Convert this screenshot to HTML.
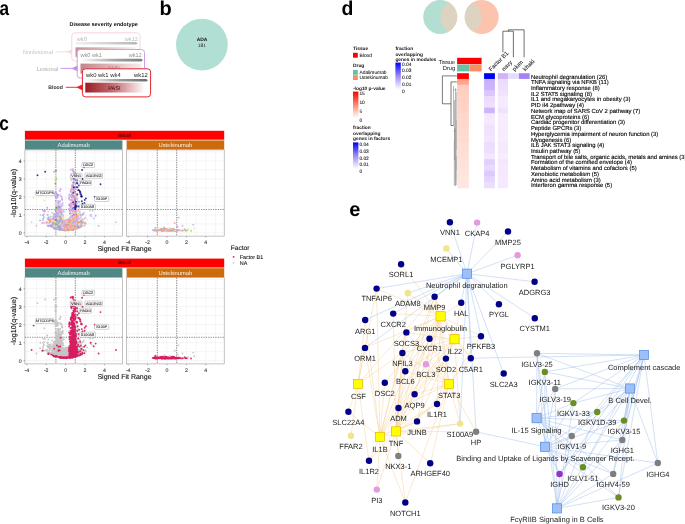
<!DOCTYPE html><html><head><meta charset="utf-8"><style>html,body{margin:0;padding:0;background:#fff;}svg{display:block;text-rendering:geometricPrecision;will-change:transform;}</style></head><body><svg width="685" height="524" viewBox="0 0 685 524" font-family='"Liberation Sans", sans-serif'>
<rect width="685" height="524" fill="#fff"/>
<defs><linearGradient id="barg" x1="0" x2="1" y1="0" y2="0"><stop offset="0" stop-color="#ffffff"/><stop offset="0.55" stop-color="#9a9c9c"/><stop offset="1" stop-color="#6b6e6e"/></linearGradient><linearGradient id="pasig" x1="0" x2="1" y1="0" y2="0"><stop offset="0" stop-color="#9b1c24"/><stop offset="0.5" stop-color="#c9737a"/><stop offset="1" stop-color="#ffffff"/></linearGradient><linearGradient id="pasig2" x1="0" x2="1" y1="0" y2="0"><stop offset="0" stop-color="#c4848a"/><stop offset="1" stop-color="#f8ecee"/></linearGradient><linearGradient id="pasig1" x1="0" x2="1" y1="0" y2="0"><stop offset="0" stop-color="#c98f94"/><stop offset="1" stop-color="#f9eeef"/></linearGradient><linearGradient id="barg1" x1="0" x2="1" y1="0" y2="0"><stop offset="0" stop-color="#f2f2f2"/><stop offset="1" stop-color="#b4b6b6"/></linearGradient></defs>
<text x="69.5" y="26.3" font-size="5.45" fill="#111" font-weight="bold">Disease severity endotype</text>
<rect x="71.8" y="32.8" width="68.2" height="28.2" rx="3" fill="#fff" stroke="#f7d3db" stroke-width="0.9"/>
<text x="76.8" y="40.8" font-size="5.6" fill="#b9b9b9">wk0</text>
<text x="137.9" y="40.8" font-size="5.6" fill="#b9b9b9" text-anchor="end">wk12</text>
<path d="M75.5 42.0 H136 L137.8 43.2 L136 44.4 H75.5 Z" fill="url(#barg1)"/>
<rect x="75.5" y="47.3" width="60" height="9.5" fill="url(#pasig1)"/>
<rect x="77.2" y="49.5" width="67.3" height="28.6" rx="3" fill="#fff" stroke="#c996ea" stroke-width="0.9"/>
<text x="80.4" y="56.8" font-size="5.6" fill="#8f8f8f">wk0 wk1</text>
<text x="141.7" y="56.8" font-size="5.6" fill="#8f8f8f" text-anchor="end">wk12</text>
<path d="M80.5 58.8 H141.3 L143 60.1 L141.3 61.4 H80.5 Z" fill="url(#barg)" opacity="0.9"/>
<rect x="80.5" y="63.6" width="61" height="10" fill="url(#pasig2)"/>
<text x="107.5" y="70.2" font-size="5.6" fill="#b08080">PASI</text>
<rect x="82.4" y="68.8" width="68.2" height="28.1" rx="3.2" fill="#fff" stroke="#e2262e" stroke-width="1"/>
<text x="86.0" y="76.6" font-size="5.9" fill="#222">wk0 wk1 wk4</text>
<text x="147.8" y="76.6" font-size="5.9" fill="#222" text-anchor="end">wk12</text>
<path d="M85.3 78.9 H146.3 L148 80.2 L146.3 81.6 H85.3 Z" fill="url(#barg)"/>
<rect x="85.3" y="82.7" width="59.5" height="9.8" fill="url(#pasig)"/>
<text x="114.3" y="89.5" font-size="5.6" fill="#3a0d10" text-anchor="middle">PASI</text>
<text x="53.0" y="53.8" font-size="5.8" fill="#c4c4c4" text-anchor="end">Nonlesional</text>
<line x1="55.3" y1="51.8" x2="70" y2="51.8" stroke="#f9d5dc" stroke-width="0.9"/>
<path d="M67 51.8 L72 49.3 L72 54.3 Z" fill="#f9d5dc"/>
<text x="58.2" y="71.0" font-size="5.8" fill="#adadad" text-anchor="end">Lesional</text>
<line x1="60.5" y1="68.4" x2="75" y2="68.4" stroke="#c58ee8" stroke-width="0.9"/>
<path d="M71.5 68.4 L77.3 65.6 L77.3 71.2 Z" fill="#c58ee8"/>
<text x="62.9" y="88.8" font-size="5.2" fill="#333" text-anchor="end" font-weight="bold">Blood</text>
<line x1="65.8" y1="87.3" x2="80" y2="87.3" stroke="#ee1c24" stroke-width="0.9"/>
<path d="M76.5 87.3 L82.6 84.2 L82.6 90.4 Z" fill="#ee1c24"/>
<circle cx="201.9" cy="44.6" r="25.9" fill="#b2dfd3"/>
<text x="202.1" y="40.7" font-size="4.9" fill="#111" text-anchor="middle" font-weight="bold">ADA</text>
<text x="201.9" y="46.7" font-size="4.9" fill="#222" text-anchor="middle">181</text>
<rect x="24.9" y="130.8" width="199.3" height="8.9" fill="#ff0000"/>
<text x="124.5" y="136.6" font-size="4.9" fill="#1a0000" text-anchor="middle">Blood</text>
<rect x="24.9" y="140.4" width="97.5" height="9.2" fill="#4f8885"/>
<rect x="126.6" y="140.4" width="97.6" height="9.2" fill="#cc6a0c"/>
<text x="73.7" y="147.1" font-size="5.8" fill="#f2f2f2" text-anchor="middle">Adalimumab</text>
<text x="175.4" y="147.1" font-size="5.8" fill="#f2f2f2" text-anchor="middle">Ustekinumab</text>
<rect x="24.9" y="149.9" width="97.5" height="86.2" fill="#fff" stroke="#9a9a9a" stroke-width="0.6"/>
<path d="M26.8 149.9V236.1 M36.5 149.9V236.1 M46.2 149.9V236.1 M55.9 149.9V236.1 M65.6 149.9V236.1 M75.3 149.9V236.1 M85.0 149.9V236.1 M94.7 149.9V236.1 M104.4 149.9V236.1 M114.1 149.9V236.1 M24.9 232.9H122.4 M24.9 223.9H122.4 M24.9 214.9H122.4 M24.9 205.9H122.4 M24.9 196.9H122.4 M24.9 187.9H122.4 M24.9 178.9H122.4 M24.9 169.9H122.4 M24.9 160.9H122.4 M24.9 151.9H122.4" stroke="#ececec" stroke-width="0.5" fill="none"/>
<path d="M55.9 149.9V236.1 M75.3 149.9V236.1 M24.9 209.5H122.4" stroke="#333" stroke-width="0.55" stroke-dasharray="1.3 1.1" fill="none"/>
<line x1="26.8" y1="236.1" x2="26.8" y2="237.4" stroke="#555" stroke-width="0.5"/>
<text x="26.8" y="244.1" font-size="5.2" fill="#3a3a3a" text-anchor="middle" stroke="#3a3a3a" stroke-width="0.1">-4</text>
<line x1="46.2" y1="236.1" x2="46.2" y2="237.4" stroke="#555" stroke-width="0.5"/>
<text x="46.2" y="244.1" font-size="5.2" fill="#3a3a3a" text-anchor="middle" stroke="#3a3a3a" stroke-width="0.1">-2</text>
<line x1="65.6" y1="236.1" x2="65.6" y2="237.4" stroke="#555" stroke-width="0.5"/>
<text x="65.6" y="244.1" font-size="5.2" fill="#3a3a3a" text-anchor="middle" stroke="#3a3a3a" stroke-width="0.1">0</text>
<line x1="85.0" y1="236.1" x2="85.0" y2="237.4" stroke="#555" stroke-width="0.5"/>
<text x="85.0" y="244.1" font-size="5.2" fill="#3a3a3a" text-anchor="middle" stroke="#3a3a3a" stroke-width="0.1">2</text>
<line x1="104.4" y1="236.1" x2="104.4" y2="237.4" stroke="#555" stroke-width="0.5"/>
<text x="104.4" y="244.1" font-size="5.2" fill="#3a3a3a" text-anchor="middle" stroke="#3a3a3a" stroke-width="0.1">4</text>
<rect x="126.6" y="149.9" width="97.6" height="86.2" fill="#fff" stroke="#9a9a9a" stroke-width="0.6"/>
<path d="M128.2 149.9V236.1 M137.9 149.9V236.1 M147.6 149.9V236.1 M157.3 149.9V236.1 M167.0 149.9V236.1 M176.7 149.9V236.1 M186.4 149.9V236.1 M196.1 149.9V236.1 M205.8 149.9V236.1 M215.5 149.9V236.1 M126.6 232.9H224.2 M126.6 223.9H224.2 M126.6 214.9H224.2 M126.6 205.9H224.2 M126.6 196.9H224.2 M126.6 187.9H224.2 M126.6 178.9H224.2 M126.6 169.9H224.2 M126.6 160.9H224.2 M126.6 151.9H224.2" stroke="#ececec" stroke-width="0.5" fill="none"/>
<path d="M157.3 149.9V236.1 M176.7 149.9V236.1 M126.6 209.5H224.2" stroke="#333" stroke-width="0.55" stroke-dasharray="1.3 1.1" fill="none"/>
<line x1="128.2" y1="236.1" x2="128.2" y2="237.4" stroke="#555" stroke-width="0.5"/>
<text x="128.2" y="244.1" font-size="5.2" fill="#3a3a3a" text-anchor="middle" stroke="#3a3a3a" stroke-width="0.1">-4</text>
<line x1="147.6" y1="236.1" x2="147.6" y2="237.4" stroke="#555" stroke-width="0.5"/>
<text x="147.6" y="244.1" font-size="5.2" fill="#3a3a3a" text-anchor="middle" stroke="#3a3a3a" stroke-width="0.1">-2</text>
<line x1="167.0" y1="236.1" x2="167.0" y2="237.4" stroke="#555" stroke-width="0.5"/>
<text x="167.0" y="244.1" font-size="5.2" fill="#3a3a3a" text-anchor="middle" stroke="#3a3a3a" stroke-width="0.1">0</text>
<line x1="186.4" y1="236.1" x2="186.4" y2="237.4" stroke="#555" stroke-width="0.5"/>
<text x="186.4" y="244.1" font-size="5.2" fill="#3a3a3a" text-anchor="middle" stroke="#3a3a3a" stroke-width="0.1">2</text>
<line x1="205.8" y1="236.1" x2="205.8" y2="237.4" stroke="#555" stroke-width="0.5"/>
<text x="205.8" y="244.1" font-size="5.2" fill="#3a3a3a" text-anchor="middle" stroke="#3a3a3a" stroke-width="0.1">4</text>
<line x1="23.6" y1="232.9" x2="24.9" y2="232.9" stroke="#555" stroke-width="0.5"/>
<text x="21.6" y="234.7" font-size="5.2" fill="#3a3a3a" text-anchor="end" stroke="#3a3a3a" stroke-width="0.1">0</text>
<line x1="23.6" y1="214.9" x2="24.9" y2="214.9" stroke="#555" stroke-width="0.5"/>
<text x="21.6" y="216.7" font-size="5.2" fill="#3a3a3a" text-anchor="end" stroke="#3a3a3a" stroke-width="0.1">1</text>
<line x1="23.6" y1="196.9" x2="24.9" y2="196.9" stroke="#555" stroke-width="0.5"/>
<text x="21.6" y="198.7" font-size="5.2" fill="#3a3a3a" text-anchor="end" stroke="#3a3a3a" stroke-width="0.1">2</text>
<line x1="23.6" y1="178.9" x2="24.9" y2="178.9" stroke="#555" stroke-width="0.5"/>
<text x="21.6" y="180.7" font-size="5.2" fill="#3a3a3a" text-anchor="end" stroke="#3a3a3a" stroke-width="0.1">3</text>
<line x1="23.6" y1="160.9" x2="24.9" y2="160.9" stroke="#555" stroke-width="0.5"/>
<text x="21.6" y="162.7" font-size="5.2" fill="#3a3a3a" text-anchor="end" stroke="#3a3a3a" stroke-width="0.1">4</text>
<text x="124.5" y="251.0" font-size="7.0" fill="#111" text-anchor="middle" stroke="#111" stroke-width="0.12">Signed Fit Range</text>
<text transform="translate(16.0 193.2) rotate(-90)" font-size="7.2" text-anchor="middle" textLength="48.5" lengthAdjust="spacingAndGlyphs" fill="#111" stroke="#111" stroke-width="0.12">-log10(q-value)</text>
<path d="M78.8 206.5h0M73.2 186.7h0" stroke="#0c0c70" stroke-width="1.90" stroke-linecap="round" stroke-opacity="0.85" fill="none"/>
<path d="M59.7 216.8h0M59.7 221.8h0M73.0 228.7h0M55.5 227.3h0M74.4 225.9h0M55.8 227.8h0M50.0 219.6h0M62.1 223.2h0M53.0 223.2h0M52.2 218.8h0M59.5 224.6h0M68.9 227.8h0M53.5 227.8h0M55.2 221.1h0M59.9 216.2h0M64.0 228.3h0M63.8 225.2h0" stroke="#a8b4b4" stroke-width="1.90" stroke-linecap="round" stroke-opacity="0.85" fill="none"/>
<path d="M78.0 226.7h0M68.5 222.2h0M54.9 195.4h0M58.1 228.6h0M74.1 188.6h0M61.9 227.9h0M54.7 222.5h0M60.0 212.2h0M71.3 212.8h0M57.6 222.2h0M74.8 213.2h0M77.4 205.9h0M75.2 219.2h0M77.2 224.2h0M76.2 220.3h0M73.4 221.6h0M60.1 223.4h0M75.7 220.3h0M57.0 213.0h0M59.3 217.7h0M70.9 229.8h0M73.9 224.7h0M73.6 206.9h0M59.1 223.6h0M59.0 210.1h0M81.0 224.9h0" stroke="#cdb0f4" stroke-width="1.90" stroke-linecap="round" stroke-opacity="0.85" fill="none"/>
<path d="M64.0 226.9h0M63.2 229.8h0M75.3 220.5h0M64.1 229.6h0M70.0 227.0h0M61.5 229.3h0M72.0 221.6h0M54.3 225.5h0M71.7 213.9h0M63.0 228.9h0M54.1 225.6h0M75.3 221.4h0M75.2 228.3h0M64.0 229.4h0M70.4 219.7h0" stroke="#a4cdf4" stroke-width="1.90" stroke-linecap="round" stroke-opacity="0.85" fill="none"/>
<path d="M69.6 225.1h0M66.5 229.2h0M75.0 212.6h0M67.8 226.2h0M68.6 229.1h0M67.3 229.4h0M65.5 229.9h0M72.9 228.0h0M73.7 225.3h0M69.3 221.7h0M65.9 227.5h0M74.4 223.8h0M73.6 205.4h0M72.4 195.5h0M72.2 223.4h0M64.5 226.9h0M72.4 221.5h0" stroke="#fd9470" stroke-width="1.90" stroke-linecap="round" stroke-opacity="0.85" fill="none"/>
<path d="M59.6 229.7h0M62.8 227.5h0M76.3 213.6h0M75.7 225.5h0M73.1 228.1h0M75.6 229.0h0M69.3 223.7h0M68.0 227.4h0M69.4 226.6h0M78.5 224.1h0M77.2 226.0h0M72.4 225.0h0M70.4 229.5h0M72.9 228.7h0M75.6 225.8h0M65.2 228.5h0" stroke="#fcc0a4" stroke-width="1.90" stroke-linecap="round" stroke-opacity="0.85" fill="none"/>
<path d="M61.6 215.6h0M59.7 229.8h0M71.8 216.7h0M66.7 227.3h0M80.8 222.1h0M59.7 229.1h0M76.9 223.9h0M63.1 228.7h0M62.0 229.4h0M71.5 218.8h0M72.9 204.1h0M72.0 217.1h0M59.4 229.2h0M55.9 227.7h0" stroke="#bcdcf7" stroke-width="1.90" stroke-linecap="round" stroke-opacity="0.85" fill="none"/>
<path d="M69.0 225.5h0M73.8 228.7h0M70.0 219.9h0M48.5 219.6h0M74.1 225.3h0M53.7 218.5h0M76.6 225.8h0M65.3 223.7h0M66.0 225.1h0M68.0 224.9h0M66.4 225.2h0M66.1 229.0h0M78.1 177.5h0M53.2 221.8h0M64.7 227.1h0M75.9 227.1h0M73.5 224.4h0M64.5 229.3h0M68.9 229.2h0M73.5 220.2h0" stroke="#f8b8a0" stroke-width="1.90" stroke-linecap="round" stroke-opacity="0.85" fill="none"/>
<path d="M58.6 222.7h0M69.9 222.2h0M71.5 205.0h0M56.8 210.0h0M60.6 225.1h0M72.7 215.2h0M58.2 228.3h0M62.8 229.8h0M60.0 221.0h0M60.1 221.6h0M57.4 221.9h0M60.3 195.3h0M67.8 226.5h0M57.3 228.9h0M74.4 223.8h0M58.4 218.9h0M57.0 217.0h0M60.4 222.5h0M60.2 212.9h0M69.9 218.2h0M72.5 216.0h0M55.8 224.7h0M73.3 208.1h0M74.8 217.1h0M56.5 218.8h0M80.2 224.1h0M77.4 218.6h0M58.7 223.8h0M74.0 180.7h0M73.7 213.4h0" stroke="#c7a6f2" stroke-width="1.90" stroke-linecap="round" stroke-opacity="0.85" fill="none"/>
<path d="M75.1 222.8h0M71.5 221.2h0M58.8 222.5h0M60.8 221.1h0M74.5 188.0h0M70.9 203.2h0M59.5 227.2h0M72.2 209.1h0M74.0 223.2h0M74.4 221.0h0M58.9 227.3h0M57.3 223.0h0M72.1 185.4h0M74.1 210.9h0M70.2 206.3h0M59.5 223.7h0M60.6 229.9h0M61.0 217.2h0M66.7 229.8h0M43.3 210.8h0M63.7 228.1h0M59.7 216.5h0M67.1 225.4h0M57.2 221.9h0M54.2 224.0h0M60.4 220.6h0" stroke="#ae88e6" stroke-width="1.90" stroke-linecap="round" stroke-opacity="0.85" fill="none"/>
<path d="M76.6 223.2h0M56.5 207.8h0M53.4 216.4h0M60.1 224.6h0M59.6 218.4h0M69.5 194.5h0M60.9 222.2h0M57.5 217.2h0M51.1 225.1h0M57.8 224.1h0M57.0 223.0h0M72.7 225.8h0M55.9 227.1h0M58.2 228.8h0" stroke="#8cbef0" stroke-width="1.90" stroke-linecap="round" stroke-opacity="0.85" fill="none"/>
<path d="M76.0 186.9h0M73.7 190.9h0M78.2 190.1h0" stroke="#22229a" stroke-width="1.90" stroke-linecap="round" stroke-opacity="0.85" fill="none"/>
<path d="M72.6 203.4h0M71.6 218.7h0M76.1 209.5h0M58.9 204.7h0M62.9 224.7h0M60.9 222.7h0M44.3 214.1h0M69.2 229.6h0M71.0 219.2h0M75.3 211.2h0M73.7 222.2h0M74.2 227.7h0M65.3 226.1h0M59.1 222.3h0M62.3 212.5h0M58.7 218.3h0" stroke="#f5afd6" stroke-width="1.90" stroke-linecap="round" stroke-opacity="0.85" fill="none"/>
<path d="M54.1 219.0h0M59.7 229.4h0M73.0 187.4h0M81.0 215.2h0M60.4 218.0h0M73.8 221.4h0M54.0 225.7h0M69.1 227.9h0M55.0 223.3h0M58.1 206.2h0M71.2 191.2h0M56.3 209.9h0M60.5 221.1h0M62.3 224.6h0M55.1 228.8h0M71.4 192.8h0M58.8 227.5h0M83.6 222.3h0M72.0 223.8h0M61.1 210.5h0M71.3 225.3h0M58.3 214.7h0" stroke="#bfa2f0" stroke-width="1.90" stroke-linecap="round" stroke-opacity="0.85" fill="none"/>
<path d="M78.4 225.9h0M54.2 220.8h0M62.3 224.8h0M73.6 224.6h0M56.9 195.7h0M64.8 229.8h0M58.6 212.2h0M74.1 195.1h0M59.5 224.4h0M75.8 215.9h0M58.5 213.1h0M73.5 221.9h0M74.4 218.1h0M63.9 228.7h0" stroke="#f7c6e2" stroke-width="1.90" stroke-linecap="round" stroke-opacity="0.85" fill="none"/>
<path d="M74.8 208.7h0M72.2 219.9h0M69.9 209.3h0M75.3 221.0h0M71.6 213.0h0M60.4 217.2h0M56.4 210.4h0M47.5 224.7h0M81.7 226.7h0M66.2 230.4h0" stroke="#f4e284" stroke-width="1.90" stroke-linecap="round" stroke-opacity="0.85" fill="none"/>
<path d="M40.4 214.9h0" stroke="#9cc8f2" stroke-width="1.90" stroke-linecap="round" stroke-opacity="0.85" fill="none"/>
<path d="M72.6 228.9h0M62.6 205.7h0M63.2 227.2h0M74.1 221.8h0M60.3 220.6h0M61.1 205.8h0M69.8 227.3h0M73.1 215.7h0M60.8 224.9h0M73.9 198.9h0M73.4 222.9h0M64.0 226.4h0M59.4 203.1h0M57.2 221.3h0M63.5 224.0h0M71.7 180.4h0M72.7 226.9h0M78.2 227.9h0M68.2 228.2h0M69.2 219.6h0M64.1 224.7h0M61.9 221.3h0M57.2 225.1h0M59.3 221.9h0M75.1 220.9h0" stroke="#d6bcf6" stroke-width="1.90" stroke-linecap="round" stroke-opacity="0.85" fill="none"/>
<path d="M74.3 223.6h0M62.2 199.5h0M71.9 219.6h0M61.9 214.3h0M72.5 178.0h0M58.4 223.4h0M61.8 229.8h0M73.5 221.3h0M77.3 221.6h0M71.8 224.4h0M61.4 229.9h0M73.1 216.3h0M84.1 219.0h0M72.5 221.2h0M62.1 227.6h0M59.1 228.1h0" stroke="#eba5ce" stroke-width="1.90" stroke-linecap="round" stroke-opacity="0.85" fill="none"/>
<path d="M76.8 218.7h0M69.9 227.9h0M68.6 225.3h0M72.3 229.7h0M69.8 227.9h0M65.5 228.7h0M69.8 228.4h0M71.4 227.3h0M55.3 220.9h0M79.8 218.6h0M68.4 223.7h0M67.3 224.3h0M66.0 221.3h0M77.2 223.5h0M73.6 229.3h0M63.3 230.0h0M74.9 223.4h0M74.8 213.3h0M75.3 220.2h0M73.5 227.6h0M69.6 224.9h0M68.3 228.6h0M71.6 229.6h0M64.7 227.3h0" stroke="#fb9a74" stroke-width="1.90" stroke-linecap="round" stroke-opacity="0.85" fill="none"/>
<path d="M61.6 222.2h0M60.4 228.2h0M65.2 227.8h0M61.4 227.6h0M61.9 227.7h0M79.4 227.6h0M65.1 222.8h0" stroke="#8fbdb9" stroke-width="1.90" stroke-linecap="round" stroke-opacity="0.85" fill="none"/>
<path d="M74.8 227.4h0M74.7 223.0h0M72.2 228.5h0M68.6 228.7h0M79.4 224.3h0M70.1 226.8h0M67.1 229.0h0M77.6 223.6h0M68.6 228.0h0M72.1 200.2h0M66.7 228.6h0M66.8 229.6h0M69.1 224.2h0M77.5 226.6h0" stroke="#fcad8c" stroke-width="1.90" stroke-linecap="round" stroke-opacity="0.85" fill="none"/>
<path d="M67.8 228.5h0M68.3 229.0h0M70.6 212.8h0M76.4 223.3h0M66.8 223.2h0M65.9 228.1h0M74.2 229.3h0M71.6 227.3h0M77.0 228.5h0M70.8 207.0h0M79.2 224.5h0M77.1 225.8h0M73.7 229.5h0M71.9 227.6h0M76.0 208.0h0" stroke="#fa8c64" stroke-width="1.90" stroke-linecap="round" stroke-opacity="0.85" fill="none"/>
<path d="M70.5 217.0h0M57.9 223.3h0M64.1 223.9h0M62.2 224.6h0M59.7 223.1h0M57.7 223.7h0M82.3 223.8h0M60.7 224.5h0M60.7 223.6h0M72.7 207.8h0M61.5 225.9h0M57.5 209.3h0M73.9 217.3h0M58.8 218.7h0M54.0 219.5h0M58.4 220.6h0M74.5 216.4h0M73.3 217.1h0M73.7 222.6h0M61.1 227.3h0M58.8 229.3h0M57.8 223.5h0" stroke="#b995ec" stroke-width="1.90" stroke-linecap="round" stroke-opacity="0.85" fill="none"/>
<path d="M41.3 195.1h0" stroke="#f4a6d0" stroke-width="1.90" stroke-linecap="round" stroke-opacity="0.85" fill="none"/>
<path d="M62.2 221.8h0M58.9 208.1h0M70.2 228.3h0M62.8 226.4h0M60.0 220.2h0M72.4 199.1h0M57.3 226.3h0M67.5 227.2h0" stroke="#f7eba4" stroke-width="1.90" stroke-linecap="round" stroke-opacity="0.85" fill="none"/>
<path d="M72.1 222.9h0M65.4 227.9h0M63.5 227.2h0M74.0 212.1h0M65.3 224.3h0M64.2 229.9h0M48.4 211.6h0M52.6 221.8h0M74.7 216.0h0M57.9 223.7h0M66.0 226.4h0M75.1 221.0h0M59.4 224.7h0M76.5 205.5h0M61.1 204.1h0" stroke="#f2bde0" stroke-width="1.90" stroke-linecap="round" stroke-opacity="0.85" fill="none"/>
<path d="M73.0 201.1h0M84.7 199.9h0" stroke="#1c1c8c" stroke-width="1.90" stroke-linecap="round" stroke-opacity="0.85" fill="none"/>
<path d="M63.1 228.1h0M57.4 210.0h0" stroke="#94c47c" stroke-width="1.90" stroke-linecap="round" stroke-opacity="0.85" fill="none"/>
<path d="M58.9 201.5h0M59.7 214.4h0M81.2 223.8h0M62.7 221.3h0M92.7 210.6h0M54.2 226.6h0M63.1 228.5h0M61.0 221.7h0M75.3 225.2h0M63.0 224.5h0" stroke="#a3cbc6" stroke-width="1.90" stroke-linecap="round" stroke-opacity="0.85" fill="none"/>
<path d="M76.8 220.7h0M58.2 224.6h0M66.4 228.1h0" stroke="#bde3a8" stroke-width="1.90" stroke-linecap="round" stroke-opacity="0.85" fill="none"/>
<path d="M50.9 216.4h0M69.8 226.3h0M53.7 214.2h0" stroke="#a8d694" stroke-width="1.90" stroke-linecap="round" stroke-opacity="0.85" fill="none"/>
<path d="M56.8 221.9h0" stroke="#8ab84a" stroke-width="1.90" stroke-linecap="round" stroke-opacity="0.85" fill="none"/>
<path d="M98.6 225.7h0" stroke="#9fd08a" stroke-width="1.90" stroke-linecap="round" stroke-opacity="0.85" fill="none"/>
<path d="M75.2 204.1h0" stroke="#14147e" stroke-width="1.90" stroke-linecap="round" stroke-opacity="0.85" fill="none"/>
<path d="M55.9 219.3h0" stroke="#7aa83a" stroke-width="1.90" stroke-linecap="round" stroke-opacity="0.85" fill="none"/>
<path d="M47.2 207.7h0M95.7 215.8h0M90.8 214.9h0" stroke="#c29ef0" stroke-width="1.90" stroke-linecap="round" stroke-opacity="0.85" fill="none"/>
<path d="M77.7 224.2h0M53.6 225.8h0M67.6 226.5h0M55.8 228.2h0M74.3 219.7h0M67.0 227.0h0M68.5 228.6h0M73.0 223.0h0M65.5 225.5h0M69.0 229.1h0M66.4 228.1h0M71.5 225.5h0M59.8 228.1h0M65.1 229.0h0M65.1 222.4h0M74.0 224.5h0M75.4 219.0h0M65.5 228.9h0M71.8 224.4h0M74.5 203.0h0M71.2 223.7h0M72.1 227.5h0" stroke="#fa8c64" stroke-width="1.90" stroke-linecap="round" stroke-opacity="0.85" fill="none"/>
<path d="M73.2 222.6h0M66.9 229.6h0M66.0 227.9h0M75.6 208.6h0M71.6 228.6h0M71.0 227.1h0M77.6 222.7h0M74.3 225.3h0M70.3 229.0h0M72.4 223.0h0M69.2 224.5h0M76.2 223.1h0M58.4 219.4h0M71.6 225.9h0M69.9 226.5h0M72.2 220.4h0" stroke="#fcc0a4" stroke-width="1.90" stroke-linecap="round" stroke-opacity="0.85" fill="none"/>
<path d="M73.5 223.9h0M68.2 226.1h0M72.9 225.3h0M72.2 209.2h0M58.3 222.9h0M57.8 223.9h0M60.9 220.5h0M60.2 222.2h0M66.5 227.9h0M57.6 217.0h0M75.6 212.8h0M57.6 226.8h0M61.5 221.6h0M59.1 223.6h0M56.7 221.4h0M58.2 229.2h0M59.3 223.2h0M72.9 211.9h0M74.2 214.0h0M59.9 201.6h0M58.4 217.0h0M63.3 225.9h0" stroke="#bfa2f0" stroke-width="1.90" stroke-linecap="round" stroke-opacity="0.85" fill="none"/>
<path d="M66.7 229.0h0M60.3 228.4h0M58.1 226.7h0M59.2 222.8h0M55.1 224.2h0M52.0 222.3h0M58.4 223.0h0M60.3 207.2h0M69.1 229.7h0" stroke="#a3cbc6" stroke-width="1.90" stroke-linecap="round" stroke-opacity="0.85" fill="none"/>
<path d="M75.6 221.0h0M53.7 217.7h0M66.3 229.8h0M58.3 224.2h0M73.6 224.2h0M71.5 226.2h0M61.8 196.6h0M66.7 228.7h0M78.4 224.6h0M59.6 225.6h0M82.1 219.3h0M63.4 227.7h0M72.4 207.2h0M57.1 214.0h0M79.4 222.3h0M72.3 223.2h0M54.5 216.7h0M63.6 209.7h0M75.1 228.4h0M60.6 223.2h0M60.8 229.0h0M85.4 217.6h0M60.2 201.2h0M61.4 214.6h0M72.5 207.0h0M53.3 226.3h0" stroke="#cdb0f4" stroke-width="1.90" stroke-linecap="round" stroke-opacity="0.85" fill="none"/>
<path d="M71.7 224.0h0M59.0 224.1h0M56.9 227.9h0M72.3 213.7h0M55.8 228.2h0M52.0 224.1h0M62.2 224.3h0M72.1 203.0h0M55.4 223.5h0M57.0 214.5h0M67.8 229.6h0M74.0 204.3h0M75.6 219.7h0M70.5 203.0h0M73.5 189.2h0M61.0 226.7h0" stroke="#eba5ce" stroke-width="1.90" stroke-linecap="round" stroke-opacity="0.85" fill="none"/>
<path d="M69.4 228.6h0M71.5 205.7h0M66.0 227.0h0M64.2 227.0h0M69.9 225.5h0M74.8 227.0h0M81.4 221.2h0M75.5 226.5h0M64.7 226.4h0M63.3 226.8h0M73.1 226.5h0M64.5 230.0h0M68.7 228.6h0M67.4 224.1h0M76.0 225.1h0M69.4 225.8h0M67.9 224.6h0M70.8 223.5h0M71.0 227.4h0" stroke="#fd9470" stroke-width="1.90" stroke-linecap="round" stroke-opacity="0.85" fill="none"/>
<path d="M57.6 219.6h0M84.4 225.5h0M58.5 214.3h0M68.3 226.8h0M74.3 214.1h0M70.8 228.2h0M60.1 227.7h0M59.9 219.7h0M75.3 222.1h0M58.1 213.8h0M58.3 203.8h0M60.4 221.2h0M58.3 212.6h0M61.4 225.2h0M53.6 223.6h0M75.0 200.0h0M71.6 226.6h0M62.0 228.9h0M69.0 209.0h0M62.3 224.6h0M55.4 226.5h0M60.8 228.8h0M69.0 221.0h0M61.0 229.8h0M60.4 223.7h0M76.5 225.7h0M64.0 221.6h0" stroke="#c7a6f2" stroke-width="1.90" stroke-linecap="round" stroke-opacity="0.85" fill="none"/>
<path d="M81.3 225.7h0M55.5 228.5h0" stroke="#94c47c" stroke-width="1.90" stroke-linecap="round" stroke-opacity="0.85" fill="none"/>
<path d="M58.1 197.5h0M73.6 217.2h0M57.8 213.6h0M60.4 222.2h0M79.5 224.6h0M74.3 223.3h0M74.0 220.7h0M57.7 205.2h0M58.8 227.6h0M54.9 209.8h0M43.3 222.8h0M59.3 213.5h0M66.2 220.8h0M61.1 220.6h0M54.7 228.3h0M73.7 196.2h0M71.6 224.8h0M72.2 223.3h0M58.7 205.9h0M63.9 229.5h0" stroke="#f2bde0" stroke-width="1.90" stroke-linecap="round" stroke-opacity="0.85" fill="none"/>
<path d="M70.9 214.7h0M57.0 227.7h0M63.2 230.0h0M73.1 211.2h0M62.4 223.9h0M62.4 204.2h0M62.0 229.4h0" stroke="#f7eba4" stroke-width="1.90" stroke-linecap="round" stroke-opacity="0.85" fill="none"/>
<path d="M60.0 227.2h0M72.8 222.3h0M59.4 221.0h0M69.0 218.1h0M70.2 229.8h0M58.4 223.0h0M63.9 229.3h0M75.8 224.0h0M48.7 225.7h0M68.6 225.5h0M74.0 208.1h0M48.9 216.8h0" stroke="#bcdcf7" stroke-width="1.90" stroke-linecap="round" stroke-opacity="0.85" fill="none"/>
<path d="M68.2 224.6h0M74.5 223.2h0M74.5 217.0h0M66.4 227.4h0M66.1 222.7h0M64.9 224.1h0M70.6 219.6h0M65.8 229.2h0M68.3 229.7h0M58.6 227.6h0M64.8 225.5h0M59.5 226.3h0M80.3 223.4h0M69.3 222.7h0M65.7 223.3h0M60.6 226.2h0" stroke="#fb9a74" stroke-width="1.90" stroke-linecap="round" stroke-opacity="0.85" fill="none"/>
<path d="M70.9 221.0h0M67.9 226.6h0M62.2 226.4h0M59.7 229.3h0M75.0 173.6h0M69.5 228.3h0M73.0 205.3h0M55.7 182.6h0M71.7 219.8h0M61.6 229.7h0" stroke="#f4e284" stroke-width="1.90" stroke-linecap="round" stroke-opacity="0.85" fill="none"/>
<path d="M72.1 221.7h0M73.6 228.5h0M69.1 226.5h0M64.8 224.4h0M62.5 224.0h0M75.3 226.5h0M73.5 212.7h0M71.3 228.7h0M55.7 227.3h0M67.7 224.9h0M65.6 229.8h0M65.1 227.8h0M63.0 229.9h0M69.3 228.0h0M75.4 217.3h0M72.5 220.8h0M75.2 227.4h0M73.4 218.0h0M74.2 226.4h0M75.0 223.9h0M73.9 218.3h0" stroke="#fcad8c" stroke-width="1.90" stroke-linecap="round" stroke-opacity="0.85" fill="none"/>
<path d="M71.3 227.9h0M71.3 228.3h0M57.0 221.1h0M67.0 226.3h0M71.5 219.7h0M69.0 226.8h0M70.6 226.6h0M68.0 229.6h0M71.2 227.5h0M77.7 198.4h0M60.6 225.7h0M68.3 228.2h0M75.6 223.2h0" stroke="#f8b8a0" stroke-width="1.90" stroke-linecap="round" stroke-opacity="0.85" fill="none"/>
<path d="M37.5 175.3h0M75.2 209.0h0M100.5 184.3h0M77.4 187.2h0" stroke="#14147e" stroke-width="1.90" stroke-linecap="round" stroke-opacity="0.85" fill="none"/>
<path d="M56.2 207.2h0M72.5 215.1h0M73.5 208.9h0M61.5 226.5h0M61.1 226.5h0M55.6 222.8h0M75.5 211.1h0M73.0 224.3h0M60.4 209.6h0M55.7 192.6h0M58.1 213.5h0M75.0 190.8h0M58.3 218.9h0M79.7 211.7h0M60.6 224.7h0M84.8 223.3h0M71.1 190.5h0M75.5 227.5h0M53.7 218.5h0M61.3 226.3h0M69.7 221.9h0M56.0 179.5h0M57.5 196.1h0" stroke="#b995ec" stroke-width="1.90" stroke-linecap="round" stroke-opacity="0.85" fill="none"/>
<path d="M72.0 210.2h0M58.3 222.0h0M73.0 220.4h0M56.7 198.2h0M73.6 218.2h0M61.4 225.0h0M70.2 229.5h0M54.7 213.8h0M62.4 228.6h0M74.7 215.4h0M72.3 199.7h0M62.2 221.9h0M73.3 226.4h0" stroke="#8cbef0" stroke-width="1.90" stroke-linecap="round" stroke-opacity="0.85" fill="none"/>
<path d="M57.2 194.8h0M49.7 220.0h0M59.0 223.9h0M58.6 228.8h0M79.5 222.3h0" stroke="#a8b4b4" stroke-width="1.90" stroke-linecap="round" stroke-opacity="0.85" fill="none"/>
<path d="M55.4 197.0h0M68.0 224.0h0M57.9 223.0h0M57.0 228.7h0M55.4 221.3h0M58.7 221.7h0M61.4 226.4h0M72.1 229.7h0M58.9 224.7h0M60.3 215.6h0" stroke="#8fbdb9" stroke-width="1.90" stroke-linecap="round" stroke-opacity="0.85" fill="none"/>
<path d="M71.7 217.0h0M73.0 200.5h0M70.1 228.0h0M75.8 222.2h0M54.4 224.2h0M54.4 224.6h0M65.1 229.0h0M59.8 229.9h0M58.4 215.8h0M60.1 195.8h0M59.7 221.6h0M58.0 223.7h0M56.0 204.2h0M75.4 212.9h0M72.8 196.9h0M74.2 218.1h0" stroke="#f7c6e2" stroke-width="1.90" stroke-linecap="round" stroke-opacity="0.85" fill="none"/>
<path d="M70.6 218.1h0M75.2 202.2h0M69.1 198.7h0M76.0 221.8h0M43.1 215.2h0M57.5 225.9h0M59.0 223.4h0M58.8 213.1h0M65.0 228.2h0M58.4 214.7h0M57.6 218.1h0M74.9 222.4h0M72.7 170.5h0M57.3 228.4h0M63.9 228.1h0M56.6 217.1h0M72.4 210.2h0M49.7 222.6h0M73.4 196.4h0M67.9 223.3h0M58.6 220.6h0M59.3 206.8h0M72.2 196.9h0M72.6 177.3h0M73.5 226.3h0M67.3 227.2h0M78.2 218.5h0M60.2 222.1h0M58.2 223.1h0M69.8 227.9h0M71.6 194.7h0" stroke="#ae88e6" stroke-width="1.90" stroke-linecap="round" stroke-opacity="0.85" fill="none"/>
<path d="M73.1 204.4h0M72.4 198.8h0M74.1 217.5h0M59.7 213.1h0M72.3 186.7h0M60.6 223.6h0M73.9 207.1h0M62.7 209.8h0M72.4 220.1h0M64.9 222.9h0M55.2 194.0h0M45.0 222.8h0M69.8 197.0h0M57.0 224.2h0" stroke="#f5afd6" stroke-width="1.90" stroke-linecap="round" stroke-opacity="0.85" fill="none"/>
<path d="M65.2 229.8h0M61.2 223.8h0M67.8 223.4h0M73.8 229.5h0M52.2 223.9h0" stroke="#bde3a8" stroke-width="1.90" stroke-linecap="round" stroke-opacity="0.85" fill="none"/>
<path d="M59.9 224.8h0M60.1 216.5h0M57.5 218.6h0M57.5 216.0h0M73.3 216.3h0M74.7 181.1h0M73.7 204.3h0M72.3 220.0h0M64.3 229.3h0M60.4 210.7h0M47.6 215.1h0M57.5 217.0h0M62.5 223.6h0M62.4 228.5h0M71.9 225.2h0M58.2 217.7h0M71.7 196.2h0M60.1 218.4h0M76.7 214.7h0M62.4 225.7h0M60.5 229.7h0M71.5 210.0h0M61.2 222.5h0M70.8 224.0h0M73.6 209.1h0M62.9 216.1h0M63.6 227.6h0M55.7 226.9h0" stroke="#d6bcf6" stroke-width="1.90" stroke-linecap="round" stroke-opacity="0.85" fill="none"/>
<path d="M77.3 183.6h0M73.1 208.3h0M73.8 204.7h0M79.8 191.7h0M77.1 180.4h0M84.5 202.9h0M80.3 193.8h0M81.3 196.0h0" stroke="#1c1c8c" stroke-width="1.90" stroke-linecap="round" stroke-opacity="0.85" fill="none"/>
<path d="M58.5 224.0h0M67.4 228.5h0M80.5 220.7h0M63.0 228.2h0M71.2 228.1h0M65.8 227.5h0M60.1 218.4h0M57.3 222.9h0M60.8 216.2h0M61.3 229.1h0" stroke="#a4cdf4" stroke-width="1.90" stroke-linecap="round" stroke-opacity="0.85" fill="none"/>
<path d="M74.0 173.8h0M81.2 194.4h0M77.2 194.2h0" stroke="#22229a" stroke-width="1.90" stroke-linecap="round" stroke-opacity="0.85" fill="none"/>
<path d="M55.8 210.7h0M56.2 222.1h0M56.5 212.0h0M56.8 219.4h0M56.6 210.9h0" stroke="#7aa83a" stroke-width="1.90" stroke-linecap="round" stroke-opacity="0.85" fill="none"/>
<path d="M58.2 209.4h0M59.6 221.3h0M55.4 179.8h0" stroke="#a8d694" stroke-width="1.90" stroke-linecap="round" stroke-opacity="0.85" fill="none"/>
<path d="M55.9 170.8h0" stroke="#6e9a2e" stroke-width="1.90" stroke-linecap="round" stroke-opacity="0.85" fill="none"/>
<path d="M79.5 224.7h0M64.9 225.6h0M75.0 213.4h0M66.3 219.6h0M67.5 226.7h0M75.6 223.2h0M67.4 228.4h0M72.4 224.6h0M67.6 228.5h0M68.2 227.1h0M71.6 221.7h0M76.7 222.2h0M71.5 199.7h0M69.4 211.3h0M75.0 222.0h0M70.4 226.8h0" stroke="#f8b8a0" stroke-width="1.90" stroke-linecap="round" stroke-opacity="0.85" fill="none"/>
<path d="M72.2 222.0h0M74.2 227.8h0M58.2 225.6h0M52.7 227.5h0M63.7 229.6h0M72.9 221.4h0M72.3 219.4h0M74.1 221.8h0M72.6 216.1h0M58.8 222.4h0M63.2 227.0h0M71.3 209.6h0M62.3 228.0h0M72.5 189.6h0M73.3 221.2h0M74.1 184.1h0M59.4 210.7h0M73.4 206.0h0M57.1 220.2h0M74.8 216.2h0" stroke="#f5afd6" stroke-width="1.90" stroke-linecap="round" stroke-opacity="0.85" fill="none"/>
<path d="M73.5 224.1h0M66.4 227.4h0M68.9 230.2h0M77.1 226.8h0M74.6 221.8h0M75.1 216.1h0M63.7 226.5h0M62.1 227.7h0M65.6 228.8h0M70.7 228.7h0M69.3 227.7h0M60.5 228.6h0M77.4 223.7h0M67.6 226.0h0M65.1 228.0h0M80.2 213.7h0M72.0 218.2h0" stroke="#fcc0a4" stroke-width="1.90" stroke-linecap="round" stroke-opacity="0.85" fill="none"/>
<path d="M58.7 224.8h0M59.0 215.9h0M71.5 209.3h0M44.9 211.3h0M65.1 226.6h0M59.2 221.3h0M74.2 196.2h0M58.6 222.1h0M60.6 189.1h0M75.3 180.7h0M60.7 211.7h0M71.4 220.2h0M62.5 225.9h0M75.3 183.3h0M74.4 227.3h0M73.5 215.1h0M72.7 195.4h0M75.9 210.1h0" stroke="#ae88e6" stroke-width="1.90" stroke-linecap="round" stroke-opacity="0.85" fill="none"/>
<path d="M70.4 220.0h0M73.4 184.4h0M55.6 228.9h0M61.2 229.0h0M76.0 225.9h0M73.6 222.8h0M71.2 226.5h0M72.0 218.8h0M62.2 199.8h0M57.8 223.7h0M54.8 223.5h0M58.7 219.0h0M70.2 195.9h0M74.3 225.0h0M70.1 205.1h0M56.8 222.5h0M74.2 214.2h0M76.0 225.3h0M78.4 216.9h0M74.3 207.9h0M70.6 191.4h0M63.3 225.8h0M60.4 215.7h0" stroke="#b995ec" stroke-width="1.90" stroke-linecap="round" stroke-opacity="0.85" fill="none"/>
<path d="M62.0 229.3h0M74.2 198.9h0M82.0 225.0h0M61.5 228.8h0M57.4 218.8h0M62.2 221.9h0M57.4 223.1h0M60.6 207.8h0M63.9 220.7h0M59.3 225.0h0M75.6 218.2h0M76.2 216.7h0M72.0 209.0h0M65.0 228.4h0M59.7 228.4h0M59.2 216.8h0M70.0 206.4h0M60.5 223.1h0M56.9 196.7h0M58.0 206.9h0M60.0 219.2h0M64.6 229.3h0M57.7 202.4h0M59.2 225.9h0M61.0 216.5h0M74.2 209.3h0" stroke="#bfa2f0" stroke-width="1.90" stroke-linecap="round" stroke-opacity="0.85" fill="none"/>
<path d="M73.1 220.7h0M73.2 214.8h0M53.7 228.4h0" stroke="#f7eba4" stroke-width="1.90" stroke-linecap="round" stroke-opacity="0.85" fill="none"/>
<path d="M72.7 220.0h0M64.7 229.7h0M58.0 218.6h0M60.6 221.3h0M65.8 223.5h0M77.3 223.5h0M58.0 222.3h0M68.6 223.3h0M68.6 225.7h0M73.8 222.8h0M72.3 206.3h0M76.4 228.5h0M69.9 230.1h0M65.8 229.4h0M72.4 224.1h0M73.0 202.2h0" stroke="#fb9a74" stroke-width="1.90" stroke-linecap="round" stroke-opacity="0.85" fill="none"/>
<path d="M52.1 226.3h0M66.0 230.3h0M60.8 224.7h0M61.9 230.0h0M78.2 225.3h0M46.7 223.0h0M78.4 222.4h0M74.8 202.5h0M59.6 229.8h0M67.0 224.6h0M78.4 221.6h0M78.6 215.5h0M62.3 229.7h0M63.6 223.9h0M77.9 201.1h0M76.9 198.9h0M58.4 215.5h0" stroke="#8cbef0" stroke-width="1.90" stroke-linecap="round" stroke-opacity="0.85" fill="none"/>
<path d="M69.0 226.8h0M60.0 210.0h0M58.3 218.7h0M74.1 198.4h0M65.1 227.8h0M72.1 207.9h0M74.4 204.5h0M72.0 216.5h0M69.6 222.8h0M57.8 224.2h0M74.3 209.5h0M62.5 219.8h0M76.0 208.4h0" stroke="#f2bde0" stroke-width="1.90" stroke-linecap="round" stroke-opacity="0.85" fill="none"/>
<path d="M72.9 210.0h0M70.6 227.8h0M68.0 229.5h0M66.3 225.0h0M73.7 224.6h0M70.4 229.3h0M69.3 221.7h0M49.3 217.9h0M71.7 226.2h0M71.7 224.3h0M64.4 227.3h0M61.5 225.4h0M64.0 230.1h0M77.7 224.6h0M67.4 230.1h0M76.1 213.6h0M61.4 228.8h0" stroke="#fd9470" stroke-width="1.90" stroke-linecap="round" stroke-opacity="0.85" fill="none"/>
<path d="M72.8 194.1h0M77.9 218.9h0M71.5 223.1h0M59.6 216.2h0M72.7 221.2h0M52.7 224.3h0M56.5 224.5h0M47.7 214.7h0M58.0 215.0h0M68.4 222.1h0M60.4 224.2h0M77.1 219.0h0M59.6 229.7h0M69.7 222.7h0M72.7 224.2h0M59.9 221.1h0M65.0 229.2h0M70.5 230.0h0M55.7 215.3h0M72.7 176.9h0" stroke="#c7a6f2" stroke-width="1.90" stroke-linecap="round" stroke-opacity="0.85" fill="none"/>
<path d="M74.7 228.7h0M69.3 222.4h0M62.5 227.8h0M74.9 218.4h0M72.7 206.4h0M68.8 224.6h0M49.2 225.0h0M59.2 218.4h0M78.3 213.9h0M63.3 224.3h0M62.3 228.9h0M65.1 229.1h0M60.1 218.6h0M58.3 225.4h0M66.9 226.8h0M59.3 226.9h0M70.5 226.6h0" stroke="#bcdcf7" stroke-width="1.90" stroke-linecap="round" stroke-opacity="0.85" fill="none"/>
<path d="M83.8 212.7h0M73.2 169.5h0M62.5 215.0h0M72.5 177.1h0M72.0 212.3h0M58.1 219.9h0M71.9 214.9h0M57.6 217.0h0M73.7 228.5h0M74.1 221.2h0M55.3 228.2h0M59.3 208.7h0M73.6 217.6h0M71.7 224.5h0M60.9 219.7h0M57.6 226.5h0M76.7 207.5h0M72.7 187.1h0M72.7 216.6h0M71.4 216.3h0M65.7 228.7h0M60.0 219.1h0M61.8 215.3h0M75.0 219.0h0M69.3 197.0h0M72.7 216.2h0M72.5 216.8h0M74.9 208.0h0M66.0 226.3h0M57.3 221.3h0" stroke="#cdb0f4" stroke-width="1.90" stroke-linecap="round" stroke-opacity="0.85" fill="none"/>
<path d="M58.9 224.2h0M58.5 220.0h0M63.6 225.9h0M65.9 230.2h0M66.8 225.0h0M57.6 223.8h0M85.6 222.5h0M59.2 228.1h0M66.2 221.3h0M57.0 223.1h0M59.4 229.7h0M63.1 227.9h0M53.1 227.1h0" stroke="#bde3a8" stroke-width="1.90" stroke-linecap="round" stroke-opacity="0.85" fill="none"/>
<path d="M31.6 222.1h0" stroke="#cccccc" stroke-width="1.90" stroke-linecap="round" stroke-opacity="0.85" fill="none"/>
<path d="M72.7 206.2h0M71.7 223.2h0M51.9 218.4h0M79.6 218.8h0M72.9 227.3h0M75.0 181.9h0M91.7 216.8h0M78.5 225.4h0M74.0 222.9h0M72.8 176.1h0M60.5 222.4h0M63.6 217.8h0M73.1 215.2h0M53.5 221.1h0M60.3 224.6h0M60.2 221.8h0M67.3 221.6h0M73.2 190.5h0" stroke="#f7c6e2" stroke-width="1.90" stroke-linecap="round" stroke-opacity="0.85" fill="none"/>
<path d="M60.4 216.8h0M62.6 223.4h0M61.9 198.7h0M49.2 225.6h0M85.8 223.7h0M55.3 223.0h0M63.5 228.1h0M61.1 226.9h0M63.5 224.5h0M56.6 225.4h0" stroke="#a3cbc6" stroke-width="1.90" stroke-linecap="round" stroke-opacity="0.85" fill="none"/>
<path d="M76.6 220.4h0M66.4 228.5h0M66.8 224.9h0M72.5 227.6h0M72.3 228.8h0M70.8 221.2h0M70.7 227.8h0M76.6 216.9h0M72.5 213.8h0M74.8 227.1h0M72.3 227.8h0M64.3 227.1h0M70.6 210.7h0M71.6 228.6h0" stroke="#fcad8c" stroke-width="1.90" stroke-linecap="round" stroke-opacity="0.85" fill="none"/>
<path d="M60.1 219.1h0M73.4 185.3h0M59.1 222.8h0M72.7 214.4h0M73.6 213.5h0M61.3 210.8h0M61.4 226.6h0M63.4 226.2h0M74.8 221.1h0M65.5 229.8h0M73.0 198.7h0M62.9 217.7h0M74.9 224.1h0M59.7 213.3h0M71.6 190.9h0M72.5 197.4h0" stroke="#f4e284" stroke-width="1.90" stroke-linecap="round" stroke-opacity="0.85" fill="none"/>
<path d="M61.3 219.6h0M49.0 222.9h0M56.7 227.1h0M56.4 178.5h0M56.0 217.4h0M42.8 222.7h0M62.3 215.7h0" stroke="#a8d694" stroke-width="1.90" stroke-linecap="round" stroke-opacity="0.85" fill="none"/>
<path d="M73.7 222.2h0M74.1 218.9h0M58.8 224.2h0M75.1 220.4h0M67.9 226.4h0M76.4 221.0h0M75.4 219.4h0M62.2 222.2h0M57.5 224.6h0M69.8 226.6h0M75.5 189.0h0M65.6 229.4h0M72.9 217.6h0M74.6 218.2h0M60.1 219.1h0M51.2 226.8h0" stroke="#eba5ce" stroke-width="1.90" stroke-linecap="round" stroke-opacity="0.85" fill="none"/>
<path d="M61.8 204.1h0M58.1 223.7h0M58.5 225.2h0M74.2 217.0h0M58.3 226.2h0M60.6 221.5h0M58.2 221.0h0M67.3 225.7h0M75.6 197.5h0M82.6 214.3h0M66.4 229.3h0M72.8 175.3h0M69.7 208.7h0M71.8 220.4h0M54.9 217.7h0M71.7 223.4h0M61.3 208.9h0M63.5 224.7h0M70.8 224.0h0M75.4 196.8h0" stroke="#d6bcf6" stroke-width="1.90" stroke-linecap="round" stroke-opacity="0.85" fill="none"/>
<path d="M56.7 223.8h0M55.4 183.6h0" stroke="#6e9a2e" stroke-width="1.90" stroke-linecap="round" stroke-opacity="0.85" fill="none"/>
<path d="M55.6 226.4h0M60.9 222.3h0M59.7 221.3h0M69.3 224.0h0M65.7 228.1h0M62.0 227.9h0M60.7 226.4h0M58.0 220.7h0M62.5 226.0h0" stroke="#8fbdb9" stroke-width="1.90" stroke-linecap="round" stroke-opacity="0.85" fill="none"/>
<path d="M82.6 179.0h0M45.2 171.7h0" stroke="#14147e" stroke-width="1.90" stroke-linecap="round" stroke-opacity="0.85" fill="none"/>
<path d="M61.2 222.9h0M56.0 223.9h0M61.3 223.4h0M62.6 228.7h0M63.9 229.7h0M57.9 218.4h0M55.7 220.7h0" stroke="#94c47c" stroke-width="1.90" stroke-linecap="round" stroke-opacity="0.85" fill="none"/>
<path d="M64.3 230.1h0M74.6 228.5h0M69.9 229.2h0M66.8 228.3h0M65.6 228.7h0M64.8 220.4h0M67.9 225.6h0M65.6 226.2h0M65.2 228.3h0M66.6 229.0h0M68.0 220.0h0M72.1 227.3h0M55.9 226.1h0M66.5 229.4h0M74.1 218.9h0M72.2 192.4h0M78.0 222.4h0M68.1 227.8h0M66.5 229.7h0M69.1 227.0h0M74.4 225.2h0M66.2 225.3h0M74.6 221.6h0M66.3 223.4h0" stroke="#fa8c64" stroke-width="1.90" stroke-linecap="round" stroke-opacity="0.85" fill="none"/>
<path d="M73.3 224.3h0M72.9 196.8h0M78.0 226.0h0M69.2 195.4h0M59.8 224.7h0M69.7 228.7h0M75.0 186.7h0M73.7 192.5h0M71.4 219.3h0M71.8 178.8h0" stroke="#a4cdf4" stroke-width="1.90" stroke-linecap="round" stroke-opacity="0.85" fill="none"/>
<path d="M67.3 224.1h0M60.2 216.9h0M64.1 229.6h0M61.7 222.2h0M58.6 211.9h0M57.9 223.3h0M59.8 219.8h0M70.4 225.1h0" stroke="#a8b4b4" stroke-width="1.90" stroke-linecap="round" stroke-opacity="0.85" fill="none"/>
<path d="M36.5 225.7h0" stroke="#f4a6d0" stroke-width="1.90" stroke-linecap="round" stroke-opacity="0.85" fill="none"/>
<path d="M73.1 208.0h0M75.2 200.0h0" stroke="#22229a" stroke-width="1.90" stroke-linecap="round" stroke-opacity="0.85" fill="none"/>
<path d="M79.5 190.6h0M73.9 178.7h0M87.0 183.0h0" stroke="#1c1c8c" stroke-width="1.90" stroke-linecap="round" stroke-opacity="0.85" fill="none"/>
<path d="M85.9 198.4h0" stroke="#0c0c70" stroke-width="1.90" stroke-linecap="round" stroke-opacity="0.85" fill="none"/>
<path d="M57.5 224.1h0M63.4 225.3h0M62.9 215.5h0M72.4 223.3h0M70.8 212.2h0M57.5 229.3h0M69.2 229.4h0M72.1 226.9h0M59.1 222.1h0M73.1 221.1h0M70.9 222.0h0M63.7 225.7h0M59.5 227.9h0M57.8 224.2h0M60.6 214.3h0M78.8 227.7h0M72.0 224.3h0" stroke="#8cbef0" stroke-width="1.90" stroke-linecap="round" stroke-opacity="0.85" fill="none"/>
<path d="M65.5 229.1h0M74.6 217.6h0M63.9 226.5h0M47.0 222.0h0M61.5 227.8h0M72.4 229.6h0M72.1 223.4h0M75.1 225.0h0M62.8 220.3h0M58.3 228.9h0M54.4 216.2h0M62.0 229.0h0M76.3 226.4h0M73.0 224.5h0M59.8 222.0h0M56.9 220.3h0M72.7 222.9h0M72.2 194.2h0M65.3 229.1h0M74.1 202.3h0M71.6 222.8h0M63.2 229.1h0M58.5 222.7h0" stroke="#cdb0f4" stroke-width="1.90" stroke-linecap="round" stroke-opacity="0.85" fill="none"/>
<path d="M52.3 225.1h0M55.8 220.9h0M60.7 209.8h0M57.8 223.8h0M63.0 229.6h0M47.8 218.9h0M57.7 217.1h0" stroke="#8fbdb9" stroke-width="1.90" stroke-linecap="round" stroke-opacity="0.85" fill="none"/>
<path d="M71.0 226.0h0M66.7 230.0h0M69.4 221.8h0M64.9 221.2h0M66.4 229.8h0M64.4 230.2h0M71.0 226.2h0M64.5 228.7h0M67.6 228.3h0M76.8 225.7h0M71.9 222.1h0M64.3 229.4h0M71.4 229.3h0M72.1 225.5h0M63.4 227.4h0M67.6 227.7h0M82.3 219.9h0M59.9 229.0h0M68.5 227.0h0M78.2 210.7h0M66.2 229.4h0M66.7 220.8h0M64.7 228.7h0M75.1 218.0h0M63.8 226.3h0M69.7 228.9h0M70.4 223.1h0" stroke="#fcc0a4" stroke-width="1.90" stroke-linecap="round" stroke-opacity="0.85" fill="none"/>
<path d="M60.3 221.1h0M60.0 224.2h0M56.6 223.7h0M68.8 226.7h0M69.3 229.3h0M52.2 212.6h0M62.3 222.8h0" stroke="#a3cbc6" stroke-width="1.90" stroke-linecap="round" stroke-opacity="0.85" fill="none"/>
<path d="M73.3 223.4h0M60.7 215.7h0M59.2 214.4h0M73.6 203.6h0M75.0 200.1h0M67.8 222.2h0M55.9 225.9h0M81.1 226.3h0M64.6 230.3h0M65.8 228.0h0M56.7 227.4h0M72.2 176.6h0M71.9 225.3h0M61.0 219.3h0M62.0 223.1h0M74.3 226.5h0M73.2 222.5h0M60.3 229.9h0M70.1 223.3h0M70.8 227.3h0M72.5 221.3h0M74.3 214.7h0M64.0 229.1h0" stroke="#bfa2f0" stroke-width="1.90" stroke-linecap="round" stroke-opacity="0.85" fill="none"/>
<path d="M72.5 229.6h0M69.7 229.3h0M71.6 203.7h0M71.6 221.3h0M72.7 217.0h0M72.2 210.6h0M66.6 229.0h0M78.1 226.2h0M73.1 185.1h0M73.1 225.7h0M75.7 197.8h0M68.7 230.0h0M68.6 221.5h0M77.3 225.8h0M67.9 229.6h0M73.4 229.1h0M59.8 223.4h0M64.2 225.3h0M77.4 227.4h0M65.5 227.4h0M82.3 222.1h0M71.3 224.5h0M75.1 175.9h0" stroke="#fb9a74" stroke-width="1.90" stroke-linecap="round" stroke-opacity="0.85" fill="none"/>
<path d="M64.7 226.0h0M74.0 197.9h0M57.8 221.3h0M65.7 230.2h0M77.6 226.2h0M65.3 228.5h0M73.4 228.1h0M69.5 229.1h0M75.7 227.1h0M76.6 215.5h0M62.1 226.1h0" stroke="#fd9470" stroke-width="1.90" stroke-linecap="round" stroke-opacity="0.85" fill="none"/>
<path d="M75.8 224.7h0M61.1 221.3h0M59.7 226.8h0M59.3 225.7h0M68.3 221.4h0M75.6 224.7h0M68.7 222.5h0M59.2 222.7h0M72.0 206.5h0M58.0 222.8h0M61.2 226.4h0M57.1 208.9h0M74.2 222.7h0M58.3 213.1h0M73.7 186.9h0M56.1 223.0h0M64.1 225.2h0M62.6 230.1h0M71.3 218.5h0M74.0 219.4h0M64.1 222.7h0M75.3 213.5h0M56.4 225.1h0M56.5 222.7h0M73.8 222.0h0M59.5 228.6h0" stroke="#d6bcf6" stroke-width="1.90" stroke-linecap="round" stroke-opacity="0.85" fill="none"/>
<path d="M72.5 205.9h0M74.2 208.0h0M59.4 227.0h0M71.3 218.9h0M74.3 215.6h0M75.9 217.7h0M73.6 205.8h0M55.8 213.0h0M72.6 203.2h0M60.3 224.7h0M74.4 183.8h0M74.3 224.4h0M72.2 221.3h0M57.6 228.5h0M62.4 227.4h0M58.5 219.4h0M78.5 214.6h0M61.1 221.8h0M60.7 229.8h0" stroke="#f7c6e2" stroke-width="1.90" stroke-linecap="round" stroke-opacity="0.85" fill="none"/>
<path d="M65.2 229.2h0M57.2 222.3h0M55.4 224.7h0M72.9 222.4h0M75.7 221.7h0M72.8 211.6h0M61.3 211.3h0M59.1 226.6h0M59.1 226.7h0M56.5 221.3h0M73.1 207.7h0M60.9 229.3h0M60.3 212.9h0M55.5 224.2h0M57.2 220.3h0M54.1 227.1h0M56.4 223.1h0M58.5 222.2h0M63.2 228.3h0M74.7 223.0h0M74.0 214.5h0M66.5 229.7h0M53.8 222.6h0M61.3 229.4h0M74.6 209.3h0M75.5 211.5h0M68.1 219.3h0M60.4 230.0h0M69.1 204.6h0M58.3 224.5h0" stroke="#c7a6f2" stroke-width="1.90" stroke-linecap="round" stroke-opacity="0.85" fill="none"/>
<path d="M81.8 201.3h0M73.4 182.6h0" stroke="#1c1c8c" stroke-width="1.90" stroke-linecap="round" stroke-opacity="0.85" fill="none"/>
<path d="M60.5 227.2h0M56.9 213.7h0M61.6 222.0h0M57.9 223.9h0M55.1 193.1h0M55.0 226.2h0" stroke="#a8d694" stroke-width="1.90" stroke-linecap="round" stroke-opacity="0.85" fill="none"/>
<path d="M66.4 229.8h0M77.9 226.9h0M76.1 195.8h0M66.3 225.7h0M65.6 229.6h0M77.3 195.5h0M71.1 227.2h0M70.2 223.2h0M72.7 223.2h0M72.1 225.8h0M74.7 212.8h0M73.7 219.2h0M71.0 219.6h0M71.2 219.8h0M77.0 211.5h0M66.8 223.8h0M66.9 224.7h0" stroke="#f8b8a0" stroke-width="1.90" stroke-linecap="round" stroke-opacity="0.85" fill="none"/>
<path d="M67.8 226.0h0M75.1 181.4h0M62.7 228.2h0M60.5 226.7h0M68.7 229.3h0M47.5 217.6h0M64.6 228.5h0M52.1 225.3h0M61.5 226.6h0M59.7 229.1h0M49.5 219.0h0M61.8 228.5h0M63.9 227.4h0" stroke="#bcdcf7" stroke-width="1.90" stroke-linecap="round" stroke-opacity="0.85" fill="none"/>
<path d="M73.1 212.8h0M76.4 208.7h0M62.2 226.8h0M73.9 222.1h0M56.1 204.9h0M75.0 198.6h0M74.6 227.5h0M71.9 214.8h0M61.0 219.5h0M55.0 221.4h0M56.8 211.1h0M57.9 211.1h0M80.3 225.8h0" stroke="#f2bde0" stroke-width="1.90" stroke-linecap="round" stroke-opacity="0.85" fill="none"/>
<path d="M84.0 167.2h0M78.7 190.1h0M82.1 169.9h0M76.9 182.9h0" stroke="#14147e" stroke-width="1.90" stroke-linecap="round" stroke-opacity="0.85" fill="none"/>
<path d="M61.2 229.8h0M76.4 213.6h0M76.3 223.3h0M59.4 226.7h0M64.1 229.4h0M75.5 222.2h0M61.8 229.1h0M58.6 222.1h0" stroke="#a4cdf4" stroke-width="1.90" stroke-linecap="round" stroke-opacity="0.85" fill="none"/>
<path d="M82.8 214.5h0M69.9 213.7h0M61.4 226.0h0M63.2 229.4h0M57.4 223.9h0M53.5 218.0h0M54.6 218.1h0M57.1 220.3h0M57.8 228.3h0M48.1 226.0h0M70.5 200.1h0M55.3 224.6h0M51.2 225.4h0M69.9 210.0h0M57.8 221.5h0M62.0 227.9h0M74.2 175.2h0M62.8 229.8h0M58.4 207.4h0M72.8 223.3h0M56.6 224.4h0M75.3 205.8h0M69.5 205.0h0M59.1 222.3h0M72.8 223.7h0M57.7 222.9h0M58.1 195.0h0M79.1 201.9h0M53.0 224.1h0" stroke="#ae88e6" stroke-width="1.90" stroke-linecap="round" stroke-opacity="0.85" fill="none"/>
<path d="M73.1 229.2h0M69.4 228.9h0M70.9 220.5h0M68.0 227.5h0M74.2 224.2h0M72.7 222.1h0M67.7 226.5h0M65.3 230.3h0M71.9 229.6h0M77.0 221.1h0M71.7 226.4h0M74.4 222.9h0M68.9 225.9h0M65.6 228.5h0M60.9 222.6h0M48.7 220.0h0M68.6 229.8h0M69.6 222.9h0M75.6 224.6h0" stroke="#fa8c64" stroke-width="1.90" stroke-linecap="round" stroke-opacity="0.85" fill="none"/>
<path d="M81.2 196.5h0M74.4 207.6h0M75.0 191.8h0M75.9 173.8h0" stroke="#0c0c70" stroke-width="1.90" stroke-linecap="round" stroke-opacity="0.85" fill="none"/>
<path d="M63.1 229.8h0M55.4 228.8h0M71.3 228.3h0M70.7 204.5h0M62.1 229.6h0M61.5 227.5h0M71.6 217.0h0M67.9 228.8h0M70.7 200.3h0M60.7 221.3h0M63.9 229.7h0M57.8 218.4h0M75.2 213.9h0M59.4 229.2h0M60.2 218.7h0M71.9 224.1h0M46.6 222.4h0M64.0 225.1h0" stroke="#eba5ce" stroke-width="1.90" stroke-linecap="round" stroke-opacity="0.85" fill="none"/>
<path d="M74.2 212.4h0M55.2 178.4h0M61.6 221.7h0M70.0 224.1h0M63.3 228.7h0M56.8 210.7h0M55.2 205.0h0M58.1 224.6h0M87.1 219.6h0M73.8 215.8h0" stroke="#f4e284" stroke-width="1.90" stroke-linecap="round" stroke-opacity="0.85" fill="none"/>
<path d="M72.3 187.7h0M72.0 214.5h0M64.0 229.0h0M81.2 220.9h0M56.3 212.9h0M76.3 222.6h0M55.9 224.5h0M60.1 216.7h0M68.5 226.3h0M73.6 216.6h0M74.8 198.3h0M71.0 229.7h0M64.7 227.0h0M68.6 225.4h0M58.1 222.5h0M56.7 219.8h0M75.2 222.7h0M81.8 225.8h0M69.2 225.7h0M70.9 219.1h0" stroke="#b995ec" stroke-width="1.90" stroke-linecap="round" stroke-opacity="0.85" fill="none"/>
<path d="M72.4 217.0h0M58.0 221.7h0M75.3 223.7h0M50.1 225.9h0M61.5 224.7h0M74.7 192.5h0M71.3 190.2h0M71.6 218.1h0M72.4 221.5h0M75.7 218.7h0M74.0 209.2h0M74.1 222.8h0M61.0 230.0h0" stroke="#f5afd6" stroke-width="1.90" stroke-linecap="round" stroke-opacity="0.85" fill="none"/>
<path d="M44.3 200.5h0" stroke="#f3e07a" stroke-width="1.90" stroke-linecap="round" stroke-opacity="0.85" fill="none"/>
<path d="M68.1 226.9h0M74.3 223.3h0M56.0 220.8h0M56.3 214.8h0M78.2 224.7h0M70.0 220.3h0M63.3 230.2h0M56.9 217.7h0M67.4 226.3h0M59.1 223.2h0M40.1 220.5h0M57.4 223.7h0M81.3 221.3h0M59.8 217.0h0" stroke="#a8b4b4" stroke-width="1.90" stroke-linecap="round" stroke-opacity="0.85" fill="none"/>
<path d="M74.1 213.1h0M74.7 222.8h0M54.5 224.2h0" stroke="#f7eba4" stroke-width="1.90" stroke-linecap="round" stroke-opacity="0.85" fill="none"/>
<path d="M69.7 224.2h0M60.3 229.8h0M71.2 179.6h0M70.7 227.5h0M73.8 227.7h0M69.7 228.3h0M73.1 214.8h0M72.9 188.6h0M74.2 228.1h0M72.1 226.6h0M68.2 226.5h0M67.6 229.7h0M77.1 227.1h0M78.0 221.8h0" stroke="#fcad8c" stroke-width="1.90" stroke-linecap="round" stroke-opacity="0.85" fill="none"/>
<path d="M56.5 221.4h0M56.3 207.7h0" stroke="#6e9a2e" stroke-width="1.90" stroke-linecap="round" stroke-opacity="0.85" fill="none"/>
<path d="M116.0 222.1h0" stroke="#9cc8f2" stroke-width="1.90" stroke-linecap="round" stroke-opacity="0.85" fill="none"/>
<path d="M56.0 216.6h0M55.8 222.0h0M56.3 224.5h0" stroke="#7aa83a" stroke-width="1.90" stroke-linecap="round" stroke-opacity="0.85" fill="none"/>
<path d="M54.0 171.7h0" stroke="#c29ef0" stroke-width="1.90" stroke-linecap="round" stroke-opacity="0.85" fill="none"/>
<path d="M60.2 223.2h0M61.0 218.9h0M54.4 221.6h0" stroke="#94c47c" stroke-width="1.90" stroke-linecap="round" stroke-opacity="0.85" fill="none"/>
<path d="M90.0 210.7h0M68.5 227.8h0M61.1 227.7h0M60.0 222.6h0" stroke="#bde3a8" stroke-width="1.90" stroke-linecap="round" stroke-opacity="0.85" fill="none"/>
<path d="M77.0 194.6h0" stroke="#22229a" stroke-width="1.90" stroke-linecap="round" stroke-opacity="0.85" fill="none"/>
<path d="M43.3 218.5h0" stroke="#7fb6ee" stroke-width="1.90" stroke-linecap="round" stroke-opacity="0.85" fill="none"/>
<path d="M59.4 190.9h0M75.9 223.3h0M60.1 224.8h0M58.8 211.8h0M57.5 226.0h0M64.3 223.4h0M66.9 230.1h0M57.4 218.8h0M76.2 224.8h0M90.3 215.8h0M61.8 227.8h0M62.3 226.3h0M60.7 217.8h0M62.5 220.5h0M76.3 223.9h0M66.6 229.5h0M58.7 220.7h0M67.2 227.9h0M62.4 204.7h0M57.8 223.4h0M57.7 220.0h0M56.4 225.6h0M60.4 219.7h0M75.3 223.9h0M62.8 202.9h0" stroke="#d6bcf6" stroke-width="1.90" stroke-linecap="round" stroke-opacity="0.85" fill="none"/>
<path d="M59.4 223.2h0M76.7 214.7h0M72.2 227.9h0M70.9 209.1h0M73.6 183.1h0M82.5 225.7h0M69.2 226.1h0M80.9 225.5h0M67.1 229.8h0M57.6 215.5h0M70.1 229.8h0" stroke="#a4cdf4" stroke-width="1.90" stroke-linecap="round" stroke-opacity="0.85" fill="none"/>
<path d="M71.6 206.2h0M63.9 226.4h0M76.2 193.8h0M59.6 213.6h0M75.4 210.6h0M60.1 191.1h0M76.7 189.4h0M73.5 219.1h0M63.9 226.2h0M71.7 219.1h0M61.0 211.2h0M51.8 219.8h0M70.8 189.8h0M71.9 220.1h0M72.0 211.8h0M57.7 223.1h0M68.0 224.5h0M69.8 220.3h0M72.9 218.4h0" stroke="#eba5ce" stroke-width="1.90" stroke-linecap="round" stroke-opacity="0.85" fill="none"/>
<path d="M72.6 186.3h0M72.4 229.0h0M81.2 222.4h0M54.0 228.4h0M73.2 189.2h0M75.7 223.1h0M56.7 222.5h0M50.5 225.7h0M55.7 201.0h0M63.0 227.4h0M64.0 222.9h0M72.8 186.0h0M73.7 171.8h0M74.7 223.2h0M74.1 221.2h0M69.3 220.2h0M76.1 217.3h0M53.6 223.5h0M70.6 227.9h0M63.1 223.2h0M48.6 218.1h0M50.6 225.7h0M55.8 228.4h0M58.5 222.3h0M60.1 220.6h0" stroke="#b995ec" stroke-width="1.90" stroke-linecap="round" stroke-opacity="0.85" fill="none"/>
<path d="M65.0 229.2h0M71.7 228.5h0M58.6 222.6h0M72.2 200.3h0M71.3 174.8h0M69.4 222.4h0M65.4 227.3h0M78.1 222.8h0M69.5 229.8h0M65.5 223.2h0M72.3 168.9h0M68.6 227.1h0M68.7 221.6h0M72.7 216.8h0M66.7 229.0h0M64.5 228.7h0M65.7 222.8h0M69.4 230.1h0M68.3 220.4h0M67.3 225.9h0M66.2 228.3h0M77.7 219.6h0" stroke="#fcad8c" stroke-width="1.90" stroke-linecap="round" stroke-opacity="0.85" fill="none"/>
<path d="M54.4 217.7h0M74.8 216.9h0M70.5 219.8h0M61.6 230.0h0M60.2 210.8h0M72.1 202.0h0M76.2 222.4h0M62.7 227.6h0M70.8 195.6h0M58.2 221.6h0M58.8 219.9h0M61.5 220.6h0M62.2 228.6h0" stroke="#f5afd6" stroke-width="1.90" stroke-linecap="round" stroke-opacity="0.85" fill="none"/>
<path d="M64.8 228.0h0M77.0 226.4h0M66.4 225.9h0M61.6 224.6h0M70.8 229.8h0M71.1 228.5h0M71.6 220.5h0M50.5 220.7h0M75.2 229.0h0M69.0 228.4h0M66.9 228.0h0M65.7 227.4h0M68.8 226.8h0M72.5 225.3h0M78.0 224.7h0M65.9 228.3h0M73.8 220.6h0" stroke="#fb9a74" stroke-width="1.90" stroke-linecap="round" stroke-opacity="0.85" fill="none"/>
<path d="M75.6 208.7h0M53.5 225.2h0M71.2 205.2h0M57.7 219.8h0M71.9 225.9h0M69.8 224.9h0M77.8 225.3h0M62.8 224.3h0M55.4 225.8h0M52.7 224.4h0M63.4 227.9h0M77.4 203.2h0M62.9 225.5h0M59.5 229.2h0M42.3 222.9h0M59.4 228.1h0M63.6 224.4h0M55.9 221.6h0M59.7 220.8h0M76.9 181.1h0M59.1 221.2h0M61.4 196.7h0M72.8 199.4h0M70.7 169.7h0" stroke="#cdb0f4" stroke-width="1.90" stroke-linecap="round" stroke-opacity="0.85" fill="none"/>
<path d="M78.9 185.4h0M76.0 201.8h0M80.4 192.1h0M94.7 196.9h0M75.5 204.2h0M73.1 202.4h0M75.8 202.5h0" stroke="#14147e" stroke-width="1.90" stroke-linecap="round" stroke-opacity="0.85" fill="none"/>
<path d="M79.3 211.4h0M58.9 219.6h0M76.1 227.1h0M77.3 227.0h0M54.1 225.6h0M73.6 220.4h0M78.6 214.2h0M71.3 227.5h0M75.3 218.4h0M66.6 225.3h0M71.7 228.1h0M64.2 228.3h0M76.6 227.7h0M72.9 212.7h0M72.0 192.7h0M73.1 227.5h0M71.1 228.9h0M75.0 228.3h0M71.8 228.9h0M72.2 211.2h0" stroke="#fcc0a4" stroke-width="1.90" stroke-linecap="round" stroke-opacity="0.85" fill="none"/>
<path d="M65.6 226.2h0M73.2 224.4h0M80.1 226.4h0M63.7 223.5h0M58.6 222.1h0M79.7 225.9h0M72.1 213.0h0M73.3 217.4h0M60.2 224.2h0M65.9 228.1h0M50.0 218.0h0M55.6 222.1h0M54.8 218.1h0M59.6 224.3h0M73.0 211.3h0M71.7 196.7h0M81.1 216.4h0M57.6 222.2h0" stroke="#f2bde0" stroke-width="1.90" stroke-linecap="round" stroke-opacity="0.85" fill="none"/>
<path d="M73.9 187.3h0M82.5 203.7h0M75.9 205.9h0M75.7 207.4h0M82.9 182.9h0M75.2 209.2h0M81.9 196.5h0" stroke="#0c0c70" stroke-width="1.90" stroke-linecap="round" stroke-opacity="0.85" fill="none"/>
<path d="M61.5 213.6h0M69.1 223.4h0M61.3 228.2h0M61.1 212.1h0M58.1 208.9h0M57.4 221.8h0M69.7 228.6h0M74.2 190.7h0M75.3 224.8h0M55.3 223.3h0M56.6 228.5h0M75.4 224.7h0M59.9 217.7h0M73.3 210.9h0M70.5 226.5h0M58.7 210.0h0M43.1 220.1h0M60.4 212.2h0M60.0 229.2h0M70.0 226.6h0M70.7 228.8h0M56.8 219.6h0M59.9 224.6h0M60.8 218.3h0M72.6 215.8h0" stroke="#bfa2f0" stroke-width="1.90" stroke-linecap="round" stroke-opacity="0.85" fill="none"/>
<path d="M66.1 230.1h0M54.8 226.0h0M67.6 229.7h0M58.0 221.1h0M64.0 227.3h0M77.0 227.0h0M60.7 219.7h0M60.3 221.4h0M57.6 223.5h0M70.4 228.7h0" stroke="#8fbdb9" stroke-width="1.90" stroke-linecap="round" stroke-opacity="0.85" fill="none"/>
<path d="M78.2 222.7h0M71.9 197.3h0M74.2 201.9h0M70.5 222.0h0M66.8 224.9h0M65.9 225.2h0M67.6 230.2h0M65.0 230.3h0M65.3 228.9h0M76.6 214.7h0M64.2 226.8h0M72.0 229.8h0M69.9 225.1h0M50.0 221.6h0M72.4 226.0h0" stroke="#fa8c64" stroke-width="1.90" stroke-linecap="round" stroke-opacity="0.85" fill="none"/>
<path d="M61.9 226.1h0M74.6 218.8h0M77.8 217.3h0M68.8 227.0h0M80.0 223.5h0M71.9 214.2h0M58.8 218.2h0M59.4 222.5h0M56.6 226.6h0M72.9 198.9h0M63.3 224.4h0M73.5 222.6h0M74.3 222.5h0M57.9 218.3h0M71.3 229.3h0M72.5 206.3h0M72.8 224.0h0M54.7 225.2h0M72.9 216.7h0M59.3 226.0h0M59.4 224.9h0" stroke="#f7c6e2" stroke-width="1.90" stroke-linecap="round" stroke-opacity="0.85" fill="none"/>
<path d="M59.7 222.6h0M71.1 178.8h0M58.9 228.9h0M79.1 215.0h0M61.0 222.0h0M73.9 216.8h0M82.6 224.8h0M71.2 218.5h0" stroke="#f4e284" stroke-width="1.90" stroke-linecap="round" stroke-opacity="0.85" fill="none"/>
<path d="M76.6 216.8h0M70.6 228.9h0M70.7 225.2h0M80.2 226.4h0M64.2 228.2h0M70.2 228.4h0M74.7 226.5h0M69.9 227.6h0M66.8 226.1h0M75.6 220.2h0M65.3 229.6h0M63.1 227.8h0M78.1 223.7h0M61.9 221.6h0M72.5 220.7h0M62.3 227.9h0M54.9 222.2h0M74.0 217.9h0" stroke="#fd9470" stroke-width="1.90" stroke-linecap="round" stroke-opacity="0.85" fill="none"/>
<path d="M43.9 217.0h0M77.1 220.6h0M80.4 215.0h0M60.1 227.3h0" stroke="#a3cbc6" stroke-width="1.90" stroke-linecap="round" stroke-opacity="0.85" fill="none"/>
<path d="M60.6 218.8h0M69.6 221.7h0M55.1 226.0h0" stroke="#94c47c" stroke-width="1.90" stroke-linecap="round" stroke-opacity="0.85" fill="none"/>
<path d="M59.9 224.8h0M82.2 220.8h0M59.1 205.8h0M66.1 229.8h0M57.3 222.5h0M72.7 226.7h0M58.7 221.7h0M67.4 227.2h0M57.7 223.3h0M57.7 224.7h0" stroke="#a8d694" stroke-width="1.90" stroke-linecap="round" stroke-opacity="0.85" fill="none"/>
<path d="M60.7 224.5h0M65.0 229.9h0M67.0 228.0h0M54.3 214.6h0M48.3 226.2h0M71.3 210.9h0M64.1 224.4h0M71.7 188.5h0M72.0 210.9h0M75.0 227.4h0M60.8 215.7h0M58.2 200.9h0M62.2 228.3h0M61.3 212.2h0M73.6 222.1h0M60.2 221.6h0M71.9 229.3h0M58.1 224.6h0M56.7 216.9h0M60.9 220.8h0M73.7 190.7h0" stroke="#c7a6f2" stroke-width="1.90" stroke-linecap="round" stroke-opacity="0.85" fill="none"/>
<path d="M57.9 220.5h0M63.8 211.6h0M60.4 225.6h0M68.8 224.0h0M61.6 229.8h0M64.5 227.5h0M57.7 225.7h0M56.0 210.7h0M60.5 226.1h0M61.8 227.7h0" stroke="#a8b4b4" stroke-width="1.90" stroke-linecap="round" stroke-opacity="0.85" fill="none"/>
<path d="M80.8 217.8h0M59.7 214.7h0M59.4 220.8h0" stroke="#bde3a8" stroke-width="1.90" stroke-linecap="round" stroke-opacity="0.85" fill="none"/>
<path d="M73.9 214.6h0M56.4 193.5h0M51.7 226.2h0M59.6 229.4h0M56.1 220.5h0M59.9 227.2h0M55.1 220.7h0M59.3 224.0h0M55.4 224.8h0M59.8 221.1h0M74.1 208.5h0M77.3 224.3h0M59.1 226.2h0M74.5 214.7h0M59.7 227.7h0M59.4 221.9h0M75.7 179.6h0M59.4 207.6h0M78.4 227.0h0M72.5 215.7h0" stroke="#ae88e6" stroke-width="1.90" stroke-linecap="round" stroke-opacity="0.85" fill="none"/>
<path d="M70.1 228.4h0M73.5 224.5h0M69.1 227.9h0M73.4 224.2h0M69.2 226.5h0M71.5 225.3h0M66.0 229.8h0M72.6 217.7h0M70.4 224.8h0M70.7 230.0h0M62.7 227.6h0M72.2 223.8h0M76.9 223.2h0M74.4 211.3h0M65.3 228.1h0M75.2 224.0h0M69.8 223.4h0M72.2 220.9h0" stroke="#f8b8a0" stroke-width="1.90" stroke-linecap="round" stroke-opacity="0.85" fill="none"/>
<path d="M78.6 224.3h0M71.4 214.2h0M63.5 227.7h0M66.9 222.9h0M71.5 222.1h0M76.1 224.1h0M62.2 227.3h0M72.8 175.0h0M54.8 225.1h0M75.7 220.5h0" stroke="#bcdcf7" stroke-width="1.90" stroke-linecap="round" stroke-opacity="0.85" fill="none"/>
<path d="M93.7 218.5h0" stroke="#9cc8f2" stroke-width="1.90" stroke-linecap="round" stroke-opacity="0.85" fill="none"/>
<path d="M53.5 220.4h0M70.4 215.4h0M75.5 190.6h0M60.2 223.9h0M54.9 221.7h0M58.0 217.9h0M71.4 211.9h0M79.2 224.4h0M54.8 226.0h0M62.0 216.0h0M59.3 224.5h0M59.8 214.4h0" stroke="#f7eba4" stroke-width="1.90" stroke-linecap="round" stroke-opacity="0.85" fill="none"/>
<path d="M75.2 206.1h0" stroke="#1c1c8c" stroke-width="1.90" stroke-linecap="round" stroke-opacity="0.85" fill="none"/>
<path d="M58.2 228.7h0M58.3 222.2h0M60.9 206.6h0M58.8 223.7h0M76.2 203.2h0M72.7 223.4h0M58.1 224.3h0M80.2 227.3h0M56.7 227.9h0M75.5 212.2h0M74.1 221.5h0M75.9 221.5h0" stroke="#8cbef0" stroke-width="1.90" stroke-linecap="round" stroke-opacity="0.85" fill="none"/>
<path d="M74.9 208.2h0M76.8 206.2h0M73.3 192.9h0" stroke="#22229a" stroke-width="1.90" stroke-linecap="round" stroke-opacity="0.85" fill="none"/>
<path d="M55.7 219.8h0" stroke="#7aa83a" stroke-width="1.90" stroke-linecap="round" stroke-opacity="0.85" fill="none"/>
<path d="M33.6 197.8h0" stroke="#f3e07a" stroke-width="1.90" stroke-linecap="round" stroke-opacity="0.85" fill="none"/>
<path d="M55.5 224.6h0M55.8 209.6h0" stroke="#8ab84a" stroke-width="1.90" stroke-linecap="round" stroke-opacity="0.85" fill="none"/>
<path d="M158.1 230.4h0M166.3 230.5h0M154.0 230.2h0M166.3 230.4h0M176.2 230.2h0M159.6 230.4h0" stroke="#fb9a74" stroke-width="1.90" stroke-linecap="round" stroke-opacity="0.9" fill="none"/>
<path d="M174.2 230.3h0M185.7 230.5h0M156.7 230.6h0M167.8 229.9h0M168.0 230.1h0" stroke="#c29ef0" stroke-width="1.90" stroke-linecap="round" stroke-opacity="0.9" fill="none"/>
<path d="M157.3 230.7h0M161.3 229.8h0M156.3 230.7h0M171.1 230.1h0M172.6 230.4h0" stroke="#9cc8f2" stroke-width="1.90" stroke-linecap="round" stroke-opacity="0.9" fill="none"/>
<path d="M170.5 229.9h0M167.7 230.6h0M161.3 230.6h0M180.6 230.3h0M178.9 230.4h0" stroke="#f3e07a" stroke-width="1.90" stroke-linecap="round" stroke-opacity="0.9" fill="none"/>
<path d="M158.2 229.7h0M164.5 230.7h0M191.0 230.7h0M172.0 230.7h0M171.0 230.3h0" stroke="#9fd08a" stroke-width="1.90" stroke-linecap="round" stroke-opacity="0.9" fill="none"/>
<path d="M172.1 230.4h0M169.0 230.2h0M173.1 229.7h0M173.9 230.3h0M169.1 230.6h0" stroke="#f4a6d0" stroke-width="1.90" stroke-linecap="round" stroke-opacity="0.9" fill="none"/>
<path d="M178.2 229.9h0M175.0 230.6h0M164.9 230.2h0M174.3 230.6h0M168.3 230.3h0" stroke="#fcaa88" stroke-width="1.90" stroke-linecap="round" stroke-opacity="0.9" fill="none"/>
<path d="M171.3 229.5h0M173.4 229.8h0M161.5 230.1h0M172.9 228.9h0M172.2 229.6h0M170.1 230.0h0" stroke="#c29ef0" stroke-width="1.90" stroke-linecap="round" stroke-opacity="0.9" fill="none"/>
<path d="M174.1 229.9h0M184.7 229.3h0M175.1 230.5h0M174.3 230.0h0M171.8 230.5h0" stroke="#9cc8f2" stroke-width="1.90" stroke-linecap="round" stroke-opacity="0.9" fill="none"/>
<path d="M172.7 230.2h0M168.3 230.1h0M154.0 230.0h0M164.0 230.6h0M153.7 230.2h0" stroke="#f3e07a" stroke-width="1.90" stroke-linecap="round" stroke-opacity="0.9" fill="none"/>
<path d="M168.3 230.1h0M167.9 230.0h0M168.7 230.3h0M185.1 230.2h0M162.6 230.3h0" stroke="#9fd08a" stroke-width="1.90" stroke-linecap="round" stroke-opacity="0.9" fill="none"/>
<path d="M179.9 230.5h0M166.2 230.4h0M178.3 229.9h0M167.8 229.5h0M171.3 230.5h0" stroke="#f4a6d0" stroke-width="1.90" stroke-linecap="round" stroke-opacity="0.9" fill="none"/>
<path d="M162.0 229.2h0M175.1 230.2h0M167.0 230.2h0M166.4 229.2h0M172.7 230.7h0" stroke="#fcaa88" stroke-width="1.90" stroke-linecap="round" stroke-opacity="0.9" fill="none"/>
<path d="M168.8 230.0h0M167.4 229.6h0M165.9 228.8h0M162.0 230.4h0M164.6 230.6h0" stroke="#fb9a74" stroke-width="1.90" stroke-linecap="round" stroke-opacity="0.9" fill="none"/>
<path d="M163.5 230.6h0M177.3 230.6h0M160.4 229.8h0M182.0 230.7h0M164.3 229.8h0M162.0 229.7h0" stroke="#9cc8f2" stroke-width="1.90" stroke-linecap="round" stroke-opacity="0.9" fill="none"/>
<path d="M157.1 229.4h0M155.3 230.6h0M179.0 229.8h0M166.0 229.9h0M154.7 229.5h0" stroke="#f3e07a" stroke-width="1.90" stroke-linecap="round" stroke-opacity="0.9" fill="none"/>
<path d="M177.6 230.6h0M155.3 227.9h0M155.8 230.0h0M166.1 229.7h0M167.0 230.6h0" stroke="#9fd08a" stroke-width="1.90" stroke-linecap="round" stroke-opacity="0.9" fill="none"/>
<path d="M163.5 229.7h0M175.1 230.3h0M173.2 229.9h0M154.1 230.2h0M163.5 229.6h0" stroke="#f4a6d0" stroke-width="1.90" stroke-linecap="round" stroke-opacity="0.9" fill="none"/>
<path d="M168.2 230.6h0M165.7 229.0h0M161.9 230.2h0M177.5 230.1h0M168.3 230.3h0" stroke="#fcaa88" stroke-width="1.90" stroke-linecap="round" stroke-opacity="0.9" fill="none"/>
<path d="M182.9 230.5h0M166.1 229.5h0M158.3 230.2h0M176.7 230.5h0M175.9 230.1h0" stroke="#fb9a74" stroke-width="1.90" stroke-linecap="round" stroke-opacity="0.9" fill="none"/>
<path d="M161.3 228.8h0M171.3 229.0h0M176.1 230.2h0M161.8 230.7h0M152.7 230.1h0" stroke="#c29ef0" stroke-width="1.90" stroke-linecap="round" stroke-opacity="0.9" fill="none"/>
<path d="M169.5 229.9h0M166.3 230.3h0M168.5 230.6h0M161.6 230.1h0M166.1 230.0h0M155.8 229.5h0" stroke="#f3e07a" stroke-width="1.90" stroke-linecap="round" stroke-opacity="0.9" fill="none"/>
<path d="M172.6 229.1h0M161.4 230.5h0M164.6 229.7h0M159.7 229.9h0M164.1 229.8h0" stroke="#9fd08a" stroke-width="1.90" stroke-linecap="round" stroke-opacity="0.9" fill="none"/>
<path d="M172.2 230.2h0M168.7 229.9h0M162.3 229.4h0M173.5 228.8h0M157.8 229.8h0" stroke="#f4a6d0" stroke-width="1.90" stroke-linecap="round" stroke-opacity="0.9" fill="none"/>
<path d="M161.5 230.4h0M161.0 230.1h0M170.9 230.7h0M165.1 230.2h0M156.9 229.8h0" stroke="#fcaa88" stroke-width="1.90" stroke-linecap="round" stroke-opacity="0.9" fill="none"/>
<path d="M172.6 230.0h0M161.4 229.3h0M165.4 230.7h0M162.5 230.7h0M169.6 230.5h0" stroke="#fb9a74" stroke-width="1.90" stroke-linecap="round" stroke-opacity="0.9" fill="none"/>
<path d="M174.4 229.4h0M174.9 230.6h0M169.6 230.2h0M175.2 230.7h0M177.6 230.2h0" stroke="#c29ef0" stroke-width="1.90" stroke-linecap="round" stroke-opacity="0.9" fill="none"/>
<path d="M162.7 228.8h0M168.6 230.6h0M168.4 230.5h0M166.0 230.2h0M172.5 230.1h0" stroke="#9cc8f2" stroke-width="1.90" stroke-linecap="round" stroke-opacity="0.9" fill="none"/>
<path d="M160.3 230.0h0M186.9 230.5h0M168.0 230.5h0M169.9 230.6h0M178.6 217.6h0" stroke="#9fd08a" stroke-width="1.90" stroke-linecap="round" stroke-opacity="0.9" fill="none"/>
<path d="M176.4 229.7h0M154.5 230.4h0M168.4 230.3h0M168.6 229.8h0M182.5 225.7h0" stroke="#f4a6d0" stroke-width="1.90" stroke-linecap="round" stroke-opacity="0.9" fill="none"/>
<path d="M174.6 230.4h0M160.2 229.1h0M160.5 229.5h0M164.1 229.5h0M174.8 223.0h0" stroke="#fcaa88" stroke-width="1.90" stroke-linecap="round" stroke-opacity="0.9" fill="none"/>
<path d="M164.1 230.3h0M171.2 230.1h0M169.6 230.4h0M161.3 230.0h0M164.1 227.5h0" stroke="#fb9a74" stroke-width="1.90" stroke-linecap="round" stroke-opacity="0.9" fill="none"/>
<path d="M164.6 229.3h0M173.8 230.3h0M155.4 230.6h0M172.2 229.9h0M177.7 226.6h0" stroke="#c29ef0" stroke-width="1.90" stroke-linecap="round" stroke-opacity="0.9" fill="none"/>
<path d="M159.7 229.7h0M155.2 230.3h0M173.0 229.7h0M193.2 224.8h0M169.9 228.4h0" stroke="#9cc8f2" stroke-width="1.90" stroke-linecap="round" stroke-opacity="0.9" fill="none"/>
<path d="M170.6 229.0h0M165.3 230.7h0M175.0 230.4h0M194.2 228.4h0M188.3 229.3h0" stroke="#f3e07a" stroke-width="1.90" stroke-linecap="round" stroke-opacity="0.9" fill="none"/>
<rect x="81.9" y="162.5" width="12.5" height="5.0" rx="0.7" fill="#fff" fill-opacity="0.8" stroke="#8a8a8a" stroke-width="0.4"/>
<text x="88.2" y="166.2" font-size="3.7" fill="#222" text-anchor="middle" stroke="#222" stroke-width="0.08">DSC2</text>
<rect x="70.3" y="173.2" width="11.6" height="5.0" rx="0.7" fill="#fff" fill-opacity="0.8" stroke="#8a8a8a" stroke-width="0.4"/>
<text x="76.1" y="176.9" font-size="3.7" fill="#222" text-anchor="middle" stroke="#222" stroke-width="0.08">VNN1</text>
<rect x="85.0" y="173.2" width="17.5" height="5.0" rx="0.7" fill="#fff" fill-opacity="0.8" stroke="#8a8a8a" stroke-width="0.4"/>
<text x="93.8" y="176.9" font-size="3.7" fill="#222" text-anchor="middle" stroke="#222" stroke-width="0.08">ADGRG3</text>
<rect x="79.3" y="180.4" width="12.3" height="5.0" rx="0.7" fill="#fff" fill-opacity="0.8" stroke="#8a8a8a" stroke-width="0.4"/>
<text x="85.5" y="184.1" font-size="3.7" fill="#222" text-anchor="middle" stroke="#222" stroke-width="0.08">PADI4</text>
<rect x="35.7" y="190.6" width="18.1" height="5.0" rx="0.7" fill="#fff" fill-opacity="0.8" stroke="#8a8a8a" stroke-width="0.4"/>
<text x="44.8" y="194.3" font-size="3.7" fill="#222" text-anchor="middle" stroke="#222" stroke-width="0.08">MTCO1P5</text>
<rect x="94.6" y="196.5" width="14.2" height="5.0" rx="0.7" fill="#fff" fill-opacity="0.8" stroke="#8a8a8a" stroke-width="0.4"/>
<text x="101.7" y="200.2" font-size="3.7" fill="#222" text-anchor="middle" stroke="#222" stroke-width="0.08">S100P</text>
<rect x="79.4" y="204.4" width="16.0" height="5.0" rx="0.7" fill="#fff" fill-opacity="0.8" stroke="#8a8a8a" stroke-width="0.4"/>
<text x="87.4" y="208.1" font-size="3.7" fill="#222" text-anchor="middle" stroke="#222" stroke-width="0.08">S100A8</text>
<rect x="24.9" y="258.6" width="199.3" height="8.9" fill="#ff0000"/>
<text x="124.5" y="264.4" font-size="4.9" fill="#1a0000" text-anchor="middle">Blood</text>
<rect x="24.9" y="268.2" width="97.5" height="9.2" fill="#4f8885"/>
<rect x="126.6" y="268.2" width="97.6" height="9.2" fill="#cc6a0c"/>
<text x="73.7" y="274.9" font-size="5.8" fill="#f2f2f2" text-anchor="middle">Adalimumab</text>
<text x="175.4" y="274.9" font-size="5.8" fill="#f2f2f2" text-anchor="middle">Ustekinumab</text>
<rect x="24.9" y="277.7" width="97.5" height="86.2" fill="#fff" stroke="#9a9a9a" stroke-width="0.6"/>
<path d="M26.8 277.7V363.9 M36.5 277.7V363.9 M46.2 277.7V363.9 M55.9 277.7V363.9 M65.6 277.7V363.9 M75.3 277.7V363.9 M85.0 277.7V363.9 M94.7 277.7V363.9 M104.4 277.7V363.9 M114.1 277.7V363.9 M24.9 360.7H122.4 M24.9 351.7H122.4 M24.9 342.7H122.4 M24.9 333.7H122.4 M24.9 324.7H122.4 M24.9 315.7H122.4 M24.9 306.7H122.4 M24.9 297.7H122.4 M24.9 288.7H122.4 M24.9 279.7H122.4" stroke="#ececec" stroke-width="0.5" fill="none"/>
<path d="M55.9 277.7V363.9 M75.3 277.7V363.9 M24.9 337.3H122.4" stroke="#333" stroke-width="0.55" stroke-dasharray="1.3 1.1" fill="none"/>
<line x1="26.8" y1="363.9" x2="26.8" y2="365.2" stroke="#555" stroke-width="0.5"/>
<text x="26.8" y="371.9" font-size="5.2" fill="#3a3a3a" text-anchor="middle" stroke="#3a3a3a" stroke-width="0.1">-4</text>
<line x1="46.2" y1="363.9" x2="46.2" y2="365.2" stroke="#555" stroke-width="0.5"/>
<text x="46.2" y="371.9" font-size="5.2" fill="#3a3a3a" text-anchor="middle" stroke="#3a3a3a" stroke-width="0.1">-2</text>
<line x1="65.6" y1="363.9" x2="65.6" y2="365.2" stroke="#555" stroke-width="0.5"/>
<text x="65.6" y="371.9" font-size="5.2" fill="#3a3a3a" text-anchor="middle" stroke="#3a3a3a" stroke-width="0.1">0</text>
<line x1="85.0" y1="363.9" x2="85.0" y2="365.2" stroke="#555" stroke-width="0.5"/>
<text x="85.0" y="371.9" font-size="5.2" fill="#3a3a3a" text-anchor="middle" stroke="#3a3a3a" stroke-width="0.1">2</text>
<line x1="104.4" y1="363.9" x2="104.4" y2="365.2" stroke="#555" stroke-width="0.5"/>
<text x="104.4" y="371.9" font-size="5.2" fill="#3a3a3a" text-anchor="middle" stroke="#3a3a3a" stroke-width="0.1">4</text>
<rect x="126.6" y="277.7" width="97.6" height="86.2" fill="#fff" stroke="#9a9a9a" stroke-width="0.6"/>
<path d="M128.2 277.7V363.9 M137.9 277.7V363.9 M147.6 277.7V363.9 M157.3 277.7V363.9 M167.0 277.7V363.9 M176.7 277.7V363.9 M186.4 277.7V363.9 M196.1 277.7V363.9 M205.8 277.7V363.9 M215.5 277.7V363.9 M126.6 360.7H224.2 M126.6 351.7H224.2 M126.6 342.7H224.2 M126.6 333.7H224.2 M126.6 324.7H224.2 M126.6 315.7H224.2 M126.6 306.7H224.2 M126.6 297.7H224.2 M126.6 288.7H224.2 M126.6 279.7H224.2" stroke="#ececec" stroke-width="0.5" fill="none"/>
<path d="M157.3 277.7V363.9 M176.7 277.7V363.9 M126.6 337.3H224.2" stroke="#333" stroke-width="0.55" stroke-dasharray="1.3 1.1" fill="none"/>
<line x1="128.2" y1="363.9" x2="128.2" y2="365.2" stroke="#555" stroke-width="0.5"/>
<text x="128.2" y="371.9" font-size="5.2" fill="#3a3a3a" text-anchor="middle" stroke="#3a3a3a" stroke-width="0.1">-4</text>
<line x1="147.6" y1="363.9" x2="147.6" y2="365.2" stroke="#555" stroke-width="0.5"/>
<text x="147.6" y="371.9" font-size="5.2" fill="#3a3a3a" text-anchor="middle" stroke="#3a3a3a" stroke-width="0.1">-2</text>
<line x1="167.0" y1="363.9" x2="167.0" y2="365.2" stroke="#555" stroke-width="0.5"/>
<text x="167.0" y="371.9" font-size="5.2" fill="#3a3a3a" text-anchor="middle" stroke="#3a3a3a" stroke-width="0.1">0</text>
<line x1="186.4" y1="363.9" x2="186.4" y2="365.2" stroke="#555" stroke-width="0.5"/>
<text x="186.4" y="371.9" font-size="5.2" fill="#3a3a3a" text-anchor="middle" stroke="#3a3a3a" stroke-width="0.1">2</text>
<line x1="205.8" y1="363.9" x2="205.8" y2="365.2" stroke="#555" stroke-width="0.5"/>
<text x="205.8" y="371.9" font-size="5.2" fill="#3a3a3a" text-anchor="middle" stroke="#3a3a3a" stroke-width="0.1">4</text>
<line x1="23.6" y1="360.7" x2="24.9" y2="360.7" stroke="#555" stroke-width="0.5"/>
<text x="21.6" y="362.5" font-size="5.2" fill="#3a3a3a" text-anchor="end" stroke="#3a3a3a" stroke-width="0.1">0</text>
<line x1="23.6" y1="342.7" x2="24.9" y2="342.7" stroke="#555" stroke-width="0.5"/>
<text x="21.6" y="344.5" font-size="5.2" fill="#3a3a3a" text-anchor="end" stroke="#3a3a3a" stroke-width="0.1">1</text>
<line x1="23.6" y1="324.7" x2="24.9" y2="324.7" stroke="#555" stroke-width="0.5"/>
<text x="21.6" y="326.5" font-size="5.2" fill="#3a3a3a" text-anchor="end" stroke="#3a3a3a" stroke-width="0.1">2</text>
<line x1="23.6" y1="306.7" x2="24.9" y2="306.7" stroke="#555" stroke-width="0.5"/>
<text x="21.6" y="308.5" font-size="5.2" fill="#3a3a3a" text-anchor="end" stroke="#3a3a3a" stroke-width="0.1">3</text>
<line x1="23.6" y1="288.7" x2="24.9" y2="288.7" stroke="#555" stroke-width="0.5"/>
<text x="21.6" y="290.5" font-size="5.2" fill="#3a3a3a" text-anchor="end" stroke="#3a3a3a" stroke-width="0.1">4</text>
<text x="124.5" y="378.8" font-size="7.0" fill="#111" text-anchor="middle" stroke="#111" stroke-width="0.12">Signed Fit Range</text>
<text transform="translate(16.0 321.0) rotate(-90)" font-size="7.2" text-anchor="middle" textLength="48.5" lengthAdjust="spacingAndGlyphs" fill="#111" stroke="#111" stroke-width="0.12">-log10(q-value)</text>
<path d="M59.7 344.6h0M78.0 354.5h0M64.0 354.7h0M59.7 349.6h0M59.6 357.5h0M68.5 350.0h0M61.6 343.4h0M69.0 353.3h0M58.6 350.5h0M54.9 323.2h0M62.8 355.3h0M76.0 314.7h0M58.1 356.4h0M54.1 346.8h0M58.8 350.3h0M78.4 353.7h0M40.4 342.7h0M59.7 357.6h0M55.5 355.1h0M63.2 357.6h0M60.8 348.9h0M76.8 346.5h0M81.0 343.0h0M61.6 350.0h0M60.4 356.0h0M67.8 356.3h0M56.8 337.8h0M56.5 335.6h0M60.4 345.8h0M62.6 333.5h0M68.3 356.8h0M63.2 355.0h0M66.5 357.0h0M41.3 322.9h0M57.9 351.1h0M62.2 349.6h0M76.1 337.3h0M60.3 348.4h0M68.6 353.1h0M63.1 355.9h0M60.6 352.9h0M48.5 347.4h0M61.1 333.6h0M61.9 355.7h0M58.9 335.9h0M67.8 354.0h0M58.9 329.3h0M65.4 355.7h0M68.6 356.9h0M62.2 327.3h0M65.5 356.5h0M58.2 356.1h0M54.0 353.5h0M69.8 356.2h0M62.8 357.6h0M64.1 351.7h0M66.7 355.1h0M58.9 332.5h0M80.8 349.9h0M69.1 355.7h0M60.8 352.7h0M62.2 352.4h0M54.7 350.3h0M62.8 354.2h0M61.9 342.1h0M63.5 355.0h0M60.0 348.8h0M60.0 340.0h0M59.5 355.0h0M60.1 349.4h0M53.7 346.3h0M50.9 344.2h0M57.4 349.7h0M62.3 352.6h0M53.4 344.2h0M62.9 352.5h0M76.6 353.6h0M65.3 352.1h0M73.4 350.7h0M57.6 350.0h0M64.2 357.7h0M66.8 351.0h0M59.7 342.2h0M58.2 352.4h0M73.1 355.9h0M60.9 350.5h0M67.3 357.2h0M56.9 323.5h0M60.3 323.1h0M75.3 348.8h0M67.8 354.3h0M55.0 351.1h0M64.8 357.6h0M48.4 339.4h0M65.3 351.5h0M58.6 340.0h0M55.8 355.6h0M81.2 351.6h0M50.0 347.4h0M55.3 348.7h0M62.7 349.1h0M58.4 351.2h0M57.4 337.8h0M44.3 341.9h0M92.7 338.4h0M58.1 334.0h0M74.0 351.0h0M79.8 346.4h0M59.7 350.9h0M64.0 354.2h0M57.7 351.5h0M60.1 352.4h0M62.1 351.0h0M77.4 333.7h0M60.0 348.0h0M68.4 351.5h0M56.8 349.7h0M59.6 346.2h0M58.9 355.1h0M63.1 356.5h0M72.2 356.3h0M58.4 346.7h0M57.3 350.8h0M67.3 352.1h0M68.6 356.5h0M65.9 355.9h0M53.0 351.0h0M69.2 357.4h0M66.0 349.1h0M68.0 355.2h0M82.3 351.6h0M77.2 352.0h0M59.4 330.9h0M54.3 353.3h0M57.0 344.8h0M79.4 352.1h0M60.4 350.3h0M56.3 337.7h0M52.2 346.6h0M66.0 352.9h0M65.5 357.7h0M59.5 352.4h0M62.0 357.2h0M59.5 352.2h0M77.2 351.3h0M65.2 355.6h0M57.2 349.1h0M60.2 340.7h0M52.6 349.6h0M63.0 356.7h0M60.4 345.0h0M54.2 354.4h0M60.1 351.2h0M63.1 356.3h0M54.1 353.4h0M68.0 352.7h0M55.9 347.1h0M63.5 351.8h0M68.9 355.6h0M66.4 353.0h0M77.2 353.8h0M60.9 350.0h0M72.4 352.8h0M57.5 345.0h0M66.1 356.8h0M57.9 351.5h0M60.7 352.3h0M59.5 351.5h0M66.0 354.2h0M47.2 335.5h0M60.5 348.9h0M75.3 348.0h0M60.6 357.7h0M62.3 352.4h0M61.0 345.0h0M65.9 355.3h0M67.1 356.8h0M57.0 340.8h0M72.7 354.7h0M60.7 351.4h0M68.6 355.8h0M61.5 353.7h0M59.3 345.5h0M78.1 305.3h0M57.5 337.1h0M55.8 352.5h0M61.0 349.5h0M57.3 354.1h0M73.5 355.4h0M55.2 348.9h0M56.4 338.2h0M70.9 357.6h0M58.5 340.9h0M58.8 355.3h0M47.5 352.5h0M51.1 352.9h0M66.7 356.4h0M57.8 351.9h0M53.2 349.6h0M43.3 338.6h0M64.7 354.9h0M57.0 350.8h0M75.9 354.9h0M68.3 356.4h0M66.4 355.9h0M61.4 355.4h0M63.7 355.9h0M58.8 346.5h0M54.0 347.3h0M61.9 355.5h0M64.0 357.2h0M78.2 355.7h0M58.4 348.4h0M74.2 355.5h0M64.7 355.1h0M68.2 356.0h0M64.5 357.1h0M56.5 346.6h0M75.6 353.6h0M59.1 351.4h0M65.3 353.9h0M64.1 352.5h0M61.9 349.1h0M80.2 351.9h0M55.9 355.5h0M79.2 352.3h0M59.1 350.1h0M65.2 356.3h0M57.2 352.9h0M62.3 340.3h0M62.1 355.4h0M61.1 338.3h0M77.1 353.6h0M59.1 355.9h0M59.9 344.0h0M67.5 355.0h0M59.3 349.7h0M59.4 352.5h0M68.9 357.0h0M59.0 337.9h0M63.0 352.3h0M63.9 356.5h0M59.7 344.3h0M76.5 333.3h0M55.9 354.9h0M64.5 354.7h0M61.1 355.1h0M58.7 351.6h0M58.7 346.1h0M53.7 342.0h0M67.1 353.2h0M64.0 356.1h0M57.8 351.3h0M63.8 353.0h0M69.1 352.0h0M61.1 331.9h0M58.3 342.5h0M81.0 352.7h0M71.9 355.4h0M58.2 356.6h0M57.2 349.7h0M65.1 350.6h0M54.2 351.8h0M60.4 348.4h0M77.5 354.4h0M77.7 352.0h0M66.7 356.8h0M75.6 348.8h0M53.6 353.6h0M57.6 347.4h0M81.3 353.5h0M58.1 325.3h0M60.0 355.0h0M68.2 352.4h0M66.9 357.4h0M37.5 303.1h0M57.8 341.4h0M56.2 335.0h0M53.7 345.5h0M71.3 356.1h0M67.9 354.4h0M57.2 322.6h0M58.5 342.1h0M55.4 324.8h0M68.2 353.9h0M49.7 347.8h0M59.0 351.9h0M58.3 352.0h0M59.4 348.8h0M56.9 355.7h0M57.0 348.9h0M57.0 355.5h0M59.9 352.6h0M60.1 344.3h0M58.3 349.8h0M60.3 356.2h0M66.0 355.7h0M66.0 354.8h0M61.2 351.6h0M67.6 354.3h0M59.7 340.9h0M68.0 351.8h0M67.8 351.2h0M67.0 354.1h0M69.0 345.9h0M64.2 354.8h0M58.5 351.8h0M67.4 356.3h0M72.9 353.1h0M61.5 354.3h0M69.1 354.3h0M64.8 352.2h0M80.5 348.5h0M43.1 343.0h0M70.1 355.8h0M55.8 356.0h0M60.4 350.0h0M52.0 351.9h0M79.5 352.4h0M57.5 353.7h0M71.0 354.9h0M61.1 354.3h0M57.5 346.4h0M56.7 326.0h0M57.5 343.8h0M55.6 350.6h0M62.5 351.8h0M77.6 350.5h0M61.8 324.4h0M60.6 351.4h0M63.0 356.0h0M62.2 352.1h0M59.0 351.2h0M66.7 356.5h0M68.3 354.6h0M57.9 350.8h0M58.8 340.9h0M71.3 356.5h0M66.4 355.2h0M60.1 355.5h0M54.4 352.0h0M65.0 356.0h0M66.1 350.5h0M71.2 355.9h0M55.7 355.1h0M58.4 342.5h0M62.7 337.6h0M59.6 353.4h0M65.8 355.3h0M54.4 352.4h0M55.8 338.5h0M57.6 345.9h0M64.3 357.1h0M59.9 347.5h0M82.1 347.1h0M75.5 354.3h0M57.7 333.0h0M60.4 338.5h0M60.1 346.2h0M58.8 355.4h0M81.2 322.2h0M58.2 337.2h0M55.4 351.3h0M63.9 357.1h0M75.3 349.9h0M62.2 354.2h0M58.3 350.7h0M64.7 354.2h0M59.6 349.1h0M57.8 351.7h0M63.4 355.5h0M57.0 342.3h0M61.4 352.8h0M58.1 341.6h0M58.1 354.5h0M63.3 354.6h0M58.3 331.6h0M57.3 356.2h0M59.0 351.7h0M63.9 355.9h0M57.1 341.8h0M59.7 357.1h0M60.4 349.0h0M58.3 340.4h0M67.7 352.7h0M61.4 353.0h0M67.8 357.4h0M67.0 354.8h0M64.9 351.9h0M47.6 342.9h0M68.5 356.4h0M79.4 350.1h0M60.4 337.4h0M56.6 344.9h0M59.2 350.6h0M55.7 320.4h0M53.6 351.4h0M56.2 349.9h0M65.5 353.3h0M54.7 341.6h0M58.1 341.3h0M54.9 337.6h0M62.4 356.4h0M65.1 355.6h0M60.9 348.3h0M69.0 356.9h0M54.5 344.5h0M55.1 352.0h0M58.3 346.7h0M66.4 355.9h0M56.5 339.8h0M63.6 337.5h0M65.8 357.0h0M60.2 350.0h0M64.9 350.7h0M69.5 356.1h0M66.5 355.7h0M57.5 344.8h0M49.7 350.4h0M65.1 356.8h0M57.6 344.8h0M43.3 350.6h0M68.3 357.5h0M62.5 351.4h0M69.2 352.3h0M67.9 351.1h0M62.4 356.3h0M58.6 348.4h0M59.8 357.7h0M64.5 357.8h0M55.7 310.4h0M59.3 334.6h0M55.4 349.1h0M59.3 341.3h0M58.7 349.5h0M58.6 356.6h0M59.8 355.9h0" stroke="#c4c4c4" stroke-width="1.90" stroke-linecap="round" stroke-opacity="0.95" fill="none"/>
<path d="M79.7 339.5h0M58.4 343.6h0M69.0 354.6h0M52.0 350.1h0M79.5 350.1h0M60.6 351.0h0M58.4 350.8h0M60.1 323.6h0M61.4 354.2h0M60.8 356.8h0M70.6 354.4h0M68.7 356.4h0M55.2 321.8h0M57.3 350.7h0M60.6 352.5h0M65.1 356.8h0M55.4 307.6h0M59.7 349.4h0M66.2 348.6h0M58.2 345.5h0M58.6 355.4h0M56.8 347.2h0M64.8 353.3h0M62.0 356.7h0M57.6 354.6h0M69.0 336.8h0M65.1 350.2h0M59.5 354.1h0M60.1 346.2h0M60.3 335.0h0M60.8 344.0h0M76.7 342.5h0M62.3 352.4h0M75.4 346.8h0M67.4 351.9h0M45.0 350.6h0M65.5 356.7h0M61.5 349.4h0M76.0 352.9h0M67.3 355.0h0M62.4 351.7h0M72.5 348.6h0M84.8 351.1h0M61.1 348.4h0M54.7 356.1h0M58.9 352.5h0M55.4 354.3h0M59.1 351.4h0M73.8 357.3h0M60.8 356.6h0M67.9 352.4h0M58.4 347.2h0M62.4 353.5h0M69.0 348.8h0M78.2 346.3h0M58.0 351.5h0M71.6 353.7h0M56.7 349.2h0M70.8 351.3h0M68.6 353.3h0M60.6 353.5h0M60.2 329.0h0M58.2 357.0h0M60.2 349.9h0M59.3 351.0h0M61.4 342.4h0M55.9 298.6h0M65.7 351.1h0M61.2 350.3h0M60.3 343.4h0M75.0 351.7h0M56.6 338.7h0M53.7 346.3h0M57.0 352.0h0M61.3 354.1h0M62.4 332.0h0M56.0 332.0h0M53.3 354.1h0M62.2 349.7h0M68.3 356.0h0M61.0 354.5h0M71.2 351.5h0M62.0 357.2h0M62.9 343.9h0M58.7 333.7h0M56.0 307.3h0M58.2 350.9h0M60.6 354.0h0M60.4 351.5h0M63.6 355.4h0M61.3 356.9h0M76.5 353.5h0M59.9 329.4h0M57.5 323.9h0M58.4 344.8h0M48.9 344.6h0M63.9 357.3h0M52.2 351.7h0M64.0 349.4h0M69.9 354.3h0M63.3 353.7h0M75.6 351.0h0M55.7 354.7h0M79.5 352.5h0M72.2 349.8h0M58.7 352.6h0M62.0 357.1h0M52.1 354.1h0M69.0 354.6h0M55.6 356.7h0M61.2 356.8h0M66.4 355.2h0M83.8 340.5h0M58.9 352.0h0M58.5 347.8h0M74.2 355.6h0M59.0 343.7h0M60.8 352.5h0M62.5 342.8h0M63.6 353.7h0M60.4 344.6h0M60.1 346.9h0M58.2 353.4h0M68.9 358.0h0M61.3 347.4h0M77.9 346.7h0M76.0 353.7h0M64.9 353.4h0M58.1 347.7h0M58.0 346.4h0M61.8 331.9h0M56.7 351.6h0M60.6 349.1h0M59.1 350.6h0M66.4 356.3h0M44.9 339.1h0M62.5 355.6h0M82.0 352.8h0M66.8 352.8h0M65.8 351.3h0M55.6 354.2h0M51.9 346.2h0M58.1 351.5h0M61.3 338.6h0M66.8 352.7h0M60.0 337.8h0M58.3 346.5h0M66.3 347.4h0M65.1 354.4h0M70.6 355.6h0M58.5 353.0h0M77.3 351.3h0M62.6 351.2h0M63.7 354.3h0M61.2 350.7h0M58.8 352.0h0M67.5 354.5h0M57.6 344.8h0M58.0 350.1h0M60.9 350.1h0M64.3 357.9h0M61.5 356.6h0M49.0 350.7h0M73.7 356.3h0M67.3 351.9h0M61.9 357.8h0M59.7 349.1h0M55.3 356.0h0M60.2 344.7h0M59.3 336.5h0M57.6 351.6h0M61.4 354.4h0M55.4 311.4h0M78.2 353.1h0M68.8 352.4h0M59.6 344.0h0M67.9 354.2h0M58.3 354.0h0M68.6 351.1h0M57.4 346.6h0M62.1 355.5h0M46.7 350.8h0M36.5 353.5h0M61.9 326.5h0M65.6 356.6h0M62.2 349.7h0M57.4 350.9h0M78.0 353.8h0M49.2 352.8h0M68.6 353.5h0M66.3 352.8h0M78.4 350.2h0M64.1 357.4h0M60.9 347.5h0M62.2 327.6h0M57.6 354.3h0M59.8 352.5h0M61.7 350.0h0M60.6 335.6h0M59.2 346.2h0M57.8 351.5h0M63.9 348.5h0M66.8 356.1h0M76.7 335.3h0M63.2 354.8h0M59.3 352.8h0M75.6 346.0h0M60.6 349.3h0M56.0 351.7h0M76.2 344.5h0M49.2 353.4h0M69.3 355.5h0M91.7 344.6h0M65.1 355.6h0M75.6 351.0h0M67.4 356.2h0M76.6 344.7h0M76.4 348.8h0M58.2 348.8h0M65.6 356.5h0M67.3 353.5h0M49.3 345.7h0M64.8 348.2h0M61.3 351.2h0M58.6 339.7h0M78.3 341.7h0M59.2 349.1h0M85.6 350.3h0M69.7 356.5h0M65.0 356.2h0M85.8 351.5h0M59.7 356.2h0M78.5 353.2h0M55.3 350.8h0M67.6 356.3h0M63.4 354.0h0M59.2 344.6h0M56.7 354.9h0M52.7 352.1h0M59.6 357.6h0M68.2 354.9h0M67.0 352.4h0M60.5 356.4h0M56.5 352.3h0M56.4 306.3h0M65.7 356.5h0M75.6 325.3h0M67.9 353.4h0M63.3 352.1h0M62.3 356.7h0M75.4 347.2h0M54.8 351.3h0M65.7 355.9h0M82.6 342.1h0M78.4 349.4h0M65.1 356.9h0M65.6 354.0h0M65.2 356.1h0M66.6 356.8h0M58.6 349.9h0M60.0 346.9h0M68.0 347.8h0M60.6 316.9h0M61.8 343.1h0M66.4 357.1h0M47.7 342.5h0M62.3 355.8h0M60.5 350.9h0M72.1 355.1h0M58.0 342.8h0M45.2 299.5h0M63.5 355.9h0M62.6 356.5h0M61.1 354.7h0M59.2 355.9h0M60.1 346.4h0M63.5 352.3h0M55.9 353.9h0M65.5 357.6h0M66.5 357.2h0M68.4 349.9h0M78.6 343.3h0M58.3 353.2h0M60.4 352.0h0M60.7 339.5h0M66.2 349.1h0M77.4 351.5h0M64.4 355.1h0M66.9 354.6h0M60.5 350.2h0M62.2 350.0h0M71.8 348.2h0M57.5 352.4h0M61.5 353.2h0M56.8 350.3h0M54.9 345.5h0M56.9 324.5h0M56.6 353.2h0M76.7 350.0h0M63.6 345.6h0M64.0 357.9h0M59.6 357.5h0M58.0 334.7h0M69.6 350.6h0M57.0 350.9h0M62.9 345.5h0M77.7 352.4h0M62.0 355.7h0M62.5 353.7h0M78.0 350.2h0M67.6 353.8h0M59.4 338.5h0M64.3 354.9h0M63.9 357.5h0M65.8 357.2h0M53.5 348.9h0M57.9 351.1h0M60.3 352.4h0M56.0 345.2h0M60.7 354.2h0M57.8 352.0h0M74.4 355.1h0M60.2 349.6h0M61.3 336.7h0M63.5 352.5h0M65.1 355.8h0M60.0 347.0h0M64.6 357.1h0M57.1 348.0h0M59.4 357.5h0M58.0 348.5h0M67.3 349.4h0M68.1 355.6h0M59.3 354.7h0M66.5 357.5h0M70.5 354.4h0M72.7 352.0h0M65.6 357.2h0M69.1 354.8h0M74.4 353.0h0M57.9 346.2h0M63.1 355.7h0M72.4 351.9h0M59.9 348.9h0M65.0 357.0h0M55.7 343.1h0M62.5 347.6h0M71.6 356.4h0M63.6 351.7h0M66.0 354.1h0M57.7 330.2h0M59.8 347.6h0M59.7 341.1h0M77.9 328.9h0M62.5 353.8h0M59.2 353.7h0M53.1 354.9h0M66.2 353.1h0M57.3 349.1h0M60.1 346.9h0M76.9 326.7h0M74.6 349.4h0M75.9 337.9h0M58.4 343.3h0M61.4 356.6h0M75.4 324.6h0M63.3 353.6h0M55.7 348.5h0M66.3 351.2h0M60.4 343.5h0M62.3 343.5h0M61.0 344.3h0M57.5 351.9h0M65.5 356.9h0M52.3 352.9h0M60.3 348.9h0M64.7 353.8h0M65.2 357.0h0M61.1 349.1h0M59.7 354.6h0M60.5 355.0h0M67.8 353.8h0M55.8 348.7h0M59.3 353.5h0M77.9 354.7h0M61.2 357.6h0M69.7 357.1h0M68.3 349.2h0M82.8 342.3h0M63.9 354.3h0M69.4 349.6h0M47.0 349.8h0M75.6 352.5h0M61.4 353.8h0M63.2 357.2h0M62.7 356.0h0M68.7 350.3h0M57.2 350.1h0M57.4 351.7h0M53.5 345.8h0M54.6 345.9h0M55.4 352.5h0M69.4 356.7h0M59.2 350.5h0M64.9 349.0h0M70.9 348.3h0M44.3 328.3h0M64.0 356.8h0M75.7 349.5h0M58.0 350.6h0M60.7 343.5h0M61.2 354.2h0M57.1 348.1h0M60.0 352.0h0M57.8 349.1h0M63.4 353.1h0M68.1 354.7h0M62.9 343.3h0M61.5 355.6h0M66.4 357.6h0M57.8 356.1h0M76.1 323.6h0M64.4 358.0h0M59.2 342.2h0M69.7 352.0h0M55.2 306.2h0M61.3 339.1h0M56.5 349.2h0M57.1 336.7h0M68.0 355.3h0M56.6 351.5h0M48.1 353.8h0M59.1 354.4h0M64.5 356.5h0M57.8 351.6h0M74.2 352.0h0M71.3 356.1h0" stroke="#c4c4c4" stroke-width="1.90" stroke-linecap="round" stroke-opacity="0.95" fill="none"/>
<path d="M67.6 356.1h0M59.4 354.8h0M56.9 341.5h0M66.3 353.5h0M74.3 351.1h0M61.6 349.5h0M66.6 356.8h0M60.5 354.5h0M72.4 351.1h0M61.6 349.8h0M76.8 353.5h0M78.1 354.0h0M81.2 348.7h0M57.9 351.7h0M57.5 357.1h0M55.3 352.4h0M51.2 353.2h0M60.3 357.6h0M59.1 354.5h0M58.0 349.5h0M62.1 357.4h0M67.8 350.0h0M62.8 348.1h0M61.5 355.3h0M50.1 353.7h0M68.8 354.5h0M55.9 353.7h0M77.3 323.3h0M58.3 340.9h0M75.9 345.5h0M76.4 336.5h0M64.3 357.2h0M58.3 356.7h0M56.0 344.4h0M54.4 344.0h0M67.7 354.3h0M56.5 349.1h0M55.8 340.8h0M76.4 341.4h0M62.2 354.6h0M76.3 351.1h0M61.5 352.5h0M56.3 340.7h0M56.1 350.8h0M60.3 340.7h0M77.6 354.0h0M55.8 349.8h0M62.0 356.8h0M57.8 349.3h0M62.0 355.7h0M54.0 299.5h0M76.3 354.2h0M60.3 352.5h0M69.2 357.2h0M56.3 335.5h0M67.9 356.6h0M73.1 353.5h0M64.1 353.0h0M63.4 355.2h0M55.9 352.3h0M62.6 357.9h0M55.5 352.0h0M65.8 355.8h0M56.0 348.6h0M60.2 351.0h0M90.0 338.5h0M57.2 348.1h0M52.2 340.4h0M67.6 355.5h0M54.1 354.9h0M56.1 332.7h0M65.3 356.3h0M72.1 354.7h0M56.4 350.9h0M82.3 347.7h0M75.7 325.6h0M59.1 349.9h0M58.5 350.0h0M56.3 342.6h0M59.9 356.8h0M68.7 357.1h0M73.4 355.9h0M60.1 344.5h0M62.8 357.6h0M68.5 354.8h0M59.8 349.8h0M56.9 348.1h0M60.7 349.1h0M63.2 356.1h0M63.7 353.5h0M56.7 355.2h0M68.7 357.8h0M78.2 352.5h0M71.0 347.4h0M68.6 349.3h0M77.3 353.6h0M55.1 320.9h0M64.1 350.5h0M71.9 357.4h0M47.5 345.4h0M75.7 354.9h0M71.9 353.1h0M68.5 354.1h0M61.0 347.1h0M58.4 335.2h0M74.6 355.3h0M66.2 357.2h0M56.4 352.9h0M73.4 356.9h0M66.7 348.6h0M62.0 350.9h0M59.4 354.5h0M67.4 354.1h0M56.5 350.5h0M65.3 356.9h0M64.7 356.5h0M68.5 355.6h0M61.0 347.3h0M64.1 357.2h0M64.6 356.3h0M77.0 348.9h0M57.8 346.2h0M59.5 355.7h0M75.5 350.0h0M75.1 345.8h0M61.0 346.7h0M55.0 349.2h0M56.6 352.2h0M63.3 356.5h0M52.1 353.1h0M66.5 357.5h0M53.8 350.4h0M56.8 338.9h0M61.5 354.4h0M59.7 356.9h0M49.5 346.8h0M77.0 339.3h0M54.4 349.4h0M59.1 351.0h0M47.8 346.7h0M59.8 351.2h0M68.2 354.3h0M59.1 350.1h0M57.8 352.0h0M63.2 356.9h0M64.2 353.1h0M61.8 356.3h0M40.1 348.3h0M77.4 355.2h0M64.7 354.8h0M65.5 355.2h0M60.6 342.1h0M61.1 355.5h0M63.8 354.1h0M57.7 350.7h0M82.3 349.9h0M76.9 310.7h0M57.6 356.3h0M57.7 344.9h0M62.4 355.2h0M56.3 352.3h0M56.8 338.5h0M58.1 322.8h0M57.9 338.9h0M60.0 350.4h0M68.9 353.7h0M65.6 356.3h0M60.9 350.4h0M58.5 347.2h0M75.9 301.6h0M55.2 332.8h0M78.5 342.4h0M68.6 353.2h0M57.4 351.5h0M59.5 356.4h0M58.1 350.3h0M61.1 349.6h0M48.7 347.8h0M77.1 354.9h0M43.3 346.3h0M58.5 350.5h0M68.6 357.6h0M56.7 347.6h0M66.8 351.6h0M61.8 356.9h0M63.9 355.2h0M62.3 350.6h0M68.1 347.1h0M58.6 349.9h0M78.0 349.6h0M60.4 357.8h0M81.3 349.1h0M64.0 356.9h0M53.0 351.9h0M46.6 350.2h0M81.8 353.6h0M59.8 344.8h0M58.1 352.4h0M69.2 353.5h0M66.9 352.5h0M87.1 347.4h0M58.3 352.3h0M64.0 352.9h0M62.1 353.9h0M75.6 352.4h0M55.0 354.0h0M54.5 352.0h0M59.4 318.7h0M59.4 351.0h0M65.0 357.0h0M54.4 345.5h0M63.9 354.2h0M64.8 355.8h0M79.3 339.2h0M75.9 351.1h0M65.6 354.0h0M81.2 350.2h0M61.5 341.4h0M78.2 350.5h0M60.1 352.6h0M58.9 347.4h0M59.6 341.4h0M61.9 353.9h0M76.6 344.6h0M61.3 356.0h0M43.9 344.8h0M58.6 350.4h0M60.6 346.6h0M59.9 352.6h0M60.7 352.3h0M80.1 354.2h0M53.5 353.0h0M57.9 348.3h0M57.7 347.6h0M61.1 339.9h0M82.2 348.6h0M63.7 351.3h0M66.4 353.7h0M58.8 339.6h0M58.6 349.9h0M61.6 352.4h0M70.7 353.0h0M56.4 321.3h0M60.1 318.9h0M71.9 353.7h0M70.1 356.2h0M58.9 356.7h0M57.5 353.8h0M56.7 350.3h0M80.2 354.2h0M50.5 353.5h0M58.1 336.7h0M76.7 317.2h0M64.2 356.0h0M67.0 355.8h0M51.7 354.0h0M54.8 353.8h0M78.6 352.1h0M77.3 354.8h0M61.6 357.8h0M53.5 348.2h0M55.7 328.8h0M54.3 342.4h0M64.3 351.2h0M57.4 349.6h0M66.8 352.7h0M54.1 353.4h0M79.1 342.8h0M63.9 354.0h0M76.0 329.6h0M69.6 349.5h0M58.2 356.5h0M69.1 355.7h0M63.0 355.2h0M59.7 342.5h0M56.1 348.3h0M60.2 338.6h0M77.8 353.1h0M67.6 357.5h0M65.9 353.0h0M79.7 353.7h0M68.8 354.8h0M59.9 355.0h0M55.1 348.5h0M78.6 342.0h0M63.8 339.4h0M55.3 351.1h0M58.3 350.0h0M64.0 350.7h0M55.7 347.6h0M64.1 352.2h0M58.0 348.9h0M62.8 352.1h0M66.9 357.9h0M66.8 353.9h0M61.0 349.8h0M69.2 354.3h0M57.4 346.6h0M65.4 355.1h0M60.2 352.0h0M70.8 357.6h0M65.9 355.9h0M75.3 346.2h0M80.0 351.3h0M55.4 353.6h0M76.2 352.6h0M66.6 353.1h0M78.1 350.6h0M59.1 333.6h0M90.3 343.6h0M66.1 357.6h0M61.8 355.6h0M60.9 334.4h0M75.4 352.5h0M59.3 351.8h0M59.9 345.5h0M58.8 351.5h0M55.4 352.6h0M61.0 339.0h0M52.7 352.2h0M76.2 331.0h0M60.4 353.4h0M51.8 347.6h0M59.8 348.9h0M62.7 355.4h0M62.3 354.1h0M64.0 355.1h0M75.6 348.0h0M59.4 348.6h0M60.2 351.7h0M65.5 351.0h0M67.6 358.0h0M71.5 353.1h0M58.8 346.0h0M54.9 349.5h0M77.1 348.4h0M76.8 334.0h0M80.4 342.8h0M63.5 355.5h0M50.5 348.5h0M68.6 354.9h0M50.0 345.8h0M59.1 354.0h0M58.2 349.4h0M59.4 350.3h0M58.1 352.1h0M63.4 355.7h0M65.3 356.7h0M65.3 357.4h0M58.7 337.8h0M75.0 355.2h0M60.8 343.5h0M68.8 351.8h0M58.0 345.7h0M60.7 345.6h0M55.6 349.9h0M68.7 349.4h0M63.1 355.6h0M62.5 348.3h0M56.6 354.4h0M79.2 352.2h0M58.8 347.7h0M54.8 345.9h0M61.5 348.4h0M78.1 351.5h0M69.2 353.9h0M60.1 355.1h0M61.9 349.4h0M62.7 355.4h0M76.6 342.5h0M69.0 356.2h0M72.5 348.5h0M80.9 353.3h0M64.2 354.6h0M58.2 328.7h0M62.2 356.1h0M66.7 356.8h0M61.3 340.0h0M72.0 357.6h0M76.3 351.7h0M43.1 347.9h0M64.5 356.5h0M66.9 355.8h0M54.8 353.8h0M60.4 340.0h0M60.0 357.0h0M57.3 350.3h0M64.5 355.3h0M63.3 352.2h0M58.7 348.5h0M62.9 353.3h0M65.7 355.2h0M60.2 349.4h0M67.2 355.7h0M62.0 343.8h0M64.2 356.1h0M66.9 350.7h0M65.7 350.6h0M57.7 350.9h0M76.1 345.1h0M60.7 347.5h0M55.5 352.4h0M76.1 351.9h0M69.9 352.9h0M62.2 355.1h0M59.7 355.5h0M59.6 352.1h0M62.3 355.7h0M57.9 346.1h0M59.3 352.3h0M76.9 351.0h0M69.4 357.9h0M62.4 332.5h0M70.7 356.6h0M68.8 354.6h0M50.0 349.4h0M57.8 351.2h0M59.8 342.2h0M75.5 332.0h0M57.7 347.8h0M59.4 355.9h0M57.7 353.5h0M68.0 352.3h0M60.3 349.2h0M65.3 355.9h0M56.0 338.5h0M56.8 347.4h0M58.7 349.5h0M53.6 351.3h0M72.5 353.1h0M55.8 337.4h0M56.4 353.4h0M54.8 352.9h0M56.7 355.7h0M63.6 352.2h0M60.4 347.5h0M63.1 351.0h0" stroke="#c4c4c4" stroke-width="1.90" stroke-linecap="round" stroke-opacity="0.95" fill="none"/>
<path d="M59.4 349.7h0M71.9 357.1h0M60.5 353.9h0M59.9 352.4h0M58.1 352.4h0M48.6 345.9h0M67.4 355.0h0M50.6 353.5h0M68.3 348.2h0M65.9 356.1h0M81.1 344.2h0M61.8 355.5h0M57.6 351.3h0M54.7 353.0h0M60.8 346.1h0M75.5 340.0h0M54.9 350.0h0M55.9 349.4h0M57.7 351.1h0M59.7 348.6h0M56.7 344.7h0M60.9 348.6h0M76.9 308.9h0M75.8 330.3h0M58.5 350.1h0M59.3 353.8h0M59.1 349.0h0M67.3 353.7h0M57.7 352.5h0M59.4 352.7h0M57.6 343.3h0M59.4 335.4h0M62.2 356.4h0M60.1 348.4h0M78.4 354.8h0M61.4 324.5h0M57.6 350.0h0M66.2 356.1h0M62.8 330.7h0M55.1 353.8h0M77.7 347.4h0" stroke="#c4c4c4" stroke-width="1.90" stroke-linecap="round" stroke-opacity="0.95" fill="none"/>
<path d="M78.8 334.3h0M69.6 352.9h0M75.1 350.6h0M76.6 351.0h0M72.6 331.2h0M71.6 346.5h0M71.5 349.0h0M73.0 356.5h0M74.8 336.5h0M59.7 357.2h0M69.9 350.0h0M73.0 315.2h0M72.2 347.7h0M71.5 332.8h0M72.6 356.7h0M74.3 351.4h0M74.1 316.4h0M71.8 344.5h0M75.3 348.3h0M74.8 355.2h0M69.9 355.7h0M70.5 344.8h0M74.7 350.8h0M64.1 357.4h0M74.1 349.6h0M74.4 353.7h0M74.5 315.8h0M73.8 356.5h0M70.9 331.0h0M76.3 341.4h0M70.0 347.7h0M75.0 340.4h0M73.8 349.2h0M72.1 350.7h0M73.0 328.9h0M75.7 353.3h0M54.2 348.6h0M72.7 343.0h0M72.3 357.5h0M69.8 355.7h0M69.8 355.1h0M70.6 340.6h0M71.9 347.4h0M70.2 356.1h0M73.1 343.5h0M74.1 353.1h0M69.9 337.1h0M71.4 355.1h0M70.0 354.8h0M76.8 348.5h0M73.2 314.5h0M71.3 340.6h0M74.0 339.9h0M61.5 357.1h0M73.9 326.7h0M59.7 356.9h0M73.6 352.4h0M72.2 336.9h0M76.4 351.1h0M74.8 341.0h0M72.0 349.4h0M76.9 351.7h0M72.5 305.8h0M57.3 356.7h0M74.4 351.6h0M61.8 357.6h0M75.6 356.8h0M74.4 348.8h0M71.6 340.8h0M73.7 318.7h0M75.2 347.0h0M71.2 319.0h0M69.3 351.5h0M98.6 353.5h0M72.1 313.2h0M74.2 357.1h0M78.2 317.9h0M76.2 348.1h0M74.1 322.9h0M73.4 349.4h0M72.4 326.9h0M73.6 357.1h0M71.7 341.7h0M70.1 354.6h0M72.9 355.8h0M74.1 338.7h0M73.5 349.1h0M77.3 349.4h0M69.9 346.0h0M69.4 354.4h0M84.7 327.7h0M63.3 357.8h0M74.9 351.2h0M72.5 343.8h0M75.2 331.9h0M69.5 322.3h0M78.5 351.9h0M71.0 347.0h0M71.5 346.6h0M74.7 343.8h0M71.8 352.2h0M70.2 334.1h0M75.7 348.1h0M69.8 354.1h0M75.8 343.7h0M73.7 353.1h0M74.8 341.1h0M69.3 349.5h0M71.7 308.2h0M72.9 331.9h0M77.6 351.4h0M74.4 351.6h0M72.7 335.6h0M53.5 355.6h0M55.1 356.6h0M75.3 339.0h0M72.0 344.9h0M59.4 357.0h0M73.9 345.1h0M61.4 357.7h0M71.4 320.6h0M73.6 333.2h0M73.7 350.0h0M72.1 328.0h0M75.3 349.2h0M75.2 356.1h0M73.3 335.9h0M73.9 352.5h0M73.1 344.1h0M73.6 334.7h0M66.7 357.6h0M84.1 346.8h0M69.6 352.7h0M66.8 357.4h0M72.5 349.0h0M73.5 349.7h0M95.7 343.6h0M71.6 357.4h0M73.5 352.2h0M70.4 357.3h0M71.6 355.1h0M75.1 348.8h0M74.8 344.9h0M72.7 353.6h0M77.0 356.3h0M74.5 344.2h0M72.9 356.5h0M74.4 345.9h0M83.6 350.1h0M69.2 347.4h0M90.8 342.7h0M81.7 354.5h0M72.0 351.6h0M70.8 334.8h0M77.4 346.4h0M72.4 323.3h0M72.2 351.2h0M71.3 353.1h0M75.3 353.0h0M73.3 344.9h0M73.7 350.4h0M79.4 355.4h0M73.5 348.0h0M74.0 308.5h0M72.4 349.3h0M58.8 357.1h0M66.2 358.2h0M73.7 341.2h0M73.7 357.3h0M75.1 348.7h0M76.0 335.8h0M70.4 347.5h0M73.2 350.4h0M73.5 351.7h0M71.7 351.8h0M69.4 356.4h0M84.4 353.3h0M70.9 342.5h0M70.9 348.8h0M73.6 345.0h0M72.8 350.1h0M72.1 349.5h0M71.5 333.5h0M73.6 356.3h0M71.3 355.7h0M72.0 338.0h0M66.3 357.6h0M71.7 344.8h0M70.6 345.9h0M73.1 332.2h0M65.2 357.6h0M75.2 330.0h0M74.5 351.0h0M72.5 342.9h0M69.1 326.5h0M73.5 336.7h0M72.4 326.6h0M77.3 311.4h0M74.5 344.8h0M73.0 348.2h0M75.6 336.4h0M71.6 356.4h0M74.1 345.3h0M73.0 328.3h0M72.3 341.5h0M63.2 357.8h0M72.3 314.5h0M55.8 356.0h0M76.0 349.6h0M70.2 357.6h0M73.6 352.0h0M71.5 354.0h0M72.2 337.0h0M74.0 301.6h0M73.3 344.1h0M73.1 336.1h0M58.4 350.8h0M75.8 350.0h0M74.3 341.9h0M78.4 352.4h0M70.8 356.0h0M75.3 354.3h0M74.3 353.1h0M69.9 353.3h0M73.5 340.5h0M74.7 308.9h0M73.8 332.5h0M74.8 354.8h0M74.3 351.1h0M73.7 332.1h0M73.9 334.9h0M72.3 347.8h0M81.4 349.0h0M74.0 348.5h0M75.5 338.9h0M74.3 347.5h0M79.8 319.5h0M72.1 330.8h0M74.9 350.2h0M72.7 298.3h0M72.4 335.0h0M75.2 336.8h0M73.6 346.0h0M70.2 357.3h0M73.0 352.1h0M72.4 347.9h0M71.5 347.5h0M72.3 351.0h0M73.0 350.8h0M70.3 356.8h0M65.6 357.6h0M75.0 318.6h0M72.4 338.0h0M75.0 301.4h0M70.6 347.4h0M72.4 350.8h0M75.1 356.2h0M73.0 333.1h0M100.5 312.1h0M77.1 308.2h0M74.0 332.1h0M73.4 324.2h0M71.5 353.3h0M73.1 354.3h0M63.0 357.7h0M57.0 356.5h0M69.3 355.8h0M73.1 339.0h0M75.0 327.8h0M71.6 354.4h0M75.6 340.6h0M72.2 324.7h0M75.8 351.8h0M72.6 305.1h0M71.9 353.0h0M76.2 350.9h0M85.4 345.4h0M73.5 354.1h0M77.2 322.0h0M84.5 330.7h0M71.7 347.6h0M72.1 357.5h0M71.7 324.0h0M80.3 321.6h0M74.0 352.3h0M75.4 345.1h0M68.0 357.4h0M71.2 355.3h0M80.3 351.2h0M77.7 326.2h0M48.7 353.5h0M69.3 350.5h0M71.8 352.2h0M75.2 355.2h0M73.7 324.0h0M69.4 353.6h0M73.4 345.8h0M60.5 357.5h0M61.0 357.6h0M71.6 352.6h0M71.5 337.8h0M71.1 318.3h0M75.5 355.3h0M69.8 324.8h0M69.1 357.5h0M72.5 334.8h0M75.6 347.5h0M74.7 343.2h0M74.2 354.2h0M72.3 327.5h0M72.9 339.7h0M73.9 346.1h0M70.8 351.8h0M74.5 330.8h0M72.2 351.1h0M73.6 336.9h0M55.5 356.3h0M70.5 330.8h0M69.7 349.7h0M73.5 317.0h0M81.3 323.8h0M74.2 341.8h0M75.4 340.7h0M71.0 355.2h0M74.0 335.9h0M61.6 357.5h0M69.8 355.7h0M72.8 324.7h0M71.6 322.5h0M73.3 354.2h0M77.4 315.0h0M74.2 345.9h0M72.2 348.2h0M72.1 355.3h0M73.5 351.9h0M70.4 347.8h0M73.1 348.5h0M72.7 347.8h0M73.4 312.2h0M72.9 337.8h0M72.8 321.9h0M74.7 356.5h0M69.3 350.2h0M31.6 349.9h0M72.7 334.0h0M66.0 358.1h0M71.7 351.0h0M73.2 297.3h0M64.7 357.5h0M76.6 348.2h0M73.7 350.0h0M77.1 354.6h0M73.4 313.1h0M72.5 304.9h0M72.0 340.1h0M52.7 355.3h0M74.2 326.7h0M71.5 337.1h0M74.1 346.7h0M74.6 349.6h0M71.9 342.7h0M63.7 357.4h0M73.6 350.6h0M71.2 354.3h0M72.9 349.2h0M72.7 342.2h0M65.9 358.0h0M73.6 341.3h0M72.0 346.6h0M75.1 343.9h0M75.0 341.2h0M82.6 306.8h0M74.9 346.2h0M71.5 350.9h0M74.2 344.8h0M72.3 347.2h0M68.0 357.3h0M75.1 348.2h0M72.5 355.4h0M74.6 356.3h0M72.7 334.2h0M73.3 352.1h0M74.1 349.6h0M74.1 326.2h0M79.6 346.6h0M74.1 349.0h0M72.3 356.6h0M72.9 324.6h0M70.8 349.0h0M70.7 355.6h0M69.3 351.8h0M70.7 356.5h0M73.6 345.4h0M71.7 352.3h0M69.2 323.2h0M73.7 352.4h0" stroke="#d81b60" stroke-width="1.90" stroke-linecap="round" stroke-opacity="0.95" fill="none"/>
<path d="M74.8 330.3h0M70.4 357.1h0M69.9 357.0h0M72.7 349.0h0M72.6 343.9h0M69.3 349.5h0M72.9 355.1h0M58.8 350.2h0M75.0 309.7h0M73.1 335.8h0M72.0 336.8h0M71.3 337.4h0M73.8 350.6h0M72.1 335.7h0M72.5 341.6h0M79.5 318.4h0M72.7 314.9h0M75.2 327.8h0M75.0 314.5h0M72.4 352.4h0M72.7 344.4h0M71.4 344.1h0M72.3 334.1h0M71.7 354.0h0M76.4 356.3h0M74.2 324.0h0M71.7 352.1h0M70.0 334.2h0M58.7 346.8h0M74.8 348.9h0M74.4 332.3h0M72.8 303.1h0M74.0 350.7h0M70.2 323.7h0M74.3 352.8h0M72.8 303.9h0M73.7 320.3h0M72.5 317.4h0M75.3 308.5h0M74.1 346.7h0M73.0 326.5h0M71.6 349.5h0M69.7 336.5h0M75.0 346.8h0M72.0 344.3h0M69.9 357.9h0M71.4 348.0h0M70.1 332.9h0M74.8 354.9h0M72.2 320.2h0M77.1 346.8h0M69.8 354.4h0M71.4 347.1h0M71.5 327.5h0M69.3 324.8h0M73.2 342.6h0M72.3 355.6h0M72.7 344.0h0M72.5 344.6h0M73.3 349.0h0M85.9 326.2h0M74.1 311.9h0M73.1 343.0h0M75.3 311.1h0M70.6 338.5h0M73.4 333.8h0M73.9 306.5h0M71.7 351.2h0M69.7 350.5h0M74.9 351.9h0M69.4 339.1h0M74.2 342.0h0M75.5 316.8h0M80.2 341.5h0M62.3 357.5h0M76.0 353.1h0M78.4 344.7h0M73.2 318.3h0M74.9 335.8h0M75.0 349.8h0M74.3 337.3h0M72.9 345.4h0M70.8 351.8h0M74.6 346.0h0M53.7 356.2h0M73.5 342.9h0M74.3 335.7h0M70.5 357.8h0M73.0 330.0h0M72.7 323.2h0M70.4 354.6h0M70.6 319.2h0M72.0 346.0h0M87.0 310.8h0M67.4 357.9h0M71.6 318.7h0M42.8 350.5h0M76.1 341.4h0M76.0 336.2h0M72.5 325.2h0M70.4 352.9h0M51.2 354.6h0M72.7 304.7h0M74.8 344.0h0M71.8 306.6h0M74.2 337.1h0M71.0 353.8h0M73.3 351.2h0M72.5 357.4h0M75.8 352.5h0M72.5 333.7h0M81.8 329.1h0M66.4 357.6h0M74.6 345.4h0M73.1 340.6h0M74.0 325.7h0M84.0 295.0h0M66.7 357.8h0M69.9 341.5h0M73.1 357.0h0M71.6 331.5h0M81.2 324.3h0M75.1 309.2h0M63.1 357.6h0M74.2 340.2h0M72.3 315.5h0M72.4 344.8h0M71.6 349.1h0M78.7 317.9h0M72.7 344.8h0M72.0 342.3h0M82.1 297.7h0M55.4 356.6h0M72.0 334.3h0M72.9 350.2h0M72.8 339.4h0M74.1 340.9h0M60.7 337.6h0M74.2 335.8h0M72.2 338.4h0M71.0 354.0h0M72.4 357.4h0M74.2 350.5h0M73.6 331.4h0M70.7 332.3h0M116.0 349.9h0M65.7 358.0h0M72.7 349.9h0M65.6 357.4h0M70.5 327.9h0M72.1 351.2h0M70.8 340.0h0M73.1 312.9h0M75.0 327.9h0M69.9 337.8h0M71.3 346.7h0M74.3 343.4h0M75.1 352.8h0M71.9 349.9h0M75.3 351.5h0M71.1 355.0h0M71.4 357.1h0M73.7 314.7h0M72.1 353.3h0M71.2 307.4h0M71.6 344.8h0M73.6 333.6h0M72.6 331.0h0M73.1 335.5h0M60.9 357.1h0M70.2 351.0h0M72.7 351.0h0M69.3 357.1h0M73.9 349.9h0M76.3 350.4h0M74.2 303.0h0M81.1 354.1h0M72.1 353.6h0M64.6 358.1h0M74.7 340.6h0M70.7 328.1h0M70.7 355.3h0M74.7 320.3h0M71.3 346.3h0M73.8 355.5h0M73.0 352.3h0M74.0 347.2h0M70.0 351.9h0M65.3 358.1h0M69.7 356.1h0M74.4 311.6h0M74.4 335.4h0M73.7 347.0h0M73.1 348.9h0M70.9 349.8h0M69.5 356.9h0M73.1 342.6h0M72.9 316.4h0M72.2 304.4h0M78.2 338.5h0M74.7 350.8h0M70.0 348.1h0M63.9 357.5h0M75.3 341.3h0M63.3 358.0h0M75.0 326.4h0M71.2 347.6h0M56.9 345.5h0M71.3 318.0h0M71.6 345.9h0M72.7 350.7h0M67.9 357.4h0M71.9 342.6h0M63.0 357.4h0M72.2 322.0h0M73.6 344.4h0M74.0 342.3h0M74.8 326.1h0M74.1 330.1h0M71.0 357.5h0M74.3 354.3h0M72.8 351.1h0M71.6 350.6h0M74.3 352.2h0M72.2 349.1h0M75.2 341.7h0M73.2 350.3h0M74.2 355.9h0M59.4 357.0h0M60.3 357.7h0M75.0 319.6h0M60.2 346.5h0M70.1 351.1h0M75.3 333.6h0M70.8 355.1h0M72.5 349.1h0M72.1 354.4h0M74.7 350.6h0M69.5 332.8h0M71.7 354.2h0M73.4 310.4h0M74.4 350.7h0M77.0 322.4h0M71.9 351.9h0M61.3 357.2h0M72.8 351.5h0M78.8 355.5h0M74.3 342.5h0M72.4 349.3h0M73.8 349.8h0M79.1 329.7h0M71.3 352.3h0M75.7 346.5h0M74.6 337.1h0M69.7 356.7h0M67.6 357.5h0M76.6 343.3h0M75.5 339.3h0M69.6 350.7h0M80.3 353.6h0M74.0 337.0h0M74.1 350.6h0M70.4 350.9h0M75.2 350.5h0M61.0 357.8h0M60.7 357.6h0M69.1 332.4h0M72.0 352.1h0M75.1 303.7h0M73.8 343.6h0M70.9 346.9h0M71.6 334.0h0M72.6 314.1h0M76.2 321.6h0M74.8 344.7h0M76.7 342.5h0M72.4 356.8h0M75.6 336.5h0M78.9 313.2h0M70.5 347.6h0M73.9 315.1h0M71.7 356.3h0M66.1 357.9h0M71.9 325.1h0M59.7 350.4h0M69.1 351.2h0M75.4 338.4h0M77.0 354.2h0M71.1 306.6h0M54.0 356.2h0M73.2 352.2h0M71.2 333.0h0M65.0 357.7h0M80.8 345.6h0M70.6 356.7h0M73.9 342.4h0M74.6 346.6h0M73.2 317.0h0M75.7 350.9h0M76.1 354.9h0M69.8 352.7h0M72.2 355.7h0M70.2 356.2h0M74.7 354.3h0M72.2 328.1h0M73.5 352.3h0M59.6 357.2h0M82.5 331.5h0M93.7 346.3h0M71.4 342.0h0M71.3 302.6h0M69.9 355.4h0M74.2 329.7h0M73.5 346.9h0M70.5 349.8h0M69.4 350.2h0M77.8 345.1h0M70.4 343.2h0M69.7 356.4h0M75.2 333.9h0M73.6 348.2h0M48.3 354.0h0M74.2 318.5h0M70.9 336.9h0M75.3 352.6h0M72.1 329.8h0M71.3 338.7h0M73.4 352.0h0M71.7 346.9h0M71.3 355.3h0M74.9 336.0h0M72.1 340.8h0M76.2 350.2h0M75.5 318.4h0M73.3 345.2h0M71.9 342.0h0M56.6 356.3h0M72.8 313.8h0M73.6 310.9h0M71.1 356.3h0M73.3 338.7h0M69.5 357.6h0M71.6 348.3h0M80.4 319.9h0M71.7 316.3h0M82.5 353.5h0M74.1 336.3h0M73.7 299.6h0M65.0 358.1h0M77.3 352.1h0M74.7 351.0h0M70.8 323.4h0M73.9 344.6h0M82.6 352.6h0M66.0 357.6h0M72.3 296.7h0M72.0 338.7h0M72.7 351.2h0M70.5 354.3h0M70.8 317.6h0M72.6 345.5h0M74.1 349.0h0M77.0 354.8h0M75.9 333.7h0M71.4 339.7h0M61.6 357.6h0M80.2 355.1h0M75.2 356.8h0M77.4 331.0h0M70.4 352.6h0M70.7 357.8h0M73.3 320.7h0M72.7 344.6h0M75.7 335.2h0M82.9 310.7h0M72.2 351.6h0M71.7 355.9h0M72.9 326.7h0M71.9 347.9h0M69.3 348.0h0M94.7 324.7h0M74.5 342.5h0M73.6 349.9h0M72.0 339.6h0M72.7 354.5h0M66.6 357.3h0M33.6 325.6h0M73.5 350.4h0M71.5 349.9h0M74.3 350.3h0M71.2 346.3h0M59.5 357.0h0M76.6 355.5h0M42.3 350.7h0M75.2 337.0h0M70.0 354.4h0M67.1 357.6h0M74.4 339.1h0M72.9 340.5h0M72.0 320.5h0M73.1 355.3h0M69.8 348.1h0M81.9 324.3h0M71.1 356.7h0M72.8 302.8h0M73.0 339.1h0M70.6 355.7h0M71.3 357.1h0M72.5 334.1h0M75.0 356.1h0M73.1 330.2h0M71.8 356.7h0M75.7 348.3h0M71.7 324.5h0M75.2 351.8h0M72.8 351.8h0M78.0 352.5h0M69.8 351.2h0M75.7 307.4h0M70.4 356.5h0M55.8 356.2h0M72.9 344.5h0M72.2 339.0h0M74.0 345.7h0M72.4 353.8h0M75.3 351.7h0M70.1 357.6h0M72.5 343.5h0M74.1 349.3h0M75.9 349.3h0M72.8 327.2h0M73.7 318.5h0M72.9 346.2h0M70.7 297.5h0M73.8 348.4h0M72.2 348.7h0M72.6 343.6h0" stroke="#d81b60" stroke-width="1.90" stroke-linecap="round" stroke-opacity="0.95" fill="none"/>
<path d="M158.1 358.2h0M174.2 358.1h0M157.3 358.5h0M170.5 357.7h0M158.2 357.5h0M172.1 358.2h0M178.2 357.7h0M166.3 358.3h0M185.7 358.3h0M161.3 357.6h0M167.7 358.4h0M164.5 358.5h0M169.0 358.0h0M175.0 358.4h0M154.0 358.0h0M156.7 358.4h0M156.3 358.5h0M161.3 358.4h0M191.0 358.5h0M173.1 357.5h0M164.9 358.0h0M166.3 358.2h0M167.8 357.7h0M171.1 357.9h0M180.6 358.1h0M172.0 358.5h0M173.9 358.1h0M174.3 358.4h0M176.2 358.0h0M168.0 357.9h0M172.6 358.2h0M178.9 358.2h0M171.0 358.1h0M169.1 358.4h0M168.3 358.1h0M159.6 358.2h0" stroke="#d81b60" stroke-width="1.90" stroke-linecap="round" stroke-opacity="0.9" fill="none"/>
<path d="M171.3 357.3h0M174.1 357.7h0M172.7 358.0h0M168.3 357.9h0M179.9 358.3h0M162.0 357.0h0M168.8 357.8h0M173.4 357.6h0M184.7 357.1h0M168.3 357.9h0M167.9 357.8h0M166.2 358.2h0M175.1 358.0h0M167.4 357.4h0M161.5 357.9h0M175.1 358.3h0M154.0 357.8h0M168.7 358.1h0M178.3 357.7h0M167.0 358.0h0M165.9 356.6h0M172.9 356.7h0M174.3 357.8h0M164.0 358.4h0M185.1 358.0h0M167.8 357.3h0M166.4 357.0h0M162.0 358.2h0M172.2 357.4h0M171.8 358.3h0M153.7 358.0h0M162.6 358.1h0M171.3 358.3h0M172.7 358.5h0M164.6 358.4h0M170.1 357.8h0" stroke="#d81b60" stroke-width="1.90" stroke-linecap="round" stroke-opacity="0.9" fill="none"/>
<path d="M163.5 358.4h0M157.1 357.2h0M177.6 358.4h0M163.5 357.5h0M168.2 358.4h0M182.9 358.3h0M161.3 356.6h0M177.3 358.4h0M155.3 358.4h0M155.3 355.7h0M175.1 358.1h0M165.7 356.8h0M166.1 357.3h0M171.3 356.8h0M160.4 357.6h0M179.0 357.6h0M155.8 357.8h0M173.2 357.7h0M161.9 358.0h0M158.3 358.0h0M176.1 358.0h0M182.0 358.5h0M166.0 357.7h0M166.1 357.5h0M154.1 358.0h0M177.5 357.9h0M176.7 358.3h0M161.8 358.5h0M164.3 357.6h0M154.7 357.3h0M167.0 358.4h0M163.5 357.4h0M168.3 358.1h0M175.9 357.9h0M152.7 357.9h0M162.0 357.5h0" stroke="#d81b60" stroke-width="1.90" stroke-linecap="round" stroke-opacity="0.9" fill="none"/>
<path d="M169.5 357.7h0M172.6 356.9h0M172.2 358.0h0M161.5 358.2h0M172.6 357.8h0M174.4 357.2h0M162.7 356.6h0M166.3 358.1h0M161.4 358.3h0M168.7 357.7h0M161.0 357.9h0M161.4 357.1h0M174.9 358.4h0M168.6 358.4h0M168.5 358.4h0M164.6 357.5h0M162.3 357.2h0M170.9 358.5h0M165.4 358.5h0M169.6 358.0h0M168.4 358.3h0M161.6 357.9h0M159.7 357.7h0M173.5 356.6h0M165.1 358.0h0M162.5 358.5h0M175.2 358.5h0M166.0 358.0h0M166.1 357.8h0M164.1 357.6h0M157.8 357.6h0M156.9 357.6h0M169.6 358.3h0M177.6 358.0h0M172.5 357.9h0M155.8 357.3h0" stroke="#d81b60" stroke-width="1.90" stroke-linecap="round" stroke-opacity="0.9" fill="none"/>
<path d="M160.3 357.8h0M176.4 357.5h0M174.6 358.2h0M164.1 358.1h0M164.6 357.1h0M159.7 357.5h0M170.6 356.8h0M186.9 358.3h0M154.5 358.2h0M160.2 356.9h0M171.2 357.9h0M173.8 358.1h0M155.2 358.1h0M165.3 358.5h0M168.0 358.3h0M168.4 358.1h0M160.5 357.3h0M169.6 358.2h0M155.4 358.4h0M173.0 357.5h0M175.0 358.2h0M169.9 358.4h0M168.6 357.6h0M164.1 357.3h0M161.3 357.8h0M172.2 357.7h0" stroke="#d81b60" stroke-width="1.90" stroke-linecap="round" stroke-opacity="0.9" fill="none"/>
<path d="M193.2 352.6h0M194.2 356.2h0M178.6 345.4h0M182.5 353.5h0M174.8 350.8h0M164.1 355.3h0M177.7 354.4h0M169.9 356.2h0M188.3 357.1h0" stroke="#c4c4c4" stroke-width="1.90" stroke-linecap="round" stroke-opacity="0.9" fill="none"/>
<rect x="81.9" y="290.3" width="12.5" height="5.0" rx="0.7" fill="#fff" fill-opacity="0.8" stroke="#8a8a8a" stroke-width="0.4"/>
<text x="88.2" y="294.0" font-size="3.7" fill="#222" text-anchor="middle" stroke="#222" stroke-width="0.08">DSC2</text>
<rect x="70.3" y="301.0" width="11.6" height="5.0" rx="0.7" fill="#fff" fill-opacity="0.8" stroke="#8a8a8a" stroke-width="0.4"/>
<text x="76.1" y="304.7" font-size="3.7" fill="#222" text-anchor="middle" stroke="#222" stroke-width="0.08">VNN1</text>
<rect x="85.0" y="301.0" width="17.5" height="5.0" rx="0.7" fill="#fff" fill-opacity="0.8" stroke="#8a8a8a" stroke-width="0.4"/>
<text x="93.8" y="304.7" font-size="3.7" fill="#222" text-anchor="middle" stroke="#222" stroke-width="0.08">ADGRG3</text>
<rect x="79.3" y="308.2" width="12.3" height="5.0" rx="0.7" fill="#fff" fill-opacity="0.8" stroke="#8a8a8a" stroke-width="0.4"/>
<text x="85.5" y="311.9" font-size="3.7" fill="#222" text-anchor="middle" stroke="#222" stroke-width="0.08">PADI4</text>
<rect x="35.7" y="318.4" width="18.1" height="5.0" rx="0.7" fill="#fff" fill-opacity="0.8" stroke="#8a8a8a" stroke-width="0.4"/>
<text x="44.8" y="322.1" font-size="3.7" fill="#222" text-anchor="middle" stroke="#222" stroke-width="0.08">MTCO1P5</text>
<rect x="94.6" y="324.3" width="14.2" height="5.0" rx="0.7" fill="#fff" fill-opacity="0.8" stroke="#8a8a8a" stroke-width="0.4"/>
<text x="101.7" y="328.0" font-size="3.7" fill="#222" text-anchor="middle" stroke="#222" stroke-width="0.08">S100P</text>
<rect x="79.4" y="332.2" width="16.0" height="5.0" rx="0.7" fill="#fff" fill-opacity="0.8" stroke="#8a8a8a" stroke-width="0.4"/>
<text x="87.4" y="335.9" font-size="3.7" fill="#222" text-anchor="middle" stroke="#222" stroke-width="0.08">S100A8</text>
<text x="230.8" y="250.0" font-size="6.6" fill="#111" stroke="#111" stroke-width="0.12">Factor</text>
<circle cx="233.6" cy="256.8" r="0.9" fill="#d81b60"/>
<circle cx="233.6" cy="262.9" r="0.9" fill="#d0d0d0"/>
<text x="239.8" y="258.7" font-size="5.4" fill="#111" stroke="#111" stroke-width="0.08">Factor B1</text>
<text x="239.8" y="264.7" font-size="5.4" fill="#111" stroke="#111" stroke-width="0.08">NA</text>
<defs><clipPath id="vc1"><circle cx="457.3" cy="17.0" r="17"/></clipPath><clipPath id="vc2"><circle cx="464.6" cy="17.0" r="17"/></clipPath></defs>
<circle cx="440.2" cy="17.0" r="17" fill="#b3dfd2"/>
<circle cx="440.2" cy="17.0" r="17" fill="#ddd3c0" clip-path="url(#vc1)"/>
<circle cx="481.7" cy="17.0" r="17" fill="#fcc4af"/>
<circle cx="481.7" cy="17.0" r="17" fill="#ddd3c0" clip-path="url(#vc2)"/>
<text x="353.0" y="50.1" font-size="4.85" fill="#111" font-weight="bold">Tissue</text>
<rect x="353.0" y="52.8" width="4.8" height="4.9" fill="#ff0000"/>
<text x="359.6" y="56.7" font-size="4.85" fill="#111" stroke="#111" stroke-width="0.07">Blood</text>
<text x="353.0" y="67.2" font-size="4.85" fill="#111" font-weight="bold">Drug</text>
<rect x="353.0" y="70.0" width="4.8" height="4.8" fill="#66c2a5"/>
<rect x="353.0" y="75.2" width="4.8" height="4.8" fill="#fc8d62"/>
<text x="359.6" y="73.9" font-size="4.85" fill="#111" stroke="#111" stroke-width="0.07">Adalimumab</text>
<text x="359.6" y="79.2" font-size="4.85" fill="#111" stroke="#111" stroke-width="0.07">Ustekinumab</text>
<text x="353.0" y="89.6" font-size="4.85" fill="#111" font-weight="bold">-log10 p-value</text>
<defs><linearGradient id="pg" x1="0" x2="0" y1="0" y2="1"><stop offset="0" stop-color="#ff0000"/><stop offset="0.5" stop-color="#ff8a6e"/><stop offset="1" stop-color="#ffffff"/></linearGradient><linearGradient id="bg" x1="0" x2="0" y1="0" y2="1"><stop offset="0" stop-color="#0000ff"/><stop offset="0.5" stop-color="#9f8cf8"/><stop offset="1" stop-color="#ffffff"/></linearGradient></defs>
<rect x="353.0" y="91.6" width="5.4" height="26.4" fill="url(#pg)"/>
<text x="359.4" y="94.7" font-size="4.85" fill="#111" stroke="#111" stroke-width="0.07">15</text>
<text x="359.4" y="103.6" font-size="4.85" fill="#111" stroke="#111" stroke-width="0.07">10</text>
<text x="359.4" y="112.8" font-size="4.85" fill="#111" stroke="#111" stroke-width="0.07">5</text>
<text x="359.4" y="121.7" font-size="4.85" fill="#111" stroke="#111" stroke-width="0.07">0</text>
<text x="353.0" y="129.3" font-size="4.85" fill="#111" font-weight="bold">fraction</text>
<text x="353.0" y="134.7" font-size="4.85" fill="#111" font-weight="bold">overlapping</text>
<text x="353.0" y="140.1" font-size="4.85" fill="#111" font-weight="bold">genes in factors</text>
<rect x="353.0" y="142.4" width="5.4" height="26.6" fill="url(#bg)"/>
<text x="359.4" y="145.7" font-size="4.85" fill="#111" stroke="#111" stroke-width="0.07">0.04</text>
<text x="359.4" y="152.9" font-size="4.85" fill="#111" stroke="#111" stroke-width="0.07">0.03</text>
<text x="359.4" y="159.6" font-size="4.85" fill="#111" stroke="#111" stroke-width="0.07">0.02</text>
<text x="359.4" y="166.1" font-size="4.85" fill="#111" stroke="#111" stroke-width="0.07">0.01</text>
<text x="359.4" y="172.5" font-size="4.85" fill="#111" stroke="#111" stroke-width="0.07">0</text>
<text x="395.4" y="50.2" font-size="4.85" fill="#111" font-weight="bold">fraction</text>
<text x="395.4" y="55.6" font-size="4.85" fill="#111" font-weight="bold">overlapping</text>
<text x="395.4" y="61.0" font-size="4.85" fill="#111" font-weight="bold">genes in modules</text>
<rect x="395.4" y="62.6" width="5.4" height="27.0" fill="url(#bg)"/>
<text x="402.0" y="65.6" font-size="4.85" fill="#111" stroke="#111" stroke-width="0.07">0.04</text>
<text x="402.0" y="72.4" font-size="4.85" fill="#111" stroke="#111" stroke-width="0.07">0.03</text>
<text x="402.0" y="79.2" font-size="4.85" fill="#111" stroke="#111" stroke-width="0.07">0.02</text>
<text x="402.0" y="85.9" font-size="4.85" fill="#111" stroke="#111" stroke-width="0.07">0.01</text>
<text x="402.0" y="92.7" font-size="4.85" fill="#111" stroke="#111" stroke-width="0.07">0</text>
<text x="455.3" y="63.5" font-size="5.8" fill="#111" text-anchor="end">Tissue</text>
<text x="455.3" y="70.4" font-size="5.8" fill="#111" text-anchor="end">Drug</text>
<rect x="457.1" y="57.8" width="24.5" height="6.4" fill="#ff0000"/>
<line x1="469.3" y1="57.8" x2="469.3" y2="64.2" stroke="#e00000" stroke-width="0.4"/>
<rect x="457.1" y="64.6" width="12.2" height="6.8" fill="#66c2a5"/>
<rect x="469.3" y="64.6" width="12.3" height="6.8" fill="#fc8d62"/>
<rect x="457.1" y="73.20" width="11.8" height="6.23" fill="#ff0000"/><rect x="484.1" y="73.20" width="10.8" height="6.23" fill="#0000f0"/><rect x="497.8" y="73.20" width="10.2" height="6.23" fill="#ceb4fa"/><rect x="457.1" y="78.93" width="11.8" height="6.23" fill="#ffa58c"/><rect x="484.1" y="78.93" width="10.8" height="6.23" fill="#cab1fa"/><rect x="497.8" y="78.93" width="10.2" height="6.23" fill="#ebdbfd"/><rect x="457.1" y="84.66" width="11.8" height="6.23" fill="#ffcdbd"/><rect x="484.1" y="84.66" width="10.8" height="6.23" fill="#cdb4fa"/><rect x="497.8" y="84.66" width="10.2" height="6.23" fill="#eddefd"/><rect x="457.1" y="90.39" width="11.8" height="6.23" fill="#ffcfbf"/><rect x="484.1" y="90.39" width="10.8" height="6.23" fill="#dbc6fc"/><rect x="497.8" y="90.39" width="10.2" height="6.23" fill="#f1e3fd"/><rect x="457.1" y="96.12" width="11.8" height="6.23" fill="#ffd1c2"/><rect x="484.1" y="96.12" width="10.8" height="6.23" fill="#ebdbfd"/><rect x="497.8" y="96.12" width="10.2" height="6.23" fill="#f6eafe"/><rect x="457.1" y="101.85" width="11.8" height="6.23" fill="#ffd3c4"/><rect x="484.1" y="101.85" width="10.8" height="6.23" fill="#eee0fd"/><rect x="497.8" y="101.85" width="10.2" height="6.23" fill="#f6eafe"/><rect x="457.1" y="107.58" width="11.8" height="6.23" fill="#ffd4c6"/><rect x="484.1" y="107.58" width="10.8" height="6.23" fill="#ceb5fa"/><rect x="497.8" y="107.58" width="10.2" height="6.23" fill="#f0e2fd"/><rect x="457.1" y="113.31" width="11.8" height="6.23" fill="#ffd6c9"/><rect x="484.1" y="113.31" width="10.8" height="6.23" fill="#f4e8fe"/><rect x="497.8" y="113.31" width="10.2" height="6.23" fill="#f8edfe"/><rect x="457.1" y="119.04" width="11.8" height="6.23" fill="#ffd8cb"/><rect x="484.1" y="119.04" width="10.8" height="6.23" fill="#f5e9fe"/><rect x="497.8" y="119.04" width="10.2" height="6.23" fill="#f8edfe"/><rect x="457.1" y="124.77" width="11.8" height="6.23" fill="#ffd9cd"/><rect x="484.1" y="124.77" width="10.8" height="6.23" fill="#f0e2fd"/><rect x="497.8" y="124.77" width="10.2" height="6.23" fill="#f7ebfe"/><rect x="457.1" y="130.50" width="11.8" height="6.23" fill="#ffdbcf"/><rect x="484.1" y="130.50" width="10.8" height="6.23" fill="#f1e3fd"/><rect x="497.8" y="130.50" width="10.2" height="6.23" fill="#f7ebfe"/><rect x="457.1" y="136.23" width="11.8" height="6.23" fill="#ffdcd1"/><rect x="484.1" y="136.23" width="10.8" height="6.23" fill="#f2e5fd"/><rect x="497.8" y="136.23" width="10.2" height="6.23" fill="#f8edfe"/><rect x="457.1" y="141.96" width="11.8" height="6.23" fill="#ffded3"/><rect x="484.1" y="141.96" width="10.8" height="6.23" fill="#ecddfd"/><rect x="497.8" y="141.96" width="10.2" height="6.23" fill="#f5e9fe"/><rect x="457.1" y="147.69" width="11.8" height="6.23" fill="#ffdfd5"/><rect x="484.1" y="147.69" width="10.8" height="6.23" fill="#eddefd"/><rect x="497.8" y="147.69" width="10.2" height="6.23" fill="#f5e9fe"/><rect x="457.1" y="153.42" width="11.8" height="6.23" fill="#ffe0d7"/><rect x="484.1" y="153.42" width="10.8" height="6.23" fill="#f3e6fe"/><rect x="497.8" y="153.42" width="10.2" height="6.23" fill="#f8edfe"/><rect x="457.1" y="159.15" width="11.8" height="6.23" fill="#ffe2d9"/><rect x="484.1" y="159.15" width="10.8" height="6.23" fill="#e2d0fc"/><rect x="497.8" y="159.15" width="10.2" height="6.23" fill="#f3e6fe"/><rect x="457.1" y="164.88" width="11.8" height="6.23" fill="#ffe3db"/><rect x="484.1" y="164.88" width="10.8" height="6.23" fill="#e9d9fd"/><rect x="497.8" y="164.88" width="10.2" height="6.23" fill="#f5e9fe"/><rect x="457.1" y="170.61" width="11.8" height="6.23" fill="#ffe4dd"/><rect x="484.1" y="170.61" width="10.8" height="6.23" fill="#ddcafc"/><rect x="497.8" y="170.61" width="10.2" height="6.23" fill="#f4e7fe"/><rect x="457.1" y="176.34" width="11.8" height="6.23" fill="#ffe5df"/><rect x="484.1" y="176.34" width="10.8" height="6.23" fill="#e5d4fc"/><rect x="497.8" y="176.34" width="10.2" height="6.23" fill="#f6eafe"/><rect x="457.1" y="182.07" width="11.8" height="6.23" fill="#ffe6e1"/><rect x="484.1" y="182.07" width="10.8" height="6.23" fill="#ecddfd"/><rect x="497.8" y="182.07" width="10.2" height="6.23" fill="#f5e9fe"/>
<rect x="508.2" y="73.2" width="10.6" height="5.73" fill="#e6dcfd"/>
<rect x="518.9" y="73.2" width="10.7" height="5.73" fill="#a384f5"/>
<text x="530.9" y="78.5" font-size="5.9" fill="#000" stroke="#000" stroke-width="0.12">Neutrophil degranulation (26)</text>
<text x="530.9" y="84.2" font-size="5.9" fill="#000" stroke="#000" stroke-width="0.12">TNFA signaling via NFKB (11)</text>
<text x="530.9" y="89.9" font-size="5.9" fill="#000" stroke="#000" stroke-width="0.12">Inflammatory response (8)</text>
<text x="530.9" y="95.6" font-size="5.9" fill="#000" stroke="#000" stroke-width="0.12">IL2 STAT5 signaling (8)</text>
<text x="530.9" y="101.4" font-size="5.9" fill="#000" stroke="#000" stroke-width="0.12">IL1 and megakaryocytes in obesity (3)</text>
<text x="530.9" y="107.1" font-size="5.9" fill="#000" stroke="#000" stroke-width="0.12">PID il4 2pathway (4)</text>
<text x="530.9" y="112.8" font-size="5.9" fill="#000" stroke="#000" stroke-width="0.12">Network map of SARS CoV 2 pathway (7)</text>
<text x="530.9" y="118.6" font-size="5.9" fill="#000" stroke="#000" stroke-width="0.12">ECM glycoproteins (6)</text>
<text x="530.9" y="124.3" font-size="5.9" fill="#000" stroke="#000" stroke-width="0.12">Cardiac progenitor differentiation (3)</text>
<text x="530.9" y="130.0" font-size="5.9" fill="#000" stroke="#000" stroke-width="0.12">Peptide GPCRs (3)</text>
<text x="530.9" y="135.8" font-size="5.9" fill="#000" stroke="#000" stroke-width="0.12">Hyperglycemia impairment of neuron function (3)</text>
<text x="530.9" y="141.5" font-size="5.9" fill="#000" stroke="#000" stroke-width="0.12">Myogenesis (6)</text>
<text x="530.9" y="147.2" font-size="5.9" fill="#000" stroke="#000" stroke-width="0.12">IL6 JAK STAT3 signaling (4)</text>
<text x="530.9" y="152.9" font-size="5.9" fill="#000" stroke="#000" stroke-width="0.12">Insulin pathway (5)</text>
<text x="530.9" y="158.7" font-size="5.9" fill="#000" stroke="#000" stroke-width="0.12">Transport of bile salts, organic acids, metals and amines (3)</text>
<text x="530.9" y="164.4" font-size="5.9" fill="#000" stroke="#000" stroke-width="0.12">Formation of the cornified envelope (4)</text>
<text x="530.9" y="170.1" font-size="5.9" fill="#000" stroke="#000" stroke-width="0.12">Metabolism of vitamins and cofactors (5)</text>
<text x="530.9" y="175.9" font-size="5.9" fill="#000" stroke="#000" stroke-width="0.12">Xenobiotic metabolism (5)</text>
<text x="530.9" y="181.6" font-size="5.9" fill="#000" stroke="#000" stroke-width="0.12">Amino acid metabolism (3)</text>
<text x="530.9" y="187.3" font-size="5.9" fill="#000" stroke="#000" stroke-width="0.12">Interferon gamma response (5)</text>
<text transform="translate(491.0 71.4) rotate(-45)" font-size="5.8" fill="#111" stroke="#111" stroke-width="0.06">Factor B1</text>
<text transform="translate(504.0 71.4) rotate(-45)" font-size="5.8" fill="#111" stroke="#111" stroke-width="0.06">navy</text>
<text transform="translate(514.6 71.4) rotate(-45)" font-size="5.8" fill="#111" stroke="#111" stroke-width="0.06">plum</text>
<text transform="translate(525.3 71.4) rotate(-45)" font-size="5.8" fill="#111" stroke="#111" stroke-width="0.06">khaki</text>
<path d="M502.9 52.4V31.2H513.4 M513.4 57.4V31.2 M508.4 31.2V29.8H524.1V57.4" stroke="#333" stroke-width="0.7" fill="none"/>
<path d="M456.8 75.9H442.4V103.8H451.0 M456.8 81.9H451.0V125.5H453.5" stroke="#333" stroke-width="0.65" fill="none"/>
<path d="M453.5 86V125.5 M453.5 90H456.8 M454.5 100V160 M455.6 88V186 M454.8 128V186 M453.5 131H455.2 M456.2 92V150 M456.2 156V185" stroke="#666" stroke-width="0.45" fill="none"/>
<path d="M454.2 140V185 M455.8 150V180 M456.3 120V170" stroke="#999" stroke-width="0.45" fill="none"/>
<path d="M440.6 316.3L401.1 264.3M440.6 316.3L376.6 288.6M440.6 316.3L407.8 293.0M440.6 316.3L434.6 296.8M440.6 316.3L393.2 313.6M440.6 316.3L406.4 332.4M440.6 316.3L429.5 338.7M440.6 316.3L461.2 302.8M440.6 316.3L481.0 336.2M440.6 316.3L426.0 364.2M440.6 316.3L445.9 358.6M440.6 316.3L470.8 358.2M440.6 316.3L402.4 353.0M440.6 316.3L405.3 371.2M440.6 316.3L414.6 394.3M440.6 316.3L398.5 408.0M440.6 316.3L384.8 382.7M440.6 316.3L417.0 421.4M440.6 316.3L437.0 404.0M440.6 316.3L365.0 347.9M454.5 339.2L434.6 296.8M454.5 339.2L406.4 332.4M454.5 339.2L429.5 338.7M454.5 339.2L461.2 302.8M454.5 339.2L481.0 336.2M454.5 339.2L426.0 364.2M454.5 339.2L445.9 358.6M454.5 339.2L470.8 358.2M454.5 339.2L414.6 394.3M454.5 339.2L398.5 408.0M454.5 339.2L417.0 421.4M454.5 339.2L460.1 423.6M454.5 339.2L437.0 404.0M454.5 339.2L405.3 371.2M454.5 339.2L402.4 353.0M358.0 384.0L376.6 288.6M358.0 384.0L365.2 320.0M358.0 384.0L365.0 347.9M358.0 384.0L348.4 411.8M358.0 384.0L351.0 435.8M358.0 384.0L402.4 353.0M358.0 384.0L369.0 460.8M358.0 384.0L434.6 296.8M449.0 384.0L406.4 332.4M449.0 384.0L426.0 364.2M449.0 384.0L445.9 358.6M449.0 384.0L405.3 371.2M449.0 384.0L429.5 338.7M449.0 384.0L434.6 296.8M449.0 384.0L414.6 394.3M449.0 384.0L417.0 421.4M449.0 384.0L402.4 353.0M449.0 384.0L437.0 404.0M449.0 384.0L460.1 423.6M449.0 384.0L470.8 358.2M449.0 384.0L398.5 408.0M449.0 384.0L476.1 431.8M449.0 384.0L430.2 463.3M449.0 384.0L481.0 336.2M449.0 384.0L405.3 502.5M396.0 431.4L393.2 313.6M396.0 431.4L406.4 332.4M396.0 431.4L402.4 353.0M396.0 431.4L426.0 364.2M396.0 431.4L445.9 358.6M396.0 431.4L405.3 371.2M396.0 431.4L414.6 394.3M396.0 431.4L398.5 408.0M396.0 431.4L417.0 421.4M396.0 431.4L437.0 404.0M396.0 431.4L460.1 423.6M396.0 431.4L398.3 456.0M396.0 431.4L430.2 463.3M396.0 431.4L376.8 489.6M396.0 431.4L434.6 296.8M396.0 431.4L369.0 460.8M396.0 431.4L476.1 431.8M396.0 431.4L429.5 338.7M396.0 431.4L407.8 293.0M396.0 431.4L405.3 502.5M379.9 436.9L376.6 288.6M379.9 436.9L365.2 320.0M379.9 436.9L365.0 347.9M379.9 436.9L406.4 332.4M379.9 436.9L402.4 353.0M379.9 436.9L384.8 382.7M379.9 436.9L398.5 408.0M379.9 436.9L437.0 404.0M379.9 436.9L417.0 421.4M379.9 436.9L348.4 411.8M379.9 436.9L369.0 460.8M379.9 436.9L376.8 489.6M379.9 436.9L405.3 502.5M379.9 436.9L434.6 296.8M379.9 436.9L445.9 358.6M379.9 436.9L460.1 423.6M379.9 436.9L429.5 338.7" stroke="#f3c98c" stroke-width="0.42" fill="none"/>
<path d="M467.0 273.7L449.9 222.2M467.0 273.7L477.1 222.6M467.0 273.7L508.0 231.5M467.0 273.7L446.3 248.5M467.0 273.7L517.6 255.2M467.0 273.7L534.6 281.8M467.0 273.7L376.6 288.6M467.0 273.7L407.8 293.0M467.0 273.7L434.6 296.8M467.0 273.7L461.2 302.8M467.0 273.7L498.9 304.2M467.0 273.7L393.2 313.6M467.0 273.7L365.2 320.0M467.0 273.7L534.8 318.2M467.0 273.7L365.0 347.9M467.0 273.7L481.0 336.2M467.0 273.7L470.8 358.2M467.0 273.7L503.7 373.5M467.0 273.7L460.1 423.6M467.0 273.7L476.1 431.8M644.0 355.0L537.0 353.3M644.0 355.0L544.8 371.9M644.0 355.0L555.2 388.9M644.0 355.0L573.4 403.1M644.0 355.0L597.2 412.0M644.0 355.0L624.0 420.6M644.0 355.0L622.3 440.0M644.0 355.0L571.8 436.0M644.0 355.0L582.9 467.3M644.0 355.0L559.6 474.0M644.0 355.0L613.2 473.9M644.0 355.0L657.8 463.0M644.0 355.0L618.5 497.4M644.0 355.0L470.8 358.2M630.0 388.5L537.0 353.3M630.0 388.5L544.8 371.9M630.0 388.5L555.2 388.9M630.0 388.5L573.4 403.1M630.0 388.5L597.2 412.0M630.0 388.5L624.0 420.6M630.0 388.5L622.3 440.0M630.0 388.5L571.8 436.0M630.0 388.5L582.9 467.3M630.0 388.5L559.6 474.0M630.0 388.5L613.2 473.9M630.0 388.5L657.8 463.0M630.0 388.5L618.5 497.4M536.6 418.2L537.0 353.3M536.6 418.2L544.8 371.9M536.6 418.2L555.2 388.9M536.6 418.2L573.4 403.1M536.6 418.2L597.2 412.0M536.6 418.2L624.0 420.6M536.6 418.2L622.3 440.0M536.6 418.2L571.8 436.0M536.6 418.2L582.9 467.3M536.6 418.2L559.6 474.0M536.6 418.2L613.2 473.9M536.6 418.2L618.5 497.4M545.0 446.8L537.0 353.3M545.0 446.8L544.8 371.9M545.0 446.8L555.2 388.9M545.0 446.8L573.4 403.1M545.0 446.8L597.2 412.0M545.0 446.8L624.0 420.6M545.0 446.8L622.3 440.0M545.0 446.8L571.8 436.0M545.0 446.8L582.9 467.3M545.0 446.8L559.6 474.0M545.0 446.8L613.2 473.9M545.0 446.8L618.5 497.4M545.0 446.8L476.1 431.8M545.0 446.8L657.8 463.0M557.0 508.4L537.0 353.3M557.0 508.4L544.8 371.9M557.0 508.4L555.2 388.9M557.0 508.4L573.4 403.1M557.0 508.4L597.2 412.0M557.0 508.4L624.0 420.6M557.0 508.4L622.3 440.0M557.0 508.4L571.8 436.0M557.0 508.4L582.9 467.3M557.0 508.4L559.6 474.0M557.0 508.4L613.2 473.9M557.0 508.4L657.8 463.0M557.0 508.4L618.5 497.4" stroke="#9dbbea" stroke-width="0.45" fill="none"/>
<circle cx="449.9" cy="222.2" r="3.2" fill="#00008a"/>
<circle cx="477.1" cy="222.6" r="3.2" fill="#e29ae2"/>
<circle cx="508.0" cy="231.5" r="3.2" fill="#00008a"/>
<circle cx="446.3" cy="248.5" r="3.2" fill="#efe58c"/>
<circle cx="517.6" cy="255.2" r="3.2" fill="#e29ae2"/>
<circle cx="401.1" cy="264.3" r="3.2" fill="#00008a"/>
<circle cx="534.6" cy="281.8" r="3.2" fill="#00008a"/>
<circle cx="376.6" cy="288.6" r="3.2" fill="#00008a"/>
<circle cx="407.8" cy="293.0" r="3.2" fill="#efe58c"/>
<circle cx="434.6" cy="296.8" r="3.2" fill="#00008a"/>
<circle cx="461.2" cy="302.8" r="3.2" fill="#00008a"/>
<circle cx="498.9" cy="304.2" r="3.2" fill="#00008a"/>
<circle cx="393.2" cy="313.6" r="3.2" fill="#00008a"/>
<circle cx="365.2" cy="320.0" r="3.2" fill="#00008a"/>
<circle cx="534.8" cy="318.2" r="3.2" fill="#00008a"/>
<circle cx="406.4" cy="332.4" r="3.2" fill="#00008a"/>
<circle cx="481.0" cy="336.2" r="3.2" fill="#00008a"/>
<circle cx="429.5" cy="338.7" r="3.2" fill="#00008a"/>
<circle cx="365.0" cy="347.9" r="3.2" fill="#00008a"/>
<circle cx="402.4" cy="353.0" r="3.2" fill="#00008a"/>
<circle cx="537.0" cy="353.3" r="3.2" fill="#7f7f7f"/>
<circle cx="445.9" cy="358.6" r="3.2" fill="#00008a"/>
<circle cx="470.8" cy="358.2" r="3.2" fill="#00008a"/>
<circle cx="426.0" cy="364.2" r="3.2" fill="#e29ae2"/>
<circle cx="405.3" cy="371.2" r="3.2" fill="#00008a"/>
<circle cx="544.8" cy="371.9" r="3.2" fill="#6b8e23"/>
<circle cx="503.7" cy="373.5" r="3.2" fill="#00008a"/>
<circle cx="384.8" cy="382.7" r="3.2" fill="#00008a"/>
<circle cx="555.2" cy="388.9" r="3.2" fill="#7f7f7f"/>
<circle cx="414.6" cy="394.3" r="3.2" fill="#00008a"/>
<circle cx="573.4" cy="403.1" r="3.2" fill="#6b8e23"/>
<circle cx="437.0" cy="404.0" r="3.2" fill="#00008a"/>
<circle cx="398.5" cy="408.0" r="3.2" fill="#00008a"/>
<circle cx="348.4" cy="411.8" r="3.2" fill="#00008a"/>
<circle cx="597.2" cy="412.0" r="3.2" fill="#6b8e23"/>
<circle cx="624.0" cy="420.6" r="3.2" fill="#6b8e23"/>
<circle cx="417.0" cy="421.4" r="3.2" fill="#00008a"/>
<circle cx="460.1" cy="423.6" r="3.2" fill="#efe58c"/>
<circle cx="476.1" cy="431.8" r="3.2" fill="#7f7f7f"/>
<circle cx="351.0" cy="435.8" r="3.2" fill="#efe58c"/>
<circle cx="571.8" cy="436.0" r="3.2" fill="#7f7f7f"/>
<circle cx="622.3" cy="440.0" r="3.2" fill="#7f7f7f"/>
<circle cx="398.3" cy="456.0" r="3.2" fill="#7f7f7f"/>
<circle cx="369.0" cy="460.8" r="3.2" fill="#00008a"/>
<circle cx="430.2" cy="463.3" r="3.2" fill="#00008a"/>
<circle cx="657.8" cy="463.0" r="3.2" fill="#7f7f7f"/>
<circle cx="582.9" cy="467.3" r="3.2" fill="#6b8e23"/>
<circle cx="559.6" cy="474.0" r="3.2" fill="#9a2fcc"/>
<circle cx="613.2" cy="473.9" r="3.2" fill="#7f7f7f"/>
<circle cx="376.8" cy="489.6" r="3.2" fill="#e29ae2"/>
<circle cx="618.5" cy="497.4" r="3.2" fill="#6b8e23"/>
<circle cx="405.3" cy="502.5" r="3.2" fill="#00008a"/>
<rect x="462.4" y="269.1" width="9.2" height="9.2" fill="#9dc0f8" stroke="#4f88e6" stroke-width="0.7"/>
<rect x="436.0" y="311.7" width="9.2" height="9.2" fill="#ffff00" stroke="#eab200" stroke-width="0.7"/>
<rect x="449.9" y="334.6" width="9.2" height="9.2" fill="#ffff00" stroke="#eab200" stroke-width="0.7"/>
<rect x="353.4" y="379.4" width="9.2" height="9.2" fill="#ffff00" stroke="#eab200" stroke-width="0.7"/>
<rect x="444.4" y="379.4" width="9.2" height="9.2" fill="#ffff00" stroke="#eab200" stroke-width="0.7"/>
<rect x="391.4" y="426.8" width="9.2" height="9.2" fill="#ffff00" stroke="#eab200" stroke-width="0.7"/>
<rect x="375.3" y="432.3" width="9.2" height="9.2" fill="#ffff00" stroke="#eab200" stroke-width="0.7"/>
<rect x="639.4" y="350.4" width="9.2" height="9.2" fill="#9dc0f8" stroke="#4f88e6" stroke-width="0.7"/>
<rect x="625.4" y="383.9" width="9.2" height="9.2" fill="#9dc0f8" stroke="#4f88e6" stroke-width="0.7"/>
<rect x="532.0" y="413.6" width="9.2" height="9.2" fill="#9dc0f8" stroke="#4f88e6" stroke-width="0.7"/>
<rect x="540.4" y="442.2" width="9.2" height="9.2" fill="#9dc0f8" stroke="#4f88e6" stroke-width="0.7"/>
<rect x="552.4" y="503.8" width="9.2" height="9.2" fill="#9dc0f8" stroke="#4f88e6" stroke-width="0.7"/>
<text x="449.9" y="235.2" font-size="7.5" fill="#222" text-anchor="middle">VNN1</text>
<text x="477.1" y="236.0" font-size="7.5" fill="#222" text-anchor="middle">CKAP4</text>
<text x="508.0" y="244.5" font-size="7.5" fill="#222" text-anchor="middle">MMP25</text>
<text x="446.3" y="261.5" font-size="7.5" fill="#222" text-anchor="middle">MCEMP1</text>
<text x="517.6" y="268.5" font-size="7.5" fill="#222" text-anchor="middle">PGLYRP1</text>
<text x="401.1" y="277.4" font-size="7.5" fill="#222" text-anchor="middle">SORL1</text>
<text x="534.6" y="295.3" font-size="7.5" fill="#222" text-anchor="middle">ADGRG3</text>
<text x="376.6" y="301.4" font-size="7.5" fill="#222" text-anchor="middle">TNFAIP6</text>
<text x="407.8" y="306.0" font-size="7.5" fill="#222" text-anchor="middle">ADAM8</text>
<text x="434.6" y="310.0" font-size="7.5" fill="#222" text-anchor="middle">MMP9</text>
<text x="461.2" y="316.3" font-size="7.5" fill="#222" text-anchor="middle">HAL</text>
<text x="498.9" y="316.8" font-size="7.5" fill="#222" text-anchor="middle">PYGL</text>
<text x="393.2" y="326.8" font-size="7.5" fill="#222" text-anchor="middle">CXCR2</text>
<text x="365.2" y="333.5" font-size="7.5" fill="#222" text-anchor="middle">ARG1</text>
<text x="534.8" y="331.2" font-size="7.5" fill="#222" text-anchor="middle">CYSTM1</text>
<text x="406.4" y="345.7" font-size="7.5" fill="#222" text-anchor="middle">SOCS3</text>
<text x="481.0" y="349.2" font-size="7.5" fill="#222" text-anchor="middle">PFKFB3</text>
<text x="429.5" y="351.3" font-size="7.5" fill="#222" text-anchor="middle">CXCR1</text>
<text x="365.0" y="360.9" font-size="7.5" fill="#222" text-anchor="middle">ORM1</text>
<text x="402.4" y="366.0" font-size="7.5" fill="#222" text-anchor="middle">NFIL3</text>
<text x="537.0" y="366.5" font-size="7.5" fill="#222" text-anchor="middle">IGLV3-25</text>
<text x="445.9" y="372.3" font-size="7.5" fill="#222" text-anchor="middle">SOD2</text>
<text x="470.8" y="372.0" font-size="7.5" fill="#222" text-anchor="middle">C5AR1</text>
<text x="426.0" y="377.2" font-size="7.5" fill="#222" text-anchor="middle">BCL3</text>
<text x="405.3" y="384.2" font-size="7.5" fill="#222" text-anchor="middle">BCL6</text>
<text x="544.8" y="384.9" font-size="7.5" fill="#222" text-anchor="middle">IGKV3-11</text>
<text x="503.7" y="386.6" font-size="7.5" fill="#222" text-anchor="middle">SLC2A3</text>
<text x="384.8" y="396.3" font-size="7.5" fill="#222" text-anchor="middle">DSC2</text>
<text x="555.2" y="402.0" font-size="7.5" fill="#222" text-anchor="middle">IGLV3-19</text>
<text x="414.6" y="407.8" font-size="7.5" fill="#222" text-anchor="middle">AQP9</text>
<text x="573.4" y="416.0" font-size="7.5" fill="#222" text-anchor="middle">IGKV1-33</text>
<text x="437.0" y="417.0" font-size="7.5" fill="#222" text-anchor="middle">IL1R1</text>
<text x="398.5" y="421.0" font-size="7.5" fill="#222" text-anchor="middle">ADM</text>
<text x="348.4" y="425.2" font-size="7.5" fill="#222" text-anchor="middle">SLC22A4</text>
<text x="597.2" y="425.4" font-size="7.5" fill="#222" text-anchor="middle">IGKV1D-39</text>
<text x="624.0" y="433.8" font-size="7.5" fill="#222" text-anchor="middle">IGKV3-15</text>
<text x="417.0" y="435.0" font-size="7.5" fill="#222" text-anchor="middle">JUNB</text>
<text x="459.9" y="437.4" font-size="7.5" fill="#222" text-anchor="middle">S100A9</text>
<text x="476.0" y="445.4" font-size="7.5" fill="#222" text-anchor="middle">HP</text>
<text x="351.0" y="449.0" font-size="7.5" fill="#222" text-anchor="middle">FFAR2</text>
<text x="571.8" y="449.3" font-size="7.5" fill="#222" text-anchor="middle">IGKV1-9</text>
<text x="622.3" y="453.3" font-size="7.5" fill="#222" text-anchor="middle">IGHG1</text>
<text x="398.3" y="469.4" font-size="7.5" fill="#222" text-anchor="middle">NKX3-1</text>
<text x="369.0" y="473.8" font-size="7.5" fill="#222" text-anchor="middle">IL1R2</text>
<text x="430.2" y="476.4" font-size="7.5" fill="#222" text-anchor="middle">ARHGEF40</text>
<text x="657.8" y="476.5" font-size="7.5" fill="#222" text-anchor="middle">IGHG4</text>
<text x="582.9" y="480.8" font-size="7.5" fill="#222" text-anchor="middle">IGLV1-51</text>
<text x="559.6" y="487.0" font-size="7.5" fill="#222" text-anchor="middle">IGHD</text>
<text x="613.2" y="486.8" font-size="7.5" fill="#222" text-anchor="middle">IGHV4-59</text>
<text x="376.8" y="502.6" font-size="7.5" fill="#222" text-anchor="middle">PI3</text>
<text x="618.5" y="510.0" font-size="7.5" fill="#222" text-anchor="middle">IGKV3-20</text>
<text x="405.3" y="515.7" font-size="7.5" fill="#222" text-anchor="middle">NOTCH1</text>
<text x="466.8" y="288.3" font-size="7.5" fill="#222" text-anchor="middle">Neutrophil degranulation</text>
<text x="440.5" y="331.0" font-size="7.5" fill="#222" text-anchor="middle">Immunoglobulin</text>
<text x="455.0" y="354.0" font-size="7.5" fill="#222" text-anchor="middle">IL22</text>
<text x="358.4" y="399.0" font-size="7.5" fill="#222" text-anchor="middle">CSF</text>
<text x="449.2" y="398.2" font-size="7.5" fill="#222" text-anchor="middle">STAT3</text>
<text x="396.0" y="446.0" font-size="7.5" fill="#222" text-anchor="middle">TNF</text>
<text x="380.0" y="451.6" font-size="7.5" fill="#222" text-anchor="middle">IL1B</text>
<text x="644.2" y="369.5" font-size="7.5" fill="#222" text-anchor="middle">Complement cascade</text>
<text x="630.0" y="403.2" font-size="7.5" fill="#222" text-anchor="middle">B Cell Devel.</text>
<text x="536.5" y="432.6" font-size="7.5" fill="#222" text-anchor="middle">IL-15 Signaling</text>
<text x="545.3" y="461.2" font-size="7.5" fill="#222" text-anchor="middle">Binding and Uptake of Ligands by Scavenger Recept.</text>
<text x="556.9" y="522.2" font-size="7.5" fill="#222" text-anchor="middle">Fc&#947;RIIB Signaling in B Cells</text>
<text transform="translate(-0.5 14.7) scale(0.86 1)" font-size="20" font-weight="bold" fill="#000">a</text>
<text transform="translate(159.6 15.3) scale(1.0 1)" font-size="20" font-weight="bold" fill="#000">b</text>
<text transform="translate(-0.7 129.5) scale(0.86 1)" font-size="20" font-weight="bold" fill="#000">c</text>
<text transform="translate(341.4 15.3) scale(0.97 1)" font-size="20" font-weight="bold" fill="#000">d</text>
<text transform="translate(349.2 215.6) scale(1.0 1)" font-size="20" font-weight="bold" fill="#000">e</text>
</svg></body></html>
